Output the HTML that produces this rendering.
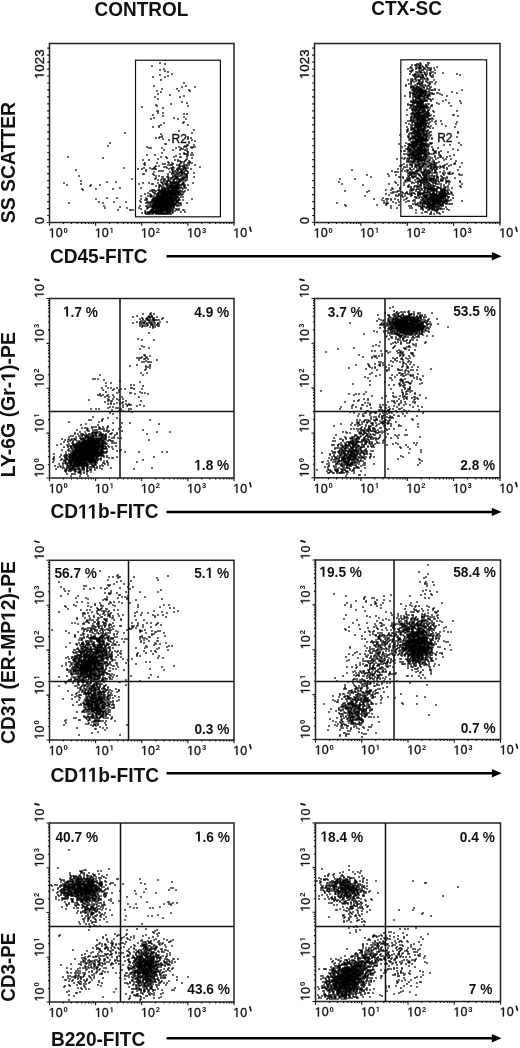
<!DOCTYPE html><html><head><meta charset="utf-8"><style>html,body{margin:0;padding:0;background:#fff;}svg{display:block;will-change:transform}</style></head><body><svg width="520" height="1048" viewBox="0 0 520 1048" font-family='"Liberation Sans", sans-serif' fill="#111">
<rect width="520" height="1048" fill="#fff"/>
<path d="M160 63h0m5 1h0m-13 2h0m12 3h0m-4 1h0m5 1h0m3 1h0m4 2h0m-12 1h0m8 1h0m-15 1h0m12 0h0m-4 3h0m23 3h0m-30 3h0m32 0h0m-4 1h0m13 0h0m-33 2h0m15 0h0m12 1h0m-32 1h0m22 0h0m11 0h0m-29 1h0m-3 2h0m12 1h0m14 1h0m-29 1h0m25 0h0m-22 2h0m24 3h0m5 1h0m-16 1h0m-15 1h0m1 1h0m31 0h0m-46 1h0m21 1h0m-6 3h0m1 0h0m0 2h0m5 0h0m21 1h0m3 0h0m-34 1h0m10 1h0m21 1h0m-30 1h0m20 0h0m-23 1h0m27 0h0m8 0h0m-2 3h0m-20 1h0m19 0h0m-22 2h0m27 0h0m-29 1h0m-6 1h0m6 0h0m35 3h0m-15 1h0m-54 2h0m67 0h0m-31 1h0m1 2h0m-2 1h0m2 0h0m26 0h0m-32 1h0m3 0h0m29 0h0m3 0h0m-28 1h0m25 0h0m-19 1h0m23 0h0m3 1h0m-6 1h0m-79 1h0m79 0h0m-24 1h0m1 0h0m21 1h0m1 0h0m6 0h0m-86 1h0m77 0h0m2 0h0m-40 1h0m32 0h0m5 0h0m2 0h0m5 0h0m2 0h0m2 0h0m-46 1h0m2 0h0m11 0h0m14 0h0m5 0h0m11 0h0m-11 1h0m2 0h0m4 0h0m-23 1h0m9 0h0m7 0h0m5 0h0m2 1h0m1 1h0m-26 1h0m22 0h0m4 0h0m4 0h0m-12 1h0m4 0h0m1 0h0m1 0h0m1 0h0m-40 1h0m8 0h0m33 0h0m3 0h0m2 0h0m-17 1h0m11 0h0m-119 1h0m93 0h0m5 0h0m8 0h0m6 0h0m1 0h0m6 0h0m-84 1h0m64 0h0m25 0h0m-34 1h0m29 0h0m-44 1h0m6 0h0m26 0h0m3 0h0m8 0h0m-8 1h0m2 0h0m5 0h0m4 0h0m-21 1h0m13 0h0m1 0h0m2 0h0m6 0h0m-45 1h0m12 0h0m12 0h0m3 0h0m9 0h0m7 0h0m1 0h0m1 0h0m2 0h0m-48 1h0m19 0h0m2 0h0m8 0h0m7 0h0m4 0h0m-39 1h0m23 0h0m2 0h0m1 0h0m1 0h0m5 0h0m2 0h0m5 0h0m2 0h0m1 0h0m2 0h0m6 0h0m-39 1h0m3 0h0m20 0h0m1 0h0m2 0h0m2 0h0m3 0h0m-32 1h0m9 0h0m2 0h0m7 0h0m7 0h0m3 0h0m2 0h0m15 0h0m-76 1h0m20 0h0m6 0h0m4 0h0m13 0h0m4 0h0m1 0h0m2 0h0m4 0h0m1 0h0m5 0h0m1 0h0m1 0h0m2 0h0m-50 1h0m4 0h0m10 0h0m1 0h0m2 0h0m1 0h0m13 0h0m3 0h0m5 0h0m2 0h0m1 0h0m1 0h0m2 0h0m1 0h0m2 0h0m5 0h0m-115 1h0m70 0h0m26 0h0m1 0h0m4 0h0m1 0h0m3 0h0m2 0h0m3 0h0m-40 1h0m13 0h0m2 0h0m2 0h0m10 0h0m2 0h0m3 0h0m3 0h0m1 0h0m3 0h0m2 0h0m-33 1h0m16 0h0m3 0h0m2 0h0m2 0h0m3 0h0m1 0h0m1 0h0m2 0h0m4 0h0m-16 1h0m1 0h0m4 0h0m2 0h0m2 0h0m1 0h0m1 0h0m1 0h0m4 0h0m6 0h0m-51 1h0m1 0h0m9 0h0m15 0h0m4 0h0m2 0h0m1 0h0m2 0h0m1 0h0m1 0h0m3 0h0m3 0h0m1 0h0m1 0h0m-33 1h0m22 0h0m5 0h0m2 0h0m2 0h0m1 0h0m1 0h0m-108 1h0m77 0h0m3 0h0m9 0h0m5 0h0m1 0h0m1 0h0m1 0h0m2 0h0m1 0h0m1 0h0m1 0h0m6 0h0m-25 1h0m1 0h0m4 0h0m1 0h0m5 0h0m3 0h0m1 0h0m6 0h0m1 0h0m1 0h0m1 0h0m1 0h0m7 0h0m-38 1h0m13 0h0m2 0h0m1 0h0m3 0h0m1 0h0m1 0h0m1 0h0m4 0h0m1 0h0m2 0h0m2 0h0m-55 1h0m23 0h0m7 0h0m2 0h0m1 0h0m3 0h0m3 0h0m3 0h0m1 0h0m1 0h0m1 0h0m1 0h0m2 0h0m1 0h0m1 0h0m1 0h0m1 0h0m-26 1h0m3 0h0m3 0h0m5 0h0m4 0h0m1 0h0m5 0h0m1 0h0m2 0h0m1 0h0m3 0h0m1 0h0m-106 1h0m83 0h0m2 0h0m1 0h0m1 0h0m1 0h0m1 0h0m4 0h0m3 0h0m2 0h0m1 0h0m1 0h0m4 0h0m-78 1h0m9 0h0m45 0h0m2 0h0m4 0h0m4 0h0m1 0h0m2 0h0m1 0h0m1 0h0m2 0h0m1 0h0m1 0h0m3 0h0m-119 1h0m79 0h0m6 0h0m9 0h0m4 0h0m3 0h0m2 0h0m3 0h0m1 0h0m1 0h0m1 0h0m1 0h0m1 0h0m1 0h0m1 0h0m1 0h0m5 0h0m1 0h0m9 0h0m-112 1h0m58 0h0m13 0h0m1 0h0m10 0h0m2 0h0m1 0h0m2 0h0m3 0h0m2 0h0m2 0h0m1 0h0m1 0h0m1 0h0m1 0h0m3 0h0m1 0h0m-116 1h0m24 0h0m9 0h0m59 0h0m1 0h0m3 0h0m3 0h0m1 0h0m1 0h0m2 0h0m1 0h0m1 0h0m1 0h0m2 0h0m2 0h0m1 0h0m2 0h0m1 0h0m1 0h0m2 0h0m1 0h0m3 0h0m-98 1h0m66 0h0m4 0h0m1 0h0m6 0h0m2 0h0m1 0h0m2 0h0m1 0h0m1 0h0m1 0h0m1 0h0m1 0h0m1 0h0m1 0h0m5 0h0m1 0h0m-26 1h0m3 0h0m2 0h0m3 0h0m2 0h0m1 0h0m1 0h0m1 0h0m1 0h0m2 0h0m1 0h0m1 0h0m1 0h0m1 0h0m2 0h0m3 0h0m-64 1h0m21 0h0m18 0h0m3 0h0m2 0h0m1 0h0m2 0h0m1 0h0m1 0h0m2 0h0m1 0h0m1 0h0m1 0h0m1 0h0m1 0h0m1 0h0m1 0h0m1 0h0m1 0h0m2 0h0m3 0h0m1 0h0m-104 1h0m14 0h0m17 0h0m49 0h0m1 0h0m2 0h0m1 0h0m2 0h0m1 0h0m2 0h0m2 0h0m1 0h0m2 0h0m1 0h0m1 0h0m5 0h0m-100 1h0m69 0h0m1 0h0m1 0h0m4 0h0m1 0h0m1 0h0m2 0h0m1 0h0m1 0h0m1 0h0m1 0h0m2 0h0m1 0h0m2 0h0m1 0h0m1 0h0m1 0h0m1 0h0m1 0h0m1 0h0m1 0h0m2 0h0m8 0h0m-38 1h0m2 0h0m3 0h0m1 0h0m3 0h0m1 0h0m1 0h0m1 0h0m1 0h0m1 0h0m1 0h0m1 0h0m1 0h0m1 0h0m1 0h0m1 0h0m1 0h0m1 0h0m1 0h0m1 0h0m1 0h0m1 0h0m1 0h0m1 0h0m2 0h0m2 0h0m3 0h0m-32 1h0m6 0h0m2 0h0m1 0h0m1 0h0m1 0h0m1 0h0m1 0h0m1 0h0m1 0h0m1 0h0m1 0h0m1 0h0m1 0h0m1 0h0m1 0h0m2 0h0m1 0h0m1 0h0m1 0h0m1 0h0m2 0h0m1 0h0m1 0h0m-36 1h0m6 0h0m1 0h0m3 0h0m1 0h0m1 0h0m1 0h0m1 0h0m1 0h0m1 0h0m1 0h0m1 0h0m1 0h0m1 0h0m1 0h0m1 0h0m1 0h0m1 0h0m1 0h0m1 0h0m1 0h0m1 0h0m1 0h0m1 0h0m1 0h0m1 0h0m-35 1h0m5 0h0m5 0h0m2 0h0m1 0h0m1 0h0m2 0h0m1 0h0m1 0h0m1 0h0m1 0h0m1 0h0m1 0h0m1 0h0m1 0h0m1 0h0m1 0h0m1 0h0m1 0h0m1 0h0m1 0h0m1 0h0m1 0h0m1 0h0m1 0h0m2 0h0m2 0h0m-32 1h0m6 0h0m1 0h0m1 0h0m2 0h0m1 0h0m1 0h0m1 0h0m1 0h0m1 0h0m1 0h0m1 0h0m2 0h0m1 0h0m1 0h0m1 0h0m1 0h0m1 0h0m1 0h0m1 0h0m1 0h0m1 0h0m1 0h0m2 0h0m-41 1h0m7 0h0m2 0h0m1 0h0m1 0h0m2 0h0m3 0h0m1 0h0m1 0h0m1 0h0m1 0h0m1 0h0m1 0h0m1 0h0m1 0h0m1 0h0m1 0h0m1 0h0m1 0h0m1 0h0m1 0h0m1 0h0m2 0h0m2 0h0m1 0h0m-26 1h0m5 0h0m1 0h0m2 0h0m1 0h0m1 0h0m1 0h0m1 0h0m1 0h0m1 0h0m1 0h0m1 0h0m1 0h0m1 0h0m1 0h0m1 0h0m1 0h0m1 0h0m2 0h0m1 0h0m1 0h0m1 0h0m3 0h0m2 0h0m-76 1h0m10 0h0m29 0h0m7 0h0m1 0h0m1 0h0m1 0h0m1 0h0m1 0h0m1 0h0m1 0h0m1 0h0m1 0h0m1 0h0m1 0h0m1 0h0m1 0h0m1 0h0m1 0h0m1 0h0m1 0h0m1 0h0m1 0h0m1 0h0m1 0h0m2 0h0m1 0h0m2 0h0m-83 1h0m45 0h0m6 0h0m6 0h0m1 0h0m1 0h0m2 0h0m1 0h0m1 0h0m1 0h0m1 0h0m1 0h0m1 0h0m1 0h0m1 0h0m1 0h0m1 0h0m1 0h0m1 0h0m1 0h0m1 0h0m1 0h0m2 0h0m1 0h0m1 0h0m3 0h0m13 0h0m-47 1h0m1 0h0m1 0h0m5 0h0m2 0h0m2 0h0m1 0h0m1 0h0m1 0h0m1 0h0m1 0h0m1 0h0m1 0h0m1 0h0m1 0h0m1 0h0m1 0h0m1 0h0m1 0h0m1 0h0m1 0h0m1 0h0m1 0h0m1 0h0m1 0h0m2 0h0m1 0h0m1 0h0m1 0h0m3 0h0m-43 1h0m12 0h0m1 0h0m1 0h0m1 0h0m1 0h0m1 0h0m1 0h0m1 0h0m1 0h0m1 0h0m1 0h0m1 0h0m1 0h0m1 0h0m1 0h0m1 0h0m1 0h0m1 0h0m1 0h0m1 0h0m1 0h0m1 0h0m1 0h0m2 0h0m1 0h0m1 0h0m-79 1h0m15 0h0m12 0h0m15 0h0m6 0h0m1 0h0m2 0h0m1 0h0m1 0h0m2 0h0m1 0h0m1 0h0m1 0h0m1 0h0m1 0h0m1 0h0m1 0h0m1 0h0m1 0h0m1 0h0m1 0h0m1 0h0m1 0h0m1 0h0m1 0h0m1 0h0m1 0h0m1 0h0m1 0h0m1 0h0m2 0h0m1 0h0m1 0h0m-109 1h0m34 0h0m43 0h0m2 0h0m2 0h0m2 0h0m2 0h0m1 0h0m1 0h0m2 0h0m1 0h0m1 0h0m1 0h0m1 0h0m1 0h0m1 0h0m1 0h0m1 0h0m1 0h0m1 0h0m1 0h0m1 0h0m1 0h0m1 0h0m1 0h0m1 0h0m2 0h0m2 0h0m1 0h0m2 0h0m6 0h0m-37 1h0m3 0h0m1 0h0m1 0h0m1 0h0m1 0h0m1 0h0m1 0h0m1 0h0m1 0h0m1 0h0m1 0h0m1 0h0m1 0h0m1 0h0m1 0h0m1 0h0m1 0h0m1 0h0m1 0h0m1 0h0m1 0h0m1 0h0m1 0h0m1 0h0m4 0h0m-32 1h0m2 0h0m1 0h0m2 0h0m1 0h0m1 0h0m1 0h0m1 0h0m1 0h0m1 0h0m1 0h0m1 0h0m1 0h0m1 0h0m1 0h0m1 0h0m1 0h0m1 0h0m1 0h0m1 0h0m1 0h0m1 0h0m1 0h0m1 0h0m1 0h0m1 0h0m1 0h0m2 0h0m3 0h0m-77 1h0m36 0h0m6 0h0m6 0h0m1 0h0m1 0h0m1 0h0m1 0h0m1 0h0m1 0h0m1 0h0m1 0h0m1 0h0m1 0h0m1 0h0m1 0h0m1 0h0m1 0h0m1 0h0m1 0h0m1 0h0m1 0h0m1 0h0m1 0h0m1 0h0m1 0h0m3 0h0m2 0h0m-59 1h0m27 0h0m1 0h0m1 0h0m1 0h0m1 0h0m1 0h0m1 0h0m1 0h0m1 0h0m1 0h0m1 0h0m1 0h0m1 0h0m1 0h0m1 0h0m1 0h0m1 0h0m1 0h0m1 0h0m1 0h0m1 0h0m1 0h0m1 0h0m1 0h0m1 0h0m1 0h0m1 0h0m1 0h0m-69 1h0m22 0h0m12 0h0m9 0h0m5 0h0m1 0h0m1 0h0m1 0h0m1 0h0m1 0h0m1 0h0m1 0h0m1 0h0m1 0h0m1 0h0m1 0h0m1 0h0m1 0h0m1 0h0m1 0h0m1 0h0m1 0h0m1 0h0m3 0h0m-33 1h0m6 0h0m5 0h0m1 0h0m1 0h0m2 0h0m1 0h0m1 0h0m1 0h0m1 0h0m1 0h0m1 0h0m1 0h0m1 0h0m1 0h0m1 0h0m1 0h0m1 0h0m1 0h0m1 0h0m2 0h0m1 0h0m3 0h0m1 0h0m2 0h0m-61 1h0m12 0h0m1 0h0m2 0h0m18 0h0m1 0h0m2 0h0m2 0h0m1 0h0m1 0h0m1 0h0m1 0h0m1 0h0m1 0h0m1 0h0m1 0h0m1 0h0m1 0h0m1 0h0m1 0h0m1 0h0m1 0h0m1 0h0m2 0h0m4 0h0m2 0h0m4 0h0m1 0h0m-39 1h0m5 0h0m2 0h0m1 0h0m1 0h0m1 0h0m1 0h0m1 0h0m1 0h0m2 0h0m1 0h0m1 0h0m1 0h0m1 0h0m1 0h0m2 0h0m1 0h0m1 0h0m1 0h0m1 0h0m2 0h0m2 0h0m-29 1h0m2 0h0m1 0h0m1 0h0m1 0h0m1 0h0m1 0h0m1 0h0m1 0h0m2 0h0m1 0h0m1 0h0m1 0h0m1 0h0m1 0h0m1 0h0m3 0h0m1 0h0m1 0h0m1 0h0m1 0h0m2 0h0m9 0h0m4 0h0m-43 1h0m3 0h0m3 0h0m2 0h0m2 0h0m1 0h0m1 0h0m1 0h0m1 0h0m1 0h0m1 0h0m1 0h0m2 0h0m1 0h0m1 0h0m1 0h0m2 0h0m1 0h0m2 0h0m1 0h0m3 0h0m-27 1h0m1 0h0m1 0h0m1 0h0m1 0h0m2 0h0m1 0h0m3 0h0m1 0h0m1 0h0m1 0h0m1 0h0m1 0h0m1 0h0m1 0h0m1 0h0m1 0h0m1 0h0m1 0h0m1 0h0m2 0h0m1 0h0" stroke="#000" stroke-width="1.6" stroke-linecap="square" fill="none"/>
<path d="M420 63h0m8 0h0m1 0h0m-12 1h0m1 0h0m3 0h0m-9 1h0m3 0h0m1 0h0m3 0h0m1 0h0m6 0h0m2 0h0m-12 1h0m1 0h0m3 0h0m2 0h0m4 0h0m-15 1h0m8 0h0m1 0h0m3 0h0m4 0h0m10 0h0m-27 1h0m2 0h0m4 0h0m1 0h0m2 0h0m1 0h0m1 0h0m3 0h0m1 0h0m3 0h0m1 0h0m2 0h0m3 0h0m-26 1h0m8 0h0m3 0h0m1 0h0m4 0h0m1 0h0m6 0h0m-19 1h0m1 0h0m9 0h0m1 0h0m4 0h0m2 0h0m1 0h0m5 0h0m-25 1h0m2 0h0m7 0h0m2 0h0m10 0h0m-20 1h0m5 0h0m1 0h0m3 0h0m1 0h0m3 0h0m3 0h0m6 0h0m-15 1h0m2 0h0m2 0h0m3 0h0m5 0h0m1 0h0m4 0h0m8 0h0m-33 1h0m5 0h0m1 0h0m9 0h0m2 0h0m3 0h0m27 0h0m-44 1h0m1 0h0m1 0h0m1 0h0m2 0h0m1 0h0m2 0h0m1 0h0m1 0h0m3 0h0m4 0h0m3 0h0m27 0h0m-46 1h0m4 0h0m1 0h0m4 0h0m3 0h0m5 0h0m-16 1h0m1 0h0m1 0h0m1 0h0m2 0h0m1 0h0m1 0h0m1 0h0m9 0h0m1 0h0m-17 1h0m5 0h0m2 0h0m1 0h0m3 0h0m-16 1h0m1 0h0m3 0h0m6 0h0m4 0h0m2 0h0m1 0h0m-20 1h0m5 0h0m3 0h0m2 0h0m1 0h0m1 0h0m3 0h0m5 0h0m6 0h0m-23 1h0m1 0h0m4 0h0m3 0h0m1 0h0m6 0h0m-15 1h0m3 0h0m5 0h0m3 0h0m1 0h0m4 0h0m3 0h0m2 0h0m4 0h0m-25 1h0m7 0h0m1 0h0m2 0h0m1 0h0m6 0h0m2 0h0m-21 1h0m2 0h0m6 0h0m1 0h0m2 0h0m1 0h0m1 0h0m8 0h0m5 0h0m-29 1h0m9 0h0m5 0h0m3 0h0m2 0h0m4 0h0m-23 1h0m5 0h0m2 0h0m4 0h0m4 0h0m1 0h0m4 0h0m2 0h0m1 0h0m-18 1h0m1 0h0m2 0h0m2 0h0m2 0h0m1 0h0m4 0h0m1 0h0m7 0h0m-20 1h0m2 0h0m1 0h0m2 0h0m1 0h0m1 0h0m2 0h0m1 0h0m3 0h0m3 0h0m3 0h0m-17 1h0m2 0h0m1 0h0m1 0h0m2 0h0m1 0h0m1 0h0m1 0h0m5 0h0m2 0h0m6 0h0m-23 1h0m2 0h0m1 0h0m1 0h0m2 0h0m1 0h0m1 0h0m1 0h0m1 0h0m1 0h0m2 0h0m6 0h0m1 0h0m1 0h0m2 0h0m4 0h0m23 0h0m-49 1h0m2 0h0m2 0h0m2 0h0m1 0h0m1 0h0m1 0h0m1 0h0m1 0h0m1 0h0m1 0h0m3 0h0m-19 1h0m4 0h0m1 0h0m1 0h0m2 0h0m2 0h0m1 0h0m1 0h0m1 0h0m1 0h0m1 0h0m1 0h0m1 0h0m2 0h0m23 0h0m-42 1h0m2 0h0m2 0h0m3 0h0m1 0h0m1 0h0m1 0h0m1 0h0m2 0h0m1 0h0m2 0h0m4 0h0m2 0h0m5 0h0m1 0h0m19 0h0m-47 1h0m3 0h0m1 0h0m1 0h0m1 0h0m1 0h0m3 0h0m1 0h0m1 0h0m1 0h0m1 0h0m1 0h0m1 0h0m2 0h0m2 0h0m2 0h0m1 0h0m1 0h0m6 0h0m-27 1h0m1 0h0m1 0h0m3 0h0m1 0h0m1 0h0m1 0h0m1 0h0m3 0h0m1 0h0m2 0h0m1 0h0m13 0h0m-37 1h0m5 0h0m5 0h0m1 0h0m1 0h0m1 0h0m1 0h0m1 0h0m1 0h0m2 0h0m1 0h0m1 0h0m2 0h0m1 0h0m2 0h0m17 0h0m-37 1h0m3 0h0m1 0h0m1 0h0m2 0h0m2 0h0m1 0h0m2 0h0m2 0h0m3 0h0m1 0h0m-12 1h0m1 0h0m1 0h0m1 0h0m1 0h0m4 0h0m1 0h0m1 0h0m2 0h0m-15 1h0m3 0h0m2 0h0m1 0h0m1 0h0m2 0h0m2 0h0m5 0h0m1 0h0m3 0h0m-20 1h0m2 0h0m1 0h0m4 0h0m1 0h0m1 0h0m2 0h0m1 0h0m1 0h0m1 0h0m4 0h0m15 0h0m-35 1h0m2 0h0m1 0h0m1 0h0m1 0h0m1 0h0m1 0h0m1 0h0m1 0h0m1 0h0m1 0h0m1 0h0m1 0h0m1 0h0m1 0h0m1 0h0m4 0h0m12 0h0m17 0h0m-49 1h0m1 0h0m1 0h0m2 0h0m1 0h0m1 0h0m1 0h0m2 0h0m1 0h0m1 0h0m1 0h0m-10 1h0m1 0h0m1 0h0m1 0h0m1 0h0m1 0h0m1 0h0m1 0h0m1 0h0m1 0h0m1 0h0m14 0h0m12 0h0m12 0h0m-53 1h0m5 0h0m1 0h0m3 0h0m1 0h0m1 0h0m1 0h0m1 0h0m1 0h0m1 0h0m3 0h0m2 0h0m1 0h0m10 0h0m-31 1h0m2 0h0m1 0h0m1 0h0m5 0h0m1 0h0m2 0h0m1 0h0m1 0h0m2 0h0m2 0h0m6 0h0m-21 1h0m2 0h0m1 0h0m2 0h0m2 0h0m1 0h0m1 0h0m1 0h0m1 0h0m1 0h0m1 0h0m1 0h0m2 0h0m4 0h0m1 0h0m19 0h0m-40 1h0m3 0h0m1 0h0m1 0h0m1 0h0m1 0h0m1 0h0m1 0h0m1 0h0m1 0h0m1 0h0m1 0h0m1 0h0m1 0h0m1 0h0m1 0h0m-18 1h0m3 0h0m3 0h0m1 0h0m2 0h0m1 0h0m1 0h0m1 0h0m1 0h0m2 0h0m1 0h0m1 0h0m1 0h0m2 0h0m-18 1h0m1 0h0m1 0h0m1 0h0m1 0h0m1 0h0m2 0h0m1 0h0m1 0h0m2 0h0m1 0h0m-17 1h0m5 0h0m2 0h0m1 0h0m2 0h0m1 0h0m2 0h0m1 0h0m2 0h0m1 0h0m1 0h0m3 0h0m1 0h0m-16 1h0m2 0h0m1 0h0m2 0h0m1 0h0m3 0h0m1 0h0m2 0h0m3 0h0m5 0h0m24 0h0m-44 1h0m3 0h0m2 0h0m1 0h0m1 0h0m2 0h0m1 0h0m1 0h0m2 0h0m1 0h0m1 0h0m6 0h0m-22 1h0m2 0h0m2 0h0m1 0h0m1 0h0m1 0h0m1 0h0m1 0h0m1 0h0m2 0h0m2 0h0m2 0h0m1 0h0m-18 1h0m1 0h0m1 0h0m1 0h0m1 0h0m1 0h0m1 0h0m1 0h0m1 0h0m1 0h0m4 0h0m1 0h0m1 0h0m1 0h0m1 0h0m1 0h0m-22 1h0m7 0h0m1 0h0m1 0h0m2 0h0m1 0h0m1 0h0m1 0h0m1 0h0m1 0h0m1 0h0m1 0h0m2 0h0m1 0h0m1 0h0m2 0h0m22 0h0m1 0h0m-42 1h0m2 0h0m1 0h0m1 0h0m1 0h0m1 0h0m1 0h0m1 0h0m1 0h0m1 0h0m2 0h0m2 0h0m2 0h0m1 0h0m1 0h0m4 0h0m24 0h0m-47 1h0m1 0h0m2 0h0m1 0h0m2 0h0m1 0h0m1 0h0m2 0h0m1 0h0m1 0h0m1 0h0m1 0h0m2 0h0m1 0h0m-17 1h0m3 0h0m1 0h0m1 0h0m1 0h0m1 0h0m1 0h0m1 0h0m1 0h0m1 0h0m1 0h0m1 0h0m1 0h0m1 0h0m2 0h0m4 0h0m-21 1h0m2 0h0m4 0h0m1 0h0m1 0h0m1 0h0m2 0h0m1 0h0m1 0h0m1 0h0m4 0h0m1 0h0m1 0h0m2 0h0m-22 1h0m2 0h0m2 0h0m1 0h0m1 0h0m1 0h0m1 0h0m1 0h0m1 0h0m1 0h0m1 0h0m1 0h0m2 0h0m2 0h0m1 0h0m-21 1h0m2 0h0m1 0h0m1 0h0m2 0h0m4 0h0m2 0h0m1 0h0m1 0h0m1 0h0m1 0h0m1 0h0m1 0h0m1 0h0m5 0h0m4 0h0m5 0h0m-28 1h0m1 0h0m2 0h0m1 0h0m1 0h0m2 0h0m1 0h0m1 0h0m1 0h0m1 0h0m1 0h0m5 0h0m5 0h0m22 0h0m-51 1h0m6 0h0m3 0h0m1 0h0m1 0h0m1 0h0m1 0h0m1 0h0m1 0h0m1 0h0m1 0h0m1 0h0m2 0h0m1 0h0m1 0h0m-19 1h0m6 0h0m2 0h0m1 0h0m1 0h0m1 0h0m1 0h0m2 0h0m1 0h0m1 0h0m1 0h0m3 0h0m7 0h0m6 0h0m14 0h0m-45 1h0m1 0h0m1 0h0m2 0h0m1 0h0m1 0h0m1 0h0m1 0h0m1 0h0m1 0h0m1 0h0m1 0h0m1 0h0m2 0h0m-11 1h0m1 0h0m2 0h0m1 0h0m2 0h0m1 0h0m1 0h0m2 0h0m2 0h0m1 0h0m3 0h0m15 0h0m-39 1h0m4 0h0m1 0h0m3 0h0m2 0h0m1 0h0m1 0h0m1 0h0m1 0h0m3 0h0m1 0h0m3 0h0m1 0h0m26 0h0m-43 1h0m2 0h0m1 0h0m1 0h0m1 0h0m1 0h0m1 0h0m2 0h0m1 0h0m2 0h0m1 0h0m1 0h0m4 0h0m3 0h0m-25 1h0m3 0h0m1 0h0m1 0h0m1 0h0m4 0h0m1 0h0m1 0h0m2 0h0m1 0h0m1 0h0m-17 1h0m4 0h0m1 0h0m2 0h0m1 0h0m2 0h0m1 0h0m1 0h0m1 0h0m1 0h0m1 0h0m1 0h0m1 0h0m1 0h0m3 0h0m-20 1h0m6 0h0m1 0h0m1 0h0m1 0h0m1 0h0m1 0h0m2 0h0m2 0h0m1 0h0m2 0h0m1 0h0m1 0h0m-21 1h0m6 0h0m1 0h0m1 0h0m1 0h0m1 0h0m2 0h0m1 0h0m2 0h0m2 0h0m2 0h0m4 0h0m1 0h0m27 0h0m-48 1h0m2 0h0m2 0h0m1 0h0m1 0h0m1 0h0m1 0h0m1 0h0m1 0h0m2 0h0m1 0h0m1 0h0m3 0h0m2 0h0m29 0h0m-49 1h0m2 0h0m2 0h0m2 0h0m2 0h0m1 0h0m1 0h0m1 0h0m1 0h0m3 0h0m1 0h0m1 0h0m1 0h0m2 0h0m-29 1h0m15 0h0m1 0h0m1 0h0m1 0h0m1 0h0m1 0h0m1 0h0m1 0h0m1 0h0m1 0h0m1 0h0m2 0h0m4 0h0m-23 1h0m1 0h0m3 0h0m1 0h0m2 0h0m1 0h0m1 0h0m1 0h0m1 0h0m1 0h0m1 0h0m3 0h0m2 0h0m2 0h0m2 0h0m-22 1h0m5 0h0m1 0h0m1 0h0m1 0h0m1 0h0m1 0h0m1 0h0m1 0h0m1 0h0m1 0h0m1 0h0m1 0h0m2 0h0m1 0h0m30 0h0m-48 1h0m1 0h0m1 0h0m1 0h0m2 0h0m1 0h0m3 0h0m1 0h0m1 0h0m1 0h0m1 0h0m1 0h0m1 0h0m2 0h0m3 0h0m3 0h0m-21 1h0m2 0h0m2 0h0m1 0h0m1 0h0m1 0h0m1 0h0m2 0h0m1 0h0m1 0h0m2 0h0m1 0h0m1 0h0m5 0h0m-23 1h0m1 0h0m6 0h0m1 0h0m1 0h0m1 0h0m1 0h0m1 0h0m1 0h0m1 0h0m1 0h0m1 0h0m1 0h0m1 0h0m1 0h0m-15 1h0m2 0h0m1 0h0m1 0h0m1 0h0m2 0h0m1 0h0m1 0h0m1 0h0m1 0h0m1 0h0m1 0h0m1 0h0m-16 1h0m1 0h0m1 0h0m1 0h0m1 0h0m1 0h0m1 0h0m1 0h0m1 0h0m1 0h0m1 0h0m1 0h0m-16 1h0m6 0h0m1 0h0m1 0h0m1 0h0m1 0h0m1 0h0m1 0h0m2 0h0m1 0h0m1 0h0m1 0h0m1 0h0m2 0h0m4 0h0m1 0h0m1 0h0m27 0h0m-60 1h0m9 0h0m1 0h0m1 0h0m2 0h0m1 0h0m1 0h0m1 0h0m1 0h0m1 0h0m1 0h0m2 0h0m1 0h0m1 0h0m1 0h0m1 0h0m1 0h0m1 0h0m2 0h0m3 0h0m-22 1h0m1 0h0m1 0h0m2 0h0m1 0h0m1 0h0m1 0h0m1 0h0m1 0h0m1 0h0m1 0h0m1 0h0m1 0h0m1 0h0m1 0h0m1 0h0m2 0h0m2 0h0m15 0h0m6 0h0m11 0h0m-56 1h0m4 0h0m1 0h0m1 0h0m1 0h0m1 0h0m1 0h0m1 0h0m1 0h0m4 0h0m1 0h0m1 0h0m1 0h0m2 0h0m1 0h0m1 0h0m2 0h0m-27 1h0m6 0h0m4 0h0m1 0h0m1 0h0m1 0h0m1 0h0m1 0h0m1 0h0m1 0h0m1 0h0m1 0h0m1 0h0m1 0h0m1 0h0m3 0h0m1 0h0m4 0h0m-24 1h0m1 0h0m2 0h0m1 0h0m1 0h0m1 0h0m4 0h0m1 0h0m1 0h0m1 0h0m1 0h0m3 0h0m13 0h0m-32 1h0m1 0h0m2 0h0m1 0h0m4 0h0m1 0h0m1 0h0m1 0h0m1 0h0m1 0h0m1 0h0m1 0h0m2 0h0m1 0h0m1 0h0m1 0h0m2 0h0m5 0h0m20 0h0m-45 1h0m2 0h0m1 0h0m1 0h0m2 0h0m1 0h0m1 0h0m1 0h0m1 0h0m1 0h0m1 0h0m1 0h0m1 0h0m1 0h0m1 0h0m1 0h0m2 0h0m1 0h0m5 0h0m25 0h0m-57 1h0m3 0h0m1 0h0m4 0h0m1 0h0m2 0h0m2 0h0m2 0h0m1 0h0m1 0h0m2 0h0m1 0h0m1 0h0m2 0h0m1 0h0m1 0h0m8 0h0m2 0h0m5 0h0m-33 1h0m2 0h0m2 0h0m1 0h0m1 0h0m1 0h0m1 0h0m1 0h0m1 0h0m1 0h0m1 0h0m1 0h0m1 0h0m1 0h0m1 0h0m1 0h0m2 0h0m1 0h0m7 0h0m4 0h0m9 0h0m-38 1h0m2 0h0m1 0h0m1 0h0m2 0h0m2 0h0m1 0h0m1 0h0m1 0h0m1 0h0m1 0h0m1 0h0m1 0h0m1 0h0m3 0h0m5 0h0m2 0h0m3 0h0m-35 1h0m2 0h0m2 0h0m2 0h0m1 0h0m1 0h0m1 0h0m1 0h0m2 0h0m1 0h0m1 0h0m1 0h0m1 0h0m1 0h0m1 0h0m1 0h0m1 0h0m1 0h0m1 0h0m2 0h0m2 0h0m2 0h0m2 0h0m-26 1h0m1 0h0m1 0h0m1 0h0m2 0h0m1 0h0m1 0h0m1 0h0m1 0h0m1 0h0m1 0h0m1 0h0m1 0h0m4 0h0m1 0h0m1 0h0m1 0h0m11 0h0m1 0h0m14 0h0m-45 1h0m3 0h0m1 0h0m1 0h0m1 0h0m2 0h0m1 0h0m1 0h0m2 0h0m3 0h0m1 0h0m1 0h0m9 0h0m6 0h0m9 0h0m-40 1h0m2 0h0m2 0h0m1 0h0m1 0h0m2 0h0m1 0h0m1 0h0m1 0h0m1 0h0m1 0h0m1 0h0m1 0h0m1 0h0m1 0h0m1 0h0m2 0h0m5 0h0m5 0h0m1 0h0m6 0h0m-45 1h0m3 0h0m3 0h0m2 0h0m1 0h0m1 0h0m1 0h0m2 0h0m2 0h0m1 0h0m1 0h0m1 0h0m1 0h0m2 0h0m3 0h0m6 0h0m6 0h0m5 0h0m-46 1h0m7 0h0m3 0h0m2 0h0m3 0h0m2 0h0m1 0h0m1 0h0m1 0h0m1 0h0m1 0h0m1 0h0m1 0h0m2 0h0m1 0h0m1 0h0m1 0h0m2 0h0m2 0h0m6 0h0m10 0h0m5 0h0m-42 1h0m5 0h0m1 0h0m2 0h0m1 0h0m1 0h0m1 0h0m1 0h0m1 0h0m1 0h0m1 0h0m1 0h0m5 0h0m3 0h0m11 0h0m-37 1h0m1 0h0m3 0h0m2 0h0m1 0h0m1 0h0m3 0h0m1 0h0m2 0h0m1 0h0m1 0h0m2 0h0m2 0h0m1 0h0m1 0h0m5 0h0m22 0h0m-49 1h0m2 0h0m1 0h0m1 0h0m1 0h0m1 0h0m1 0h0m1 0h0m2 0h0m1 0h0m1 0h0m1 0h0m5 0h0m2 0h0m1 0h0m1 0h0m3 0h0m2 0h0m5 0h0m-26 1h0m5 0h0m4 0h0m1 0h0m1 0h0m6 0h0m4 0h0m1 0h0m1 0h0m1 0h0m18 0h0m7 0h0m-58 1h0m6 0h0m2 0h0m3 0h0m1 0h0m3 0h0m1 0h0m1 0h0m2 0h0m2 0h0m1 0h0m2 0h0m3 0h0m1 0h0m2 0h0m13 0h0m7 0h0m1 0h0m-53 1h0m5 0h0m3 0h0m1 0h0m1 0h0m4 0h0m1 0h0m1 0h0m1 0h0m4 0h0m1 0h0m2 0h0m4 0h0m1 0h0m2 0h0m1 0h0m1 0h0m1 0h0m9 0h0m6 0h0m-51 1h0m1 0h0m11 0h0m3 0h0m2 0h0m1 0h0m1 0h0m2 0h0m1 0h0m1 0h0m5 0h0m1 0h0m2 0h0m4 0h0m5 0h0m3 0h0m1 0h0m5 0h0m-45 1h0m1 0h0m2 0h0m5 0h0m3 0h0m1 0h0m4 0h0m1 0h0m2 0h0m2 0h0m2 0h0m2 0h0m2 0h0m1 0h0m1 0h0m1 0h0m1 0h0m1 0h0m1 0h0m1 0h0m3 0h0m2 0h0m17 0h0m-50 1h0m7 0h0m2 0h0m1 0h0m1 0h0m10 0h0m3 0h0m2 0h0m4 0h0m4 0h0m3 0h0m-49 1h0m5 0h0m7 0h0m4 0h0m5 0h0m2 0h0m3 0h0m2 0h0m4 0h0m2 0h0m1 0h0m1 0h0m3 0h0m10 0h0m-95 1h0m55 0h0m1 0h0m3 0h0m1 0h0m5 0h0m1 0h0m2 0h0m1 0h0m4 0h0m3 0h0m4 0h0m3 0h0m1 0h0m22 0h0m-66 1h0m10 0h0m3 0h0m3 0h0m8 0h0m1 0h0m1 0h0m1 0h0m5 0h0m1 0h0m1 0h0m1 0h0m2 0h0m1 0h0m2 0h0m3 0h0m9 0h0m-49 1h0m1 0h0m2 0h0m9 0h0m3 0h0m2 0h0m1 0h0m2 0h0m2 0h0m4 0h0m1 0h0m2 0h0m1 0h0m2 0h0m2 0h0m1 0h0m5 0h0m1 0h0m4 0h0m10 0h0m-41 1h0m1 0h0m1 0h0m1 0h0m1 0h0m1 0h0m1 0h0m2 0h0m5 0h0m1 0h0m1 0h0m3 0h0m1 0h0m2 0h0m2 0h0m2 0h0m2 0h0m1 0h0m6 0h0m2 0h0m3 0h0m1 0h0m4 0h0m-65 1h0m20 0h0m2 0h0m1 0h0m1 0h0m1 0h0m1 0h0m1 0h0m1 0h0m2 0h0m1 0h0m4 0h0m2 0h0m1 0h0m1 0h0m1 0h0m1 0h0m14 0h0m6 0h0m1 0h0m2 0h0m7 0h0m-92 1h0m29 0h0m14 0h0m1 0h0m8 0h0m1 0h0m3 0h0m1 0h0m2 0h0m6 0h0m5 0h0m7 0h0m16 0h0m2 0h0m-73 1h0m19 0h0m1 0h0m3 0h0m2 0h0m1 0h0m1 0h0m4 0h0m4 0h0m1 0h0m2 0h0m1 0h0m1 0h0m1 0h0m2 0h0m2 0h0m1 0h0m2 0h0m4 0h0m-70 1h0m28 0h0m1 0h0m3 0h0m6 0h0m3 0h0m1 0h0m1 0h0m1 0h0m6 0h0m3 0h0m1 0h0m1 0h0m8 0h0m3 0h0m1 0h0m4 0h0m5 0h0m-44 1h0m4 0h0m3 0h0m3 0h0m4 0h0m1 0h0m4 0h0m2 0h0m1 0h0m1 0h0m1 0h0m1 0h0m1 0h0m1 0h0m1 0h0m1 0h0m2 0h0m3 0h0m1 0h0m5 0h0m2 0h0m2 0h0m8 0h0m-115 1h0m15 0h0m53 0h0m1 0h0m1 0h0m7 0h0m2 0h0m3 0h0m1 0h0m1 0h0m2 0h0m1 0h0m3 0h0m2 0h0m1 0h0m1 0h0m2 0h0m5 0h0m2 0h0m-37 1h0m1 0h0m2 0h0m6 0h0m5 0h0m1 0h0m2 0h0m1 0h0m1 0h0m1 0h0m1 0h0m1 0h0m1 0h0m1 0h0m1 0h0m1 0h0m1 0h0m1 0h0m2 0h0m2 0h0m3 0h0m2 0h0m3 0h0m-41 1h0m3 0h0m2 0h0m8 0h0m1 0h0m1 0h0m1 0h0m1 0h0m1 0h0m2 0h0m2 0h0m3 0h0m1 0h0m3 0h0m1 0h0m1 0h0m2 0h0m3 0h0m1 0h0m5 0h0m1 0h0m1 0h0m11 0h0m-121 1h0m56 0h0m11 0h0m6 0h0m4 0h0m2 0h0m2 0h0m1 0h0m3 0h0m2 0h0m2 0h0m4 0h0m1 0h0m3 0h0m3 0h0m7 0h0m2 0h0m2 0h0m10 0h0m-64 1h0m8 0h0m8 0h0m2 0h0m4 0h0m3 0h0m1 0h0m1 0h0m2 0h0m1 0h0m1 0h0m1 0h0m1 0h0m4 0h0m1 0h0m1 0h0m1 0h0m10 0h0m-104 1h0m47 0h0m29 0h0m3 0h0m3 0h0m5 0h0m1 0h0m6 0h0m1 0h0m2 0h0m2 0h0m8 0h0m13 0h0m-99 1h0m35 0h0m6 0h0m5 0h0m11 0h0m1 0h0m3 0h0m1 0h0m1 0h0m1 0h0m1 0h0m3 0h0m2 0h0m11 0h0m-36 1h0m7 0h0m1 0h0m1 0h0m1 0h0m2 0h0m1 0h0m7 0h0m1 0h0m1 0h0m1 0h0m2 0h0m1 0h0m1 0h0m6 0h0m7 0h0m12 0h0m-52 1h0m1 0h0m2 0h0m3 0h0m3 0h0m1 0h0m1 0h0m5 0h0m1 0h0m1 0h0m2 0h0m3 0h0m2 0h0m4 0h0m1 0h0m6 0h0m2 0h0m15 0h0m-69 1h0m8 0h0m11 0h0m10 0h0m3 0h0m1 0h0m1 0h0m1 0h0m2 0h0m1 0h0m1 0h0m1 0h0m2 0h0m4 0h0m1 0h0m1 0h0m1 0h0m4 0h0m3 0h0m4 0h0m-59 1h0m7 0h0m12 0h0m2 0h0m3 0h0m1 0h0m1 0h0m3 0h0m3 0h0m3 0h0m1 0h0m1 0h0m1 0h0m1 0h0m1 0h0m1 0h0m1 0h0m1 0h0m1 0h0m4 0h0m2 0h0m1 0h0m1 0h0m-59 1h0m5 0h0m19 0h0m1 0h0m2 0h0m3 0h0m4 0h0m2 0h0m3 0h0m2 0h0m1 0h0m2 0h0m2 0h0m1 0h0m1 0h0m1 0h0m1 0h0m5 0h0m1 0h0m1 0h0m1 0h0m1 0h0m2 0h0m2 0h0m-104 1h0m24 0h0m29 0h0m1 0h0m13 0h0m4 0h0m4 0h0m4 0h0m4 0h0m3 0h0m2 0h0m1 0h0m2 0h0m1 0h0m4 0h0m2 0h0m2 0h0m2 0h0m-80 1h0m26 0h0m2 0h0m2 0h0m5 0h0m5 0h0m3 0h0m8 0h0m1 0h0m5 0h0m1 0h0m2 0h0m2 0h0m1 0h0m3 0h0m1 0h0m3 0h0m2 0h0m1 0h0m1 0h0m1 0h0m1 0h0m1 0h0m1 0h0m3 0h0m3 0h0m-60 1h0m2 0h0m10 0h0m3 0h0m1 0h0m5 0h0m1 0h0m1 0h0m4 0h0m2 0h0m1 0h0m2 0h0m1 0h0m2 0h0m1 0h0m1 0h0m2 0h0m3 0h0m1 0h0m3 0h0m3 0h0m2 0h0m1 0h0m1 0h0m2 0h0m2 0h0m4 0h0m-66 1h0m13 0h0m6 0h0m3 0h0m1 0h0m1 0h0m1 0h0m4 0h0m3 0h0m1 0h0m1 0h0m1 0h0m1 0h0m2 0h0m6 0h0m1 0h0m1 0h0m1 0h0m1 0h0m1 0h0m1 0h0m3 0h0m1 0h0m1 0h0m1 0h0m1 0h0m1 0h0m1 0h0m2 0h0m1 0h0m1 0h0m2 0h0m-62 1h0m7 0h0m3 0h0m3 0h0m9 0h0m1 0h0m6 0h0m1 0h0m1 0h0m3 0h0m2 0h0m1 0h0m1 0h0m1 0h0m1 0h0m1 0h0m1 0h0m1 0h0m1 0h0m1 0h0m1 0h0m1 0h0m1 0h0m1 0h0m1 0h0m1 0h0m1 0h0m1 0h0m1 0h0m1 0h0m1 0h0m1 0h0m7 0h0m-88 1h0m31 0h0m2 0h0m4 0h0m3 0h0m6 0h0m7 0h0m6 0h0m1 0h0m1 0h0m1 0h0m4 0h0m1 0h0m1 0h0m1 0h0m1 0h0m1 0h0m1 0h0m1 0h0m2 0h0m1 0h0m1 0h0m1 0h0m1 0h0m1 0h0m1 0h0m1 0h0m-44 1h0m12 0h0m1 0h0m4 0h0m2 0h0m2 0h0m1 0h0m1 0h0m1 0h0m2 0h0m1 0h0m1 0h0m1 0h0m1 0h0m1 0h0m1 0h0m2 0h0m1 0h0m1 0h0m1 0h0m1 0h0m1 0h0m1 0h0m1 0h0m1 0h0m3 0h0m1 0h0m-66 1h0m24 0h0m9 0h0m1 0h0m2 0h0m3 0h0m2 0h0m2 0h0m1 0h0m2 0h0m1 0h0m1 0h0m1 0h0m1 0h0m1 0h0m1 0h0m1 0h0m1 0h0m1 0h0m1 0h0m1 0h0m1 0h0m1 0h0m1 0h0m1 0h0m1 0h0m3 0h0m5 0h0m-79 1h0m12 0h0m1 0h0m1 0h0m3 0h0m4 0h0m11 0h0m17 0h0m1 0h0m2 0h0m2 0h0m1 0h0m1 0h0m2 0h0m1 0h0m1 0h0m1 0h0m1 0h0m1 0h0m1 0h0m1 0h0m1 0h0m1 0h0m1 0h0m1 0h0m3 0h0m-64 1h0m9 0h0m7 0h0m6 0h0m10 0h0m1 0h0m6 0h0m1 0h0m2 0h0m2 0h0m1 0h0m1 0h0m1 0h0m1 0h0m1 0h0m1 0h0m1 0h0m1 0h0m1 0h0m1 0h0m1 0h0m1 0h0m1 0h0m2 0h0m3 0h0m1 0h0m2 0h0m1 0h0m3 0h0m-67 1h0m3 0h0m21 0h0m1 0h0m4 0h0m10 0h0m2 0h0m3 0h0m2 0h0m1 0h0m1 0h0m1 0h0m1 0h0m1 0h0m1 0h0m1 0h0m1 0h0m1 0h0m1 0h0m1 0h0m1 0h0m1 0h0m2 0h0m1 0h0m1 0h0m2 0h0m13 0h0m-69 1h0m6 0h0m7 0h0m9 0h0m5 0h0m1 0h0m3 0h0m1 0h0m1 0h0m1 0h0m1 0h0m1 0h0m2 0h0m1 0h0m1 0h0m1 0h0m2 0h0m1 0h0m1 0h0m1 0h0m1 0h0m1 0h0m1 0h0m1 0h0m1 0h0m1 0h0m2 0h0m-110 1h0m47 0h0m2 0h0m2 0h0m8 0h0m22 0h0m3 0h0m1 0h0m1 0h0m2 0h0m1 0h0m2 0h0m1 0h0m1 0h0m3 0h0m1 0h0m1 0h0m1 0h0m1 0h0m1 0h0m1 0h0m1 0h0m3 0h0m1 0h0m1 0h0m2 0h0m-60 1h0m26 0h0m2 0h0m2 0h0m3 0h0m3 0h0m1 0h0m1 0h0m1 0h0m1 0h0m1 0h0m1 0h0m1 0h0m1 0h0m1 0h0m1 0h0m1 0h0m1 0h0m1 0h0m1 0h0m2 0h0m2 0h0m1 0h0m1 0h0m3 0h0m1 0h0m2 0h0m1 0h0m2 0h0m-107 1h0m32 0h0m9 0h0m13 0h0m17 0h0m2 0h0m4 0h0m5 0h0m1 0h0m1 0h0m1 0h0m1 0h0m1 0h0m1 0h0m1 0h0m1 0h0m3 0h0m2 0h0m1 0h0m1 0h0m1 0h0m-97 1h0m45 0h0m18 0h0m2 0h0m8 0h0m1 0h0m3 0h0m1 0h0m4 0h0m1 0h0m2 0h0m1 0h0m1 0h0m1 0h0m1 0h0m2 0h0m1 0h0m2 0h0m1 0h0m2 0h0m-22 1h0m1 0h0m1 0h0m2 0h0m2 0h0m1 0h0m1 0h0m1 0h0m2 0h0m1 0h0m2 0h0m1 0h0m1 0h0m2 0h0m7 0h0m-55 1h0m6 0h0m13 0h0m2 0h0m10 0h0m4 0h0m1 0h0m2 0h0m1 0h0m1 0h0m2 0h0m1 0h0m3 0h0m2 0h0m2 0h0m-20 1h0m2 0h0m6 0h0m1 0h0m2 0h0m1 0h0m2 0h0m2 0h0m1 0h0m2 0h0m1 0h0m1 0h0m2 0h0m3 0h0m-31 1h0m7 0h0m5 0h0m1 0h0m3 0h0m1 0h0m1 0h0m2 0h0m2 0h0m11 0h0m-14 1h0m2 0h0m-12 1h0m1 0h0m1 0h0m4 0h0m6 0h0m6 0h0m-27 1h0m6 0h0m9 0h0m6 0h0m2 0h0m-9 1h0m1 0h0m3 0h0m6 0h0" stroke="#000" stroke-width="1.6" stroke-linecap="square" fill="none"/>
<path d="M151 313h0m-8 1h0m7 0h0m4 0h0m-3 1h0m-14 1h0m12 0h0m3 0h0m-19 1h0m15 0h0m1 0h0m1 0h0m1 0h0m1 0h0m5 0h0m-15 1h0m5 0h0m3 0h0m3 0h0m1 0h0m9 0h0m-23 1h0m3 0h0m3 0h0m2 0h0m5 0h0m1 0h0m8 0h0m-19 1h0m4 0h0m1 0h0m1 0h0m1 0h0m2 0h0m1 0h0m1 0h0m1 0h0m1 0h0m1 0h0m2 0h0m-18 1h0m4 0h0m4 0h0m5 0h0m-17 1h0m3 0h0m3 0h0m2 0h0m5 0h0m2 0h0m2 0h0m6 0h0m7 0h0m-34 1h0m7 0h0m2 0h0m2 0h0m3 0h0m2 0h0m2 0h0m4 0h0m3 0h0m-18 1h0m4 0h0m2 0h0m1 0h0m4 0h0m1 0h0m1 0h0m5 0h0m1 0h0m-17 1h0m6 0h0m3 0h0m1 0h0m3 0h0m2 0h0m-17 1h0m3 0h0m2 0h0m2 0h0m6 0h0m5 0h0m1 0h0m-17 1h0m8 0h0m3 0h0m2 0h0m-2 1h0m-4 5h0m-11 6h0m4 1h0m12 0h0m-12 6h0m2 1h0m5 1h0m-9 1h0m4 6h0m1 0h0m0 1h0m5 0h0m-8 1h0m5 0h0m-10 1h0m2 0h0m1 0h0m1 0h0m5 0h0m-2 1h0m1 0h0m3 0h0m-9 1h0m18 0h0m-11 1h0m-4 1h0m2 0h0m4 0h0m1 0h0m2 0h0m-14 3h0m13 0h0m-20 1h0m16 0h0m4 0h0m-4 1h0m2 0h0m2 1h0m-4 1h0m-1 1h0m-4 3h0m6 0h0m-47 2h0m43 0h0m-50 4h0m2 0h0m3 0h0m6 1h0m16 1h0m20 1h0m-34 1h0m5 0h0m20 2h0m3 0h0m-28 1h0m37 0h0m-41 2h0m6 0h0m3 0h0m6 0h0m14 0h0m1 0h0m-18 1h0m7 0h0m4 0h0m9 0h0m8 0h0m-39 1h0m10 0h0m6 0h0m-13 2h0m13 0h0m21 0h0m-23 1h0m13 0h0m1 0h0m11 0h0m3 0h0m-45 1h0m35 0h0m13 0h0m-50 1h0m2 0h0m3 0h0m5 0h0m5 0h0m-12 1h0m6 0h0m-2 1h0m4 0h0m5 0h0m8 0h0m17 0h0m-31 2h0m5 0h0m4 0h0m6 0h0m-34 1h0m20 0h0m10 0h0m-11 1h0m3 0h0m1 0h0m14 0h0m15 0h0m-36 1h0m18 0h0m-12 1h0m6 0h0m3 0h0m2 0h0m-14 1h0m3 0h0m3 0h0m6 0h0m6 0h0m3 0h0m-6 1h0m5 0h0m2 0h0m1 0h0m9 0h0m-13 1h0m10 0h0m7 0h0m-34 1h0m3 0h0m10 0h0m-15 1h0m8 0h0m2 0h0m-27 1h0m5 0h0m3 0h0m21 0h0m1 0h0m8 0h0m2 0h0m-19 1h0m7 1h0m2 0h0m2 0h0m6 0h0m3 1h0m-22 1h0m3 1h0m-20 3h0m15 1h0m9 0h0m-14 1h0m-14 1h0m2 0h0m11 0h0m48 0h0m-48 1h0m-33 1h0m30 0h0m14 1h0m9 0h0m8 0h0m-44 1h0m73 0h0m-78 1h0m17 0h0m10 1h0m-16 1h0m2 0h0m2 0h0m3 0h0m4 0h0m5 0h0m13 0h0m-39 1h0m3 0h0m2 0h0m5 0h0m8 0h0m7 0h0m-19 1h0m11 0h0m2 0h0m2 0h0m1 0h0m15 0h0m-42 1h0m10 0h0m6 0h0m2 0h0m1 0h0m1 0h0m10 0h0m6 0h0m30 0h0m-55 1h0m1 0h0m15 0h0m2 0h0m3 0h0m13 0h0m-42 1h0m5 0h0m8 0h0m1 0h0m2 0h0m1 0h0m1 0h0m2 0h0m8 0h0m49 0h0m13 0h0m-95 1h0m17 0h0m1 0h0m2 0h0m1 0h0m1 0h0m4 0h0m11 0h0m5 0h0m-42 1h0m3 0h0m3 0h0m1 0h0m1 0h0m3 0h0m3 0h0m1 0h0m2 0h0m1 0h0m2 0h0m1 0h0m3 0h0m1 0h0m1 0h0m2 0h0m3 0h0m4 0h0m1 0h0m6 0h0m30 0h0m-64 1h0m1 0h0m3 0h0m2 0h0m3 0h0m1 0h0m3 0h0m4 0h0m1 0h0m1 0h0m1 0h0m2 0h0m1 0h0m9 0h0m-44 1h0m2 0h0m6 0h0m2 0h0m1 0h0m3 0h0m1 0h0m1 0h0m1 0h0m3 0h0m2 0h0m1 0h0m1 0h0m1 0h0m1 0h0m2 0h0m2 0h0m2 0h0m2 0h0m1 0h0m-37 1h0m7 0h0m10 0h0m2 0h0m1 0h0m1 0h0m2 0h0m1 0h0m9 0h0m1 0h0m2 0h0m1 0h0m3 0h0m5 0h0m-34 1h0m1 0h0m2 0h0m1 0h0m1 0h0m2 0h0m1 0h0m1 0h0m1 0h0m1 0h0m2 0h0m1 0h0m2 0h0m1 0h0m2 0h0m1 0h0m1 0h0m1 0h0m1 0h0m2 0h0m1 0h0m6 0h0m2 0h0m4 0h0m3 0h0m-59 1h0m7 0h0m3 0h0m2 0h0m1 0h0m1 0h0m5 0h0m1 0h0m1 0h0m1 0h0m1 0h0m3 0h0m1 0h0m1 0h0m1 0h0m1 0h0m1 0h0m1 0h0m1 0h0m2 0h0m1 0h0m1 0h0m1 0h0m1 0h0m3 0h0m1 0h0m-40 1h0m3 0h0m3 0h0m4 0h0m6 0h0m2 0h0m1 0h0m1 0h0m2 0h0m1 0h0m1 0h0m2 0h0m1 0h0m1 0h0m1 0h0m2 0h0m1 0h0m1 0h0m2 0h0m1 0h0m1 0h0m1 0h0m3 0h0m3 0h0m1 0h0m39 0h0m-79 1h0m3 0h0m4 0h0m2 0h0m4 0h0m1 0h0m1 0h0m1 0h0m1 0h0m1 0h0m1 0h0m1 0h0m1 0h0m1 0h0m1 0h0m1 0h0m1 0h0m1 0h0m1 0h0m1 0h0m1 0h0m1 0h0m2 0h0m1 0h0m1 0h0m4 0h0m3 0h0m1 0h0m1 0h0m-49 1h0m4 0h0m5 0h0m6 0h0m1 0h0m2 0h0m1 0h0m1 0h0m1 0h0m1 0h0m2 0h0m1 0h0m1 0h0m1 0h0m1 0h0m1 0h0m1 0h0m1 0h0m1 0h0m1 0h0m1 0h0m1 0h0m1 0h0m2 0h0m1 0h0m2 0h0m-33 1h0m5 0h0m1 0h0m2 0h0m1 0h0m1 0h0m1 0h0m1 0h0m1 0h0m1 0h0m1 0h0m1 0h0m1 0h0m1 0h0m1 0h0m1 0h0m1 0h0m1 0h0m1 0h0m1 0h0m1 0h0m1 0h0m1 0h0m1 0h0m2 0h0m1 0h0m1 0h0m2 0h0m6 0h0m2 0h0m2 0h0m-55 1h0m8 0h0m4 0h0m1 0h0m2 0h0m2 0h0m1 0h0m1 0h0m1 0h0m1 0h0m1 0h0m1 0h0m1 0h0m1 0h0m1 0h0m1 0h0m1 0h0m1 0h0m1 0h0m1 0h0m1 0h0m1 0h0m1 0h0m1 0h0m1 0h0m1 0h0m2 0h0m1 0h0m1 0h0m2 0h0m1 0h0m1 0h0m1 0h0m-50 1h0m10 0h0m6 0h0m1 0h0m1 0h0m1 0h0m1 0h0m2 0h0m1 0h0m1 0h0m1 0h0m1 0h0m1 0h0m1 0h0m1 0h0m1 0h0m1 0h0m1 0h0m1 0h0m1 0h0m1 0h0m1 0h0m1 0h0m1 0h0m1 0h0m2 0h0m1 0h0m1 0h0m2 0h0m1 0h0m-35 1h0m2 0h0m1 0h0m1 0h0m2 0h0m1 0h0m2 0h0m1 0h0m1 0h0m1 0h0m1 0h0m1 0h0m1 0h0m1 0h0m1 0h0m1 0h0m1 0h0m1 0h0m1 0h0m1 0h0m1 0h0m1 0h0m1 0h0m1 0h0m1 0h0m1 0h0m1 0h0m1 0h0m1 0h0m2 0h0m1 0h0m1 0h0m1 0h0m1 0h0m3 0h0m8 0h0m-52 1h0m4 0h0m3 0h0m3 0h0m2 0h0m1 0h0m1 0h0m1 0h0m1 0h0m1 0h0m1 0h0m1 0h0m1 0h0m1 0h0m1 0h0m1 0h0m1 0h0m1 0h0m1 0h0m1 0h0m1 0h0m1 0h0m1 0h0m1 0h0m1 0h0m1 0h0m1 0h0m1 0h0m1 0h0m1 0h0m1 0h0m1 0h0m3 0h0m3 0h0m3 0h0m-41 1h0m1 0h0m2 0h0m1 0h0m1 0h0m1 0h0m2 0h0m1 0h0m1 0h0m1 0h0m1 0h0m1 0h0m1 0h0m1 0h0m1 0h0m1 0h0m1 0h0m1 0h0m1 0h0m1 0h0m1 0h0m1 0h0m1 0h0m1 0h0m1 0h0m1 0h0m1 0h0m2 0h0m1 0h0m1 0h0m1 0h0m2 0h0m-37 1h0m3 0h0m3 0h0m1 0h0m1 0h0m1 0h0m1 0h0m1 0h0m1 0h0m1 0h0m1 0h0m1 0h0m1 0h0m1 0h0m1 0h0m1 0h0m1 0h0m1 0h0m1 0h0m1 0h0m1 0h0m1 0h0m1 0h0m1 0h0m1 0h0m1 0h0m1 0h0m2 0h0m1 0h0m1 0h0m1 0h0m1 0h0m2 0h0m6 0h0m-51 1h0m6 0h0m5 0h0m2 0h0m1 0h0m1 0h0m1 0h0m1 0h0m1 0h0m1 0h0m1 0h0m1 0h0m1 0h0m1 0h0m1 0h0m1 0h0m1 0h0m1 0h0m1 0h0m1 0h0m1 0h0m1 0h0m1 0h0m1 0h0m1 0h0m1 0h0m1 0h0m1 0h0m1 0h0m2 0h0m19 0h0m-52 1h0m2 0h0m2 0h0m1 0h0m1 0h0m1 0h0m1 0h0m1 0h0m1 0h0m1 0h0m1 0h0m1 0h0m1 0h0m1 0h0m1 0h0m1 0h0m1 0h0m1 0h0m1 0h0m1 0h0m1 0h0m1 0h0m1 0h0m2 0h0m1 0h0m1 0h0m1 0h0m3 0h0m1 0h0m1 0h0m4 0h0m10 0h0m3 0h0m-54 1h0m7 0h0m1 0h0m1 0h0m1 0h0m1 0h0m1 0h0m1 0h0m1 0h0m1 0h0m1 0h0m1 0h0m1 0h0m1 0h0m1 0h0m1 0h0m1 0h0m1 0h0m1 0h0m1 0h0m1 0h0m1 0h0m1 0h0m1 0h0m1 0h0m1 0h0m1 0h0m1 0h0m1 0h0m1 0h0m1 0h0m1 0h0m1 0h0m1 0h0m2 0h0m18 0h0m14 0h0m23 0h0m5 0h0m-96 1h0m1 0h0m1 0h0m1 0h0m1 0h0m1 0h0m1 0h0m1 0h0m1 0h0m1 0h0m1 0h0m1 0h0m1 0h0m1 0h0m1 0h0m1 0h0m1 0h0m1 0h0m1 0h0m1 0h0m1 0h0m1 0h0m1 0h0m1 0h0m1 0h0m1 0h0m1 0h0m1 0h0m1 0h0m1 0h0m1 0h0m1 0h0m1 0h0m1 0h0m2 0h0m-52 1h0m12 0h0m3 0h0m2 0h0m2 0h0m1 0h0m1 0h0m1 0h0m2 0h0m1 0h0m1 0h0m1 0h0m1 0h0m1 0h0m1 0h0m1 0h0m1 0h0m1 0h0m1 0h0m1 0h0m1 0h0m1 0h0m1 0h0m1 0h0m1 0h0m1 0h0m1 0h0m1 0h0m2 0h0m1 0h0m2 0h0m-41 1h0m4 0h0m1 0h0m1 0h0m3 0h0m2 0h0m1 0h0m1 0h0m1 0h0m1 0h0m1 0h0m2 0h0m1 0h0m1 0h0m1 0h0m1 0h0m1 0h0m1 0h0m1 0h0m1 0h0m1 0h0m1 0h0m1 0h0m1 0h0m1 0h0m1 0h0m1 0h0m1 0h0m1 0h0m1 0h0m1 0h0m1 0h0m1 0h0m1 0h0m2 0h0m-39 1h0m3 0h0m2 0h0m1 0h0m1 0h0m1 0h0m1 0h0m1 0h0m1 0h0m1 0h0m1 0h0m1 0h0m1 0h0m1 0h0m1 0h0m1 0h0m1 0h0m1 0h0m1 0h0m1 0h0m1 0h0m1 0h0m1 0h0m1 0h0m1 0h0m1 0h0m1 0h0m1 0h0m1 0h0m1 0h0m2 0h0m1 0h0m2 0h0m1 0h0m1 0h0m1 0h0m3 0h0m-53 1h0m6 0h0m5 0h0m1 0h0m3 0h0m1 0h0m2 0h0m1 0h0m1 0h0m1 0h0m1 0h0m1 0h0m1 0h0m1 0h0m1 0h0m1 0h0m1 0h0m1 0h0m1 0h0m1 0h0m1 0h0m1 0h0m1 0h0m1 0h0m1 0h0m1 0h0m1 0h0m1 0h0m1 0h0m2 0h0m1 0h0m1 0h0m6 0h0m3 0h0m10 0h0m37 0h0m-100 1h0m11 0h0m2 0h0m2 0h0m1 0h0m1 0h0m1 0h0m1 0h0m1 0h0m1 0h0m1 0h0m1 0h0m1 0h0m1 0h0m1 0h0m1 0h0m1 0h0m1 0h0m1 0h0m1 0h0m1 0h0m1 0h0m1 0h0m1 0h0m1 0h0m1 0h0m1 0h0m1 0h0m1 0h0m2 0h0m1 0h0m4 0h0m8 0h0m3 0h0m1 0h0m-60 1h0m9 0h0m4 0h0m1 0h0m3 0h0m2 0h0m1 0h0m1 0h0m1 0h0m1 0h0m1 0h0m1 0h0m1 0h0m1 0h0m1 0h0m1 0h0m1 0h0m1 0h0m1 0h0m1 0h0m1 0h0m1 0h0m1 0h0m1 0h0m1 0h0m1 0h0m1 0h0m1 0h0m1 0h0m2 0h0m1 0h0m2 0h0m1 0h0m-47 1h0m7 0h0m3 0h0m2 0h0m2 0h0m1 0h0m2 0h0m1 0h0m1 0h0m1 0h0m1 0h0m1 0h0m1 0h0m1 0h0m1 0h0m1 0h0m1 0h0m1 0h0m1 0h0m1 0h0m1 0h0m1 0h0m1 0h0m1 0h0m1 0h0m1 0h0m1 0h0m1 0h0m1 0h0m1 0h0m1 0h0m2 0h0m1 0h0m3 0h0m42 0h0m-79 1h0m1 0h0m4 0h0m1 0h0m1 0h0m1 0h0m1 0h0m2 0h0m1 0h0m1 0h0m1 0h0m1 0h0m1 0h0m1 0h0m1 0h0m1 0h0m1 0h0m1 0h0m1 0h0m2 0h0m1 0h0m1 0h0m1 0h0m1 0h0m1 0h0m1 0h0m1 0h0m1 0h0m1 0h0m7 0h0m3 0h0m-54 1h0m13 0h0m3 0h0m1 0h0m1 0h0m1 0h0m2 0h0m1 0h0m1 0h0m1 0h0m1 0h0m1 0h0m1 0h0m1 0h0m1 0h0m2 0h0m2 0h0m2 0h0m1 0h0m1 0h0m1 0h0m1 0h0m1 0h0m2 0h0m1 0h0m11 0h0m30 0h0m-74 1h0m2 0h0m1 0h0m2 0h0m1 0h0m1 0h0m1 0h0m1 0h0m1 0h0m1 0h0m1 0h0m2 0h0m1 0h0m1 0h0m1 0h0m1 0h0m1 0h0m1 0h0m1 0h0m1 0h0m1 0h0m1 0h0m3 0h0m2 0h0m2 0h0m1 0h0m1 0h0m1 0h0m6 0h0m1 0h0m4 0h0m-49 1h0m4 0h0m3 0h0m1 0h0m3 0h0m1 0h0m3 0h0m1 0h0m1 0h0m1 0h0m1 0h0m1 0h0m1 0h0m1 0h0m1 0h0m1 0h0m1 0h0m1 0h0m1 0h0m2 0h0m2 0h0m2 0h0m3 0h0m10 0h0m-37 1h0m2 0h0m1 0h0m1 0h0m1 0h0m1 0h0m2 0h0m1 0h0m1 0h0m1 0h0m1 0h0m1 0h0m1 0h0m1 0h0m1 0h0m1 0h0m1 0h0m1 0h0m1 0h0m4 0h0m2 0h0m1 0h0m1 0h0m6 0h0m6 0h0m-53 1h0m5 0h0m3 0h0m4 0h0m1 0h0m2 0h0m1 0h0m1 0h0m1 0h0m1 0h0m1 0h0m1 0h0m1 0h0m1 0h0m1 0h0m1 0h0m1 0h0m1 0h0m1 0h0m1 0h0m1 0h0m1 0h0m1 0h0m1 0h0m5 0h0m1 0h0m6 0h0m3 0h0m-45 1h0m3 0h0m7 0h0m2 0h0m3 0h0m1 0h0m2 0h0m1 0h0m1 0h0m4 0h0m1 0h0m1 0h0m3 0h0m3 0h0m1 0h0m1 0h0m1 0h0m1 0h0m3 0h0m-34 1h0m1 0h0m3 0h0m1 0h0m1 0h0m2 0h0m1 0h0m1 0h0m1 0h0m5 0h0m3 0h0m1 0h0m1 0h0m3 0h0m1 0h0m7 0h0m2 0h0m3 0h0m11 0h0m41 0h0m-96 1h0m10 0h0m4 0h0m1 0h0m1 0h0m2 0h0m1 0h0m1 0h0m1 0h0m1 0h0m2 0h0m3 0h0m1 0h0m3 0h0m3 0h0m1 0h0m11 0h0m32 0h0m-69 1h0m2 0h0m2 0h0m2 0h0m2 0h0m1 0h0m1 0h0m4 0h0m1 0h0m2 0h0m2 0h0m3 0h0m3 0h0m1 0h0m4 0h0m-30 1h0m1 0h0m3 0h0m1 0h0m1 0h0m4 0h0m1 0h0m4 0h0m7 0h0m1 0h0m-22 1h0m9 0h0m3 0h0m1 0h0m1 0h0m1 0h0m3 0h0m3 0h0m4 0h0m-12 1h0m1 0h0m4 0h0m-17 1h0m5 0h0m1 0h0m2 0h0m6 0h0m6 0h0m-16 2h0m9 0h0m8 0h0" stroke="#000" stroke-width="1.6" stroke-linecap="square" fill="none"/>
<path d="M393 307h0m-3 1h0m4 3h0m15 0h0m-12 1h0m4 0h0m2 0h0m2 0h0m3 0h0m6 0h0m-29 1h0m11 0h0m3 0h0m10 0h0m9 0h0m2 0h0m12 0h0m-38 1h0m3 0h0m1 0h0m5 0h0m6 0h0m2 0h0m1 0h0m2 0h0m4 0h0m-40 1h0m10 0h0m1 0h0m4 0h0m2 0h0m3 0h0m4 0h0m1 0h0m6 0h0m1 0h0m1 0h0m3 0h0m6 0h0m2 0h0m3 0h0m-36 1h0m6 0h0m1 0h0m2 0h0m1 0h0m1 0h0m1 0h0m3 0h0m2 0h0m1 0h0m1 0h0m1 0h0m8 0h0m3 0h0m2 0h0m-32 1h0m4 0h0m2 0h0m2 0h0m2 0h0m1 0h0m2 0h0m2 0h0m1 0h0m1 0h0m1 0h0m1 0h0m1 0h0m1 0h0m1 0h0m1 0h0m1 0h0m2 0h0m2 0h0m2 0h0m1 0h0m3 0h0m2 0h0m-37 1h0m2 0h0m2 0h0m3 0h0m1 0h0m4 0h0m1 0h0m1 0h0m1 0h0m1 0h0m1 0h0m1 0h0m1 0h0m1 0h0m1 0h0m1 0h0m1 0h0m1 0h0m1 0h0m1 0h0m2 0h0m2 0h0m1 0h0m1 0h0m3 0h0m-45 1h0m9 0h0m5 0h0m1 0h0m1 0h0m1 0h0m2 0h0m1 0h0m2 0h0m1 0h0m2 0h0m1 0h0m1 0h0m1 0h0m1 0h0m1 0h0m1 0h0m1 0h0m1 0h0m1 0h0m1 0h0m1 0h0m2 0h0m1 0h0m3 0h0m8 0h0m8 0h0m-56 1h0m3 0h0m5 0h0m2 0h0m1 0h0m1 0h0m2 0h0m1 0h0m1 0h0m1 0h0m1 0h0m1 0h0m1 0h0m1 0h0m1 0h0m1 0h0m1 0h0m1 0h0m1 0h0m1 0h0m1 0h0m1 0h0m1 0h0m1 0h0m1 0h0m2 0h0m1 0h0m1 0h0m1 0h0m1 0h0m2 0h0m2 0h0m2 0h0m3 0h0m-51 1h0m6 0h0m5 0h0m1 0h0m4 0h0m2 0h0m1 0h0m1 0h0m1 0h0m1 0h0m1 0h0m1 0h0m1 0h0m1 0h0m1 0h0m1 0h0m1 0h0m1 0h0m1 0h0m2 0h0m1 0h0m1 0h0m1 0h0m1 0h0m1 0h0m1 0h0m1 0h0m1 0h0m1 0h0m1 0h0m5 0h0m2 0h0m1 0h0m-39 1h0m1 0h0m1 0h0m1 0h0m1 0h0m1 0h0m1 0h0m1 0h0m1 0h0m1 0h0m1 0h0m1 0h0m1 0h0m1 0h0m1 0h0m1 0h0m1 0h0m1 0h0m1 0h0m1 0h0m2 0h0m1 0h0m2 0h0m1 0h0m1 0h0m1 0h0m1 0h0m2 0h0m2 0h0m1 0h0m1 0h0m1 0h0m1 0h0m2 0h0m3 0h0m-80 1h0m32 0h0m2 0h0m3 0h0m2 0h0m1 0h0m2 0h0m1 0h0m1 0h0m1 0h0m1 0h0m1 0h0m1 0h0m1 0h0m1 0h0m1 0h0m1 0h0m1 0h0m1 0h0m1 0h0m1 0h0m1 0h0m1 0h0m1 0h0m1 0h0m1 0h0m1 0h0m1 0h0m2 0h0m1 0h0m1 0h0m1 0h0m1 0h0m2 0h0m1 0h0m1 0h0m3 0h0m-45 1h0m3 0h0m3 0h0m3 0h0m1 0h0m2 0h0m1 0h0m1 0h0m1 0h0m1 0h0m1 0h0m1 0h0m1 0h0m1 0h0m1 0h0m1 0h0m1 0h0m1 0h0m1 0h0m1 0h0m1 0h0m1 0h0m1 0h0m1 0h0m1 0h0m1 0h0m1 0h0m2 0h0m2 0h0m1 0h0m1 0h0m1 0h0m2 0h0m4 0h0m1 0h0m1 0h0m2 0h0m7 0h0m-58 1h0m2 0h0m1 0h0m1 0h0m3 0h0m1 0h0m1 0h0m2 0h0m2 0h0m1 0h0m1 0h0m1 0h0m1 0h0m1 0h0m1 0h0m1 0h0m1 0h0m1 0h0m1 0h0m1 0h0m1 0h0m1 0h0m1 0h0m1 0h0m1 0h0m1 0h0m1 0h0m1 0h0m1 0h0m1 0h0m1 0h0m2 0h0m1 0h0m1 0h0m1 0h0m1 0h0m1 0h0m1 0h0m4 0h0m4 0h0m-44 1h0m4 0h0m1 0h0m1 0h0m2 0h0m1 0h0m1 0h0m1 0h0m1 0h0m1 0h0m1 0h0m1 0h0m1 0h0m1 0h0m1 0h0m1 0h0m1 0h0m1 0h0m1 0h0m1 0h0m2 0h0m1 0h0m1 0h0m1 0h0m1 0h0m1 0h0m1 0h0m1 0h0m1 0h0m2 0h0m1 0h0m1 0h0m1 0h0m-41 1h0m1 0h0m4 0h0m2 0h0m1 0h0m1 0h0m2 0h0m1 0h0m1 0h0m1 0h0m1 0h0m1 0h0m1 0h0m1 0h0m1 0h0m1 0h0m1 0h0m1 0h0m1 0h0m1 0h0m1 0h0m1 0h0m1 0h0m1 0h0m1 0h0m1 0h0m2 0h0m1 0h0m1 0h0m1 0h0m1 0h0m1 0h0m2 0h0m1 0h0m1 0h0m2 0h0m3 0h0m18 0h0m-68 1h0m5 0h0m4 0h0m1 0h0m1 0h0m2 0h0m1 0h0m1 0h0m1 0h0m1 0h0m1 0h0m1 0h0m1 0h0m1 0h0m1 0h0m1 0h0m1 0h0m1 0h0m1 0h0m1 0h0m1 0h0m1 0h0m1 0h0m1 0h0m1 0h0m1 0h0m1 0h0m1 0h0m1 0h0m1 0h0m1 0h0m2 0h0m1 0h0m1 0h0m1 0h0m1 0h0m3 0h0m1 0h0m-40 1h0m1 0h0m2 0h0m1 0h0m1 0h0m1 0h0m1 0h0m1 0h0m1 0h0m1 0h0m1 0h0m1 0h0m1 0h0m2 0h0m1 0h0m1 0h0m1 0h0m1 0h0m1 0h0m1 0h0m1 0h0m1 0h0m1 0h0m1 0h0m1 0h0m1 0h0m1 0h0m1 0h0m1 0h0m1 0h0m1 0h0m1 0h0m1 0h0m1 0h0m3 0h0m3 0h0m-39 1h0m1 0h0m1 0h0m5 0h0m1 0h0m1 0h0m1 0h0m1 0h0m1 0h0m1 0h0m1 0h0m1 0h0m1 0h0m1 0h0m1 0h0m1 0h0m1 0h0m1 0h0m1 0h0m1 0h0m1 0h0m1 0h0m1 0h0m1 0h0m1 0h0m1 0h0m1 0h0m1 0h0m1 0h0m1 0h0m2 0h0m-51 1h0m10 0h0m2 0h0m2 0h0m3 0h0m2 0h0m1 0h0m1 0h0m1 0h0m1 0h0m1 0h0m1 0h0m1 0h0m1 0h0m1 0h0m1 0h0m1 0h0m1 0h0m2 0h0m1 0h0m1 0h0m1 0h0m1 0h0m1 0h0m1 0h0m1 0h0m1 0h0m1 0h0m2 0h0m1 0h0m3 0h0m4 0h0m2 0h0m-51 1h0m7 0h0m7 0h0m2 0h0m1 0h0m4 0h0m2 0h0m1 0h0m1 0h0m1 0h0m1 0h0m1 0h0m1 0h0m1 0h0m1 0h0m2 0h0m2 0h0m1 0h0m1 0h0m1 0h0m2 0h0m3 0h0m2 0h0m1 0h0m1 0h0m5 0h0m-41 1h0m1 0h0m1 0h0m2 0h0m3 0h0m1 0h0m1 0h0m3 0h0m1 0h0m1 0h0m1 0h0m1 0h0m2 0h0m2 0h0m1 0h0m1 0h0m1 0h0m1 0h0m1 0h0m3 0h0m1 0h0m2 0h0m3 0h0m-58 1h0m21 0h0m7 0h0m2 0h0m1 0h0m1 0h0m1 0h0m1 0h0m1 0h0m5 0h0m1 0h0m1 0h0m1 0h0m1 0h0m1 0h0m2 0h0m1 0h0m1 0h0m2 0h0m1 0h0m1 0h0m3 0h0m1 0h0m1 0h0m-32 1h0m7 0h0m1 0h0m1 0h0m2 0h0m2 0h0m3 0h0m2 0h0m2 0h0m1 0h0m4 0h0m4 0h0m4 0h0m-36 1h0m12 0h0m1 0h0m1 0h0m1 0h0m3 0h0m8 0h0m5 0h0m9 0h0m6 0h0m-47 1h0m5 0h0m1 0h0m4 0h0m4 0h0m1 0h0m3 0h0m2 0h0m2 0h0m5 0h0m3 0h0m1 0h0m2 0h0m-27 1h0m8 0h0m3 0h0m1 0h0m8 0h0m2 0h0m-25 1h0m7 0h0m2 0h0m5 0h0m-5 1h0m2 0h0m3 0h0m4 0h0m4 0h0m2 0h0m4 0h0m-13 1h0m2 0h0m4 0h0m-30 1h0m15 0h0m3 0h0m3 0h0m9 0h0m16 0h0m-33 1h0m3 0h0m5 0h0m6 0h0m2 0h0m16 0h0m-34 1h0m10 0h0m12 0h0m3 0h0m-40 1h0m38 0h0m-41 1h0m6 0h0m16 0h0m14 0h0m7 0h0m-22 1h0m13 0h0m2 0h0m1 0h0m-56 1h0m39 0h0m11 0h0m1 0h0m-67 1h0m67 0h0m1 0h0m-7 1h0m10 0h0m6 0h0m-43 1h0m3 0h0m6 0h0m5 0h0m1 0h0m10 0h0m4 0h0m-75 1h0m64 0h0m10 0h0m3 0h0m-15 1h0m10 0h0m2 0h0m1 0h0m1 0h0m9 0h0m1 0h0m1 0h0m-31 1h0m21 0h0m9 0h0m-53 1h0m41 0h0m1 0h0m3 0h0m9 0h0m-39 1h0m2 0h0m3 0h0m3 0h0m18 0h0m3 0h0m6 0h0m5 0h0m-51 1h0m9 0h0m3 0h0m-3 1h0m5 0h0m16 0h0m4 0h0m5 0h0m4 0h0m4 0h0m-15 1h0m6 0h0m1 0h0m6 0h0m-13 1h0m8 0h0m-12 1h0m6 0h0m12 0h0m-30 1h0m2 0h0m12 0h0m7 0h0m3 0h0m5 0h0m3 0h0m-28 1h0m21 0h0m-36 1h0m7 0h0m5 0h0m23 0h0m3 0h0m4 0h0m-54 1h0m13 0h0m10 0h0m1 0h0m3 0h0m6 0h0m25 0h0m-45 1h0m11 0h0m12 0h0m11 0h0m4 0h0m-37 1h0m5 0h0m11 0h0m16 0h0m6 0h0m4 0h0m6 0h0m-69 1h0m23 0h0m3 0h0m14 0h0m18 0h0m1 0h0m-42 1h0m32 0h0m33 0h0m-54 1h0m10 0h0m2 0h0m9 0h0m1 0h0m1 0h0m2 0h0m4 0h0m5 0h0m2 0h0m4 0h0m-30 1h0m18 0h0m3 0h0m1 1h0m-37 1h0m27 0h0m1 0h0m5 0h0m-35 1h0m32 0h0m1 0h0m5 0h0m10 0h0m-38 1h0m12 0h0m5 0h0m4 0h0m5 0h0m4 0h0m1 0h0m2 0h0m-37 1h0m27 0h0m1 0h0m7 0h0m2 0h0m10 0h0m-58 1h0m30 0h0m22 0h0m-49 1h0m22 0h0m1 0h0m23 0h0m-13 1h0m4 0h0m12 0h0m3 0h0m-28 1h0m8 0h0m2 0h0m1 0h0m18 0h0m-51 1h0m31 0h0m1 0h0m10 0h0m-27 1h0m18 0h0m3 0h0m1 0h0m1 0h0m-8 1h0m3 0h0m1 0h0m5 0h0m1 0h0m1 0h0m11 0h0m-69 1h0m46 0h0m11 0h0m10 0h0m-50 1h0m19 0h0m5 0h0m6 0h0m1 0h0m3 0h0m1 0h0m-5 1h0m3 0h0m1 1h0m6 0h0m-5 1h0m5 0h0m-19 1h0m14 0h0m3 0h0m1 0h0m-7 1h0m8 0h0m-89 1h0m86 0h0m1 0h0m4 0h0m-46 1h0m36 0h0m4 0h0m4 0h0m-17 1h0m10 0h0m12 0h0m-66 1h0m7 0h0m3 0h0m5 0h0m39 0h0m3 0h0m1 0h0m8 0h0m-61 1h0m49 0h0m17 0h0m-48 1h0m14 0h0m7 0h0m7 0h0m5 0h0m-11 1h0m2 0h0m7 0h0m1 0h0m3 0h0m7 0h0m1 0h0m-33 1h0m24 0h0m6 0h0m5 0h0m9 0h0m-62 1h0m4 0h0m31 0h0m5 0h0m3 0h0m8 0h0m3 0h0m-59 1h0m9 0h0m46 0h0m-60 1h0m4 0h0m34 0h0m2 0h0m3 0h0m4 0h0m-56 1h0m43 0h0m6 0h0m11 0h0m8 0h0m2 0h0m-50 1h0m3 0h0m27 0h0m6 0h0m14 0h0m-45 1h0m29 0h0m7 0h0m-53 1h0m9 0h0m1 0h0m7 0h0m10 0h0m3 0h0m3 0h0m13 0h0m5 0h0m6 0h0m-58 1h0m15 0h0m27 0h0m24 0h0m-77 1h0m15 0h0m24 0h0m1 0h0m8 0h0m8 0h0m16 0h0m9 0h0m-70 1h0m9 0h0m10 0h0m10 0h0m5 0h0m16 0h0m-62 1h0m21 0h0m29 0h0m3 0h0m6 0h0m1 0h0m-21 1h0m1 0h0m2 0h0m6 0h0m1 0h0m15 0h0m15 0h0m-52 1h0m1 0h0m15 0h0m1 0h0m2 0h0m2 0h0m1 0h0m7 0h0m10 0h0m3 0h0m-59 1h0m23 0h0m3 0h0m9 0h0m1 0h0m3 0h0m1 0h0m1 0h0m6 0h0m5 0h0m-48 1h0m11 0h0m1 0h0m4 0h0m1 0h0m4 0h0m1 0h0m7 0h0m6 0h0m3 0h0m15 0h0m16 0h0m-64 1h0m4 0h0m17 0h0m7 0h0m16 0h0m-33 1h0m14 0h0m10 0h0m-36 1h0m5 0h0m1 0h0m15 0h0m3 0h0m1 0h0m7 0h0m8 0h0m1 0h0m6 0h0m12 0h0m-46 1h0m3 0h0m2 0h0m3 0h0m3 0h0m5 0h0m3 0h0m2 0h0m-10 1h0m2 0h0m5 0h0m2 0h0m2 0h0m-22 1h0m5 0h0m1 0h0m5 0h0m30 0h0m-55 1h0m3 0h0m5 0h0m1 0h0m2 0h0m6 0h0m2 0h0m1 0h0m8 0h0m1 0h0m4 0h0m23 0h0m-49 1h0m5 0h0m1 0h0m5 0h0m5 0h0m3 0h0m2 0h0m3 0h0m1 0h0m-32 1h0m2 0h0m3 0h0m2 0h0m3 0h0m1 0h0m14 0h0m1 0h0m2 0h0m11 0h0m-44 1h0m6 0h0m9 0h0m4 0h0m1 0h0m1 0h0m3 0h0m5 0h0m1 0h0m2 0h0m3 0h0m1 0h0m1 0h0m-48 1h0m16 0h0m2 0h0m3 0h0m10 0h0m7 0h0m4 0h0m5 0h0m3 0h0m27 0h0m-67 1h0m4 0h0m5 0h0m6 0h0m7 0h0m4 0h0m8 0h0m14 0h0m-65 1h0m24 0h0m8 0h0m3 0h0m2 0h0m5 0h0m8 0h0m7 0h0m8 0h0m2 0h0m-39 1h0m7 0h0m1 0h0m48 0h0m-57 1h0m4 0h0m4 0h0m4 0h0m1 0h0m6 0h0m1 0h0m4 0h0m-34 1h0m3 0h0m3 0h0m2 0h0m2 0h0m4 0h0m3 0h0m2 0h0m3 0h0m1 0h0m1 0h0m11 0h0m3 0h0m5 0h0m-33 1h0m1 0h0m1 0h0m1 0h0m3 0h0m2 0h0m1 0h0m8 0h0m9 0h0m19 0h0m-48 1h0m5 0h0m2 0h0m2 0h0m1 0h0m3 0h0m1 0h0m1 0h0m1 0h0m1 0h0m1 0h0m6 0h0m3 0h0m-42 1h0m3 0h0m14 0h0m1 0h0m3 0h0m5 0h0m6 0h0m4 0h0m1 0h0m4 0h0m-37 1h0m3 0h0m9 0h0m2 0h0m3 0h0m1 0h0m1 0h0m10 0h0m1 0h0m1 0h0m4 0h0m-22 1h0m2 0h0m2 0h0m3 0h0m1 0h0m2 0h0m3 0h0m15 0h0m-52 1h0m19 0h0m1 0h0m7 0h0m4 0h0m4 0h0m3 0h0m1 0h0m5 0h0m15 0h0m4 0h0m6 0h0m2 0h0m-52 1h0m2 0h0m4 0h0m5 0h0m1 0h0m2 0h0m28 0h0m-52 1h0m7 0h0m1 0h0m1 0h0m4 0h0m2 0h0m5 0h0m3 0h0m1 0h0m1 0h0m1 0h0m1 0h0m8 0h0m6 0h0m34 0h0m-86 1h0m12 0h0m4 0h0m2 0h0m5 0h0m1 0h0m1 0h0m5 0h0m7 0h0m3 0h0m2 0h0m3 0h0m12 0h0m7 0h0m-58 1h0m1 0h0m5 0h0m5 0h0m2 0h0m2 0h0m1 0h0m1 0h0m1 0h0m1 0h0m5 0h0m1 0h0m2 0h0m1 0h0m3 0h0m2 0h0m3 0h0m2 0h0m-35 1h0m10 0h0m3 0h0m6 0h0m1 0h0m2 0h0m4 0h0m7 0h0m8 0h0m-51 1h0m2 0h0m8 0h0m8 0h0m1 0h0m2 0h0m2 0h0m1 0h0m1 0h0m4 0h0m2 0h0m2 0h0m1 0h0m2 0h0m14 0h0m-36 1h0m1 0h0m1 0h0m1 0h0m1 0h0m2 0h0m1 0h0m2 0h0m2 0h0m1 0h0m1 0h0m1 0h0m1 0h0m3 0h0m2 0h0m3 0h0m2 0h0m5 0h0m-36 1h0m4 0h0m4 0h0m1 0h0m1 0h0m1 0h0m1 0h0m1 0h0m2 0h0m1 0h0m9 0h0m3 0h0m3 0h0m5 0h0m2 0h0m4 0h0m13 0h0m18 0h0m3 0h0m-78 1h0m7 0h0m3 0h0m1 0h0m2 0h0m1 0h0m2 0h0m1 0h0m6 0h0m3 0h0m1 0h0m4 0h0m1 0h0m4 0h0m18 0h0m5 0h0m-66 1h0m1 0h0m1 0h0m4 0h0m3 0h0m1 0h0m3 0h0m1 0h0m1 0h0m2 0h0m4 0h0m1 0h0m1 0h0m1 0h0m1 0h0m1 0h0m4 0h0m2 0h0m9 0h0m14 0h0m19 0h0m10 0h0m-78 1h0m4 0h0m1 0h0m2 0h0m1 0h0m1 0h0m1 0h0m2 0h0m3 0h0m1 0h0m1 0h0m3 0h0m1 0h0m5 0h0m4 0h0m3 0h0m2 0h0m-30 1h0m3 0h0m5 0h0m1 0h0m2 0h0m2 0h0m2 0h0m2 0h0m1 0h0m1 0h0m1 0h0m1 0h0m4 0h0m4 0h0m2 0h0m26 0h0m8 0h0m-73 1h0m2 0h0m2 0h0m2 0h0m1 0h0m2 0h0m1 0h0m1 0h0m1 0h0m1 0h0m3 0h0m1 0h0m1 0h0m3 0h0m1 0h0m4 0h0m40 0h0m-66 1h0m6 0h0m4 0h0m5 0h0m2 0h0m1 0h0m3 0h0m3 0h0m1 0h0m6 0h0m44 0h0m-70 1h0m2 0h0m1 0h0m2 0h0m1 0h0m3 0h0m1 0h0m2 0h0m2 0h0m1 0h0m1 0h0m2 0h0m3 0h0m4 0h0m56 0h0m-89 1h0m7 0h0m3 0h0m1 0h0m1 0h0m1 0h0m1 0h0m1 0h0m1 0h0m1 0h0m2 0h0m1 0h0m1 0h0m1 0h0m1 0h0m1 0h0m1 0h0m1 0h0m2 0h0m2 0h0m2 0h0m2 0h0m1 0h0m4 0h0m2 0h0m-39 1h0m1 0h0m3 0h0m2 0h0m1 0h0m3 0h0m4 0h0m1 0h0m1 0h0m1 0h0m1 0h0m1 0h0m1 0h0m2 0h0m2 0h0m4 0h0m1 0h0m3 0h0m55 0h0m-99 1h0m11 0h0m2 0h0m4 0h0m3 0h0m1 0h0m1 0h0m1 0h0m3 0h0m3 0h0m1 0h0m1 0h0m1 0h0m3 0h0m1 0h0m2 0h0m1 0h0m2 0h0m1 0h0m3 0h0m42 0h0m-79 1h0m10 0h0m1 0h0m3 0h0m1 0h0m2 0h0m2 0h0m2 0h0m1 0h0m1 0h0m1 0h0m1 0h0m1 0h0m2 0h0m2 0h0m4 0h0m1 0h0m2 0h0m3 0h0m1 0h0m-41 1h0m4 0h0m6 0h0m1 0h0m1 0h0m3 0h0m1 0h0m1 0h0m2 0h0m1 0h0m1 0h0m2 0h0m2 0h0m1 0h0m1 0h0m3 0h0m4 0h0m-30 1h0m4 0h0m2 0h0m4 0h0m1 0h0m1 0h0m1 0h0m2 0h0m1 0h0m1 0h0m1 0h0m1 0h0m1 0h0m1 0h0m1 0h0m5 0h0m10 0h0m30 0h0m-69 1h0m3 0h0m1 0h0m4 0h0m2 0h0m1 0h0m1 0h0m4 0h0m2 0h0m1 0h0m1 0h0m1 0h0m2 0h0m1 0h0m2 0h0m1 0h0m3 0h0m1 0h0m1 0h0m2 0h0m4 0h0m4 0h0m29 0h0m-74 1h0m7 0h0m1 0h0m2 0h0m3 0h0m1 0h0m1 0h0m1 0h0m1 0h0m1 0h0m1 0h0m1 0h0m1 0h0m4 0h0m1 0h0m1 0h0m4 0h0m1 0h0m2 0h0m1 0h0m6 0h0m-38 1h0m3 0h0m1 0h0m1 0h0m2 0h0m3 0h0m1 0h0m1 0h0m1 0h0m1 0h0m2 0h0m1 0h0m1 0h0m1 0h0m1 0h0m1 0h0m1 0h0m1 0h0m1 0h0m2 0h0m7 0h0m33 0h0m21 0h0m-88 1h0m3 0h0m5 0h0m3 0h0m1 0h0m2 0h0m3 0h0m1 0h0m1 0h0m2 0h0m1 0h0m1 0h0m3 0h0m1 0h0m3 0h0m59 0h0m-92 1h0m8 0h0m2 0h0m1 0h0m1 0h0m1 0h0m1 0h0m2 0h0m2 0h0m2 0h0m1 0h0m3 0h0m3 0h0m3 0h0m2 0h0m1 0h0m2 0h0m59 0h0m-100 1h0m1 0h0m10 0h0m2 0h0m3 0h0m1 0h0m5 0h0m1 0h0m1 0h0m1 0h0m1 0h0m1 0h0m3 0h0m2 0h0m2 0h0m3 0h0m-30 1h0m8 0h0m5 0h0m2 0h0m1 0h0m2 0h0m1 0h0m3 0h0m1 0h0m1 0h0m1 0h0m1 0h0m2 0h0m7 0h0m1 0h0m55 0h0m-93 1h0m9 0h0m2 0h0m2 0h0m1 0h0m5 0h0m1 0h0m2 0h0m1 0h0m1 0h0m1 0h0m7 0h0m15 0h0m-45 1h0m7 0h0m5 0h0m1 0h0m1 0h0m1 0h0m1 0h0m2 0h0m1 0h0m1 0h0m2 0h0m2 0h0m1 0h0m2 0h0m7 0h0m2 0h0m53 0h0m-89 1h0m5 0h0m7 0h0m1 0h0m5 0h0m2 0h0m1 0h0m1 0h0m5 0h0m5 0h0m-36 1h0m3 0h0m6 0h0m2 0h0m7 0h0m1 0h0m3 0h0m10 0h0m1 0h0m-19 1h0m7 0h0m1 0h0m1 0h0m1 0h0m5 0h0m1 0h0m2 0h0m2 0h0m6 0h0m-37 1h0m7 0h0m2 0h0m4 0h0m2 0h0m1 0h0m6 0h0m4 0h0m34 0h0m-71 1h0m12 0h0m1 0h0m5 0h0m1 0h0m2 0h0m4 0h0m2 0h0m1 0h0m5 0h0m3 0h0m-26 1h0m4 0h0m5 0h0m1 0h0m1 0h0m4 0h0m4 0h0m1 0h0m5 0h0m2 0h0m7 0h0m-31 1h0m2 0h0m5 0h0m4 0h0m2 0h0m3 0h0m1 0h0m1 0h0m-20 1h0m1 0h0m4 0h0m1 0h0m3 0h0m2 0h0m1 0h0m1 0h0m1 0h0m2 0h0m10 0h0m-7 1h0m12 1h0m1 0h0m5 0h0m-19 1h0" stroke="#000" stroke-width="1.6" stroke-linecap="square" fill="none"/>
<path d="M100 571h0m18 4h0m-1 1h0m51 0h0m-59 1h0m4 0h0m6 0h0m1 0h0m14 0h0m-16 1h0m39 0h0m-49 2h0m50 0h0m-37 1h0m10 0h0m-72 1h0m58 0h0m-3 2h0m10 0h0m5 0h0m-21 1h0m2 0h0m-26 1h0m2 0h0m23 0h0m-48 1h0m67 0h0m5 0h0m-39 1h0m7 0h0m6 0h0m13 0h0m-56 1h0m20 0h0m6 0h0m15 0h0m25 0h0m31 1h0m-96 1h0m4 0h0m42 0h0m15 1h0m14 0h0m18 0h0m-53 1h0m4 0h0m2 0h0m6 0h0m-49 1h0m41 0h0m1 0h0m9 1h0m1 0h0m-59 1h0m17 0h0m50 0h0m-21 1h0m15 0h0m3 0h0m20 0h0m-69 1h0m10 0h0m32 0h0m9 0h0m-39 1h0m17 0h0m2 0h0m20 0h0m35 0h0m-59 1h0m3 0h0m1 0h0m29 0h0m-59 2h0m5 0h0m28 0h0m4 0h0m5 0h0m-31 1h0m12 0h0m11 0h0m11 0h0m8 0h0m-35 1h0m14 0h0m-35 1h0m21 0h0m6 0h0m12 0h0m25 0h0m26 0h0m5 0h0m-104 1h0m11 0h0m12 0h0m13 0h0m2 0h0m12 0h0m-49 1h0m25 0h0m47 0h0m22 0h0m-63 1h0m5 0h0m68 0h0m4 0h0m-106 1h0m30 0h0m3 0h0m5 0h0m1 0h0m-26 1h0m6 0h0m3 0h0m8 0h0m1 0h0m1 0h0m14 0h0m4 0h0m-21 1h0m5 0h0m2 0h0m2 0h0m3 0h0m45 0h0m24 0h0m-119 1h0m33 0h0m12 0h0m4 0h0m29 0h0m25 0h0m12 0h0m-91 1h0m1 0h0m4 0h0m9 0h0m7 0h0m7 0h0m24 0h0m7 0h0m6 0h0m19 0h0m-84 1h0m2 0h0m13 0h0m5 0h0m5 0h0m2 0h0m8 0h0m-18 1h0m5 0h0m4 0h0m14 0h0m18 0h0m12 0h0m5 0h0m5 0h0m-80 1h0m6 0h0m5 0h0m14 0h0m2 0h0m3 0h0m6 0h0m16 0h0m20 0h0m-61 1h0m7 0h0m1 0h0m8 0h0m45 0h0m11 0h0m-89 1h0m8 0h0m5 0h0m8 0h0m1 0h0m13 0h0m1 0h0m-36 1h0m27 0h0m1 0h0m2 0h0m14 0h0m-34 1h0m2 0h0m2 0h0m2 0h0m4 0h0m1 0h0m7 0h0m1 0h0m8 0h0m7 0h0m15 0h0m8 0h0m-57 1h0m19 0h0m1 0h0m-21 1h0m2 0h0m6 0h0m1 0h0m3 0h0m1 0h0m4 0h0m-31 1h0m3 0h0m9 0h0m5 0h0m9 0h0m1 0h0m5 0h0m1 0h0m1 0h0m7 0h0m19 0h0m6 0h0m9 0h0m4 0h0m7 0h0m-80 1h0m5 0h0m1 0h0m9 0h0m4 0h0m2 0h0m5 0h0m6 0h0m47 0h0m-59 1h0m6 0h0m2 0h0m3 0h0m2 0h0m27 0h0m5 0h0m13 0h0m5 0h0m-69 1h0m1 0h0m1 0h0m4 0h0m2 0h0m2 0h0m3 0h0m4 0h0m5 0h0m6 0h0m1 0h0m11 0h0m2 0h0m3 0h0m-42 1h0m1 0h0m3 0h0m6 0h0m7 0h0m21 0h0m10 0h0m8 0h0m-68 1h0m5 0h0m2 0h0m2 0h0m1 0h0m6 0h0m3 0h0m7 0h0m1 0h0m19 0h0m3 0h0m4 0h0m-54 1h0m3 0h0m1 0h0m5 0h0m3 0h0m1 0h0m6 0h0m2 0h0m4 0h0m6 0h0m17 0h0m1 0h0m-79 1h0m32 0h0m4 0h0m3 0h0m1 0h0m3 0h0m2 0h0m5 0h0m3 0h0m3 0h0m1 0h0m2 0h0m16 0h0m13 0h0m5 0h0m-79 1h0m18 0h0m3 0h0m3 0h0m5 0h0m2 0h0m3 0h0m3 0h0m7 0h0m6 0h0m24 0h0m1 0h0m1 0h0m10 0h0m6 0h0m2 0h0m-82 1h0m12 0h0m2 0h0m11 0h0m15 0h0m22 0h0m15 0h0m1 0h0m-87 1h0m14 0h0m10 0h0m4 0h0m1 0h0m3 0h0m2 0h0m3 0h0m2 0h0m2 0h0m14 0h0m22 0h0m18 0h0m-80 1h0m11 0h0m4 0h0m4 0h0m2 0h0m9 0h0m3 0h0m35 0h0m2 0h0m-79 1h0m6 0h0m2 0h0m5 0h0m3 0h0m11 0h0m3 0h0m1 0h0m1 0h0m7 0h0m38 0h0m-77 1h0m13 0h0m6 0h0m1 0h0m6 0h0m1 0h0m1 0h0m1 0h0m5 0h0m33 0h0m23 0h0m-90 1h0m9 0h0m3 0h0m4 0h0m1 0h0m1 0h0m1 0h0m1 0h0m5 0h0m1 0h0m2 0h0m4 0h0m1 0h0m1 0h0m6 0h0m2 0h0m23 0h0m1 0h0m8 0h0m1 0h0m-70 1h0m2 0h0m2 0h0m5 0h0m1 0h0m1 0h0m1 0h0m1 0h0m1 0h0m2 0h0m1 0h0m2 0h0m1 0h0m1 0h0m1 0h0m1 0h0m2 0h0m2 0h0m1 0h0m3 0h0m1 0h0m1 0h0m30 0h0m2 0h0m13 0h0m-76 1h0m9 0h0m1 0h0m2 0h0m1 0h0m1 0h0m1 0h0m1 0h0m1 0h0m1 0h0m2 0h0m3 0h0m3 0h0m1 0h0m2 0h0m2 0h0m9 0h0m3 0h0m2 0h0m13 0h0m7 0h0m-68 1h0m2 0h0m1 0h0m8 0h0m7 0h0m1 0h0m2 0h0m3 0h0m5 0h0m36 0h0m-58 1h0m1 0h0m1 0h0m3 0h0m1 0h0m5 0h0m1 0h0m1 0h0m1 0h0m1 0h0m1 0h0m2 0h0m5 0h0m1 0h0m4 0h0m27 0h0m8 0h0m8 0h0m1 0h0m-75 1h0m3 0h0m3 0h0m2 0h0m3 0h0m4 0h0m2 0h0m2 0h0m1 0h0m1 0h0m7 0h0m6 0h0m7 0h0m17 0h0m-71 1h0m9 0h0m3 0h0m1 0h0m4 0h0m1 0h0m1 0h0m4 0h0m1 0h0m5 0h0m1 0h0m3 0h0m1 0h0m3 0h0m6 0h0m31 0h0m11 0h0m11 0h0m-90 1h0m1 0h0m5 0h0m1 0h0m1 0h0m3 0h0m1 0h0m1 0h0m3 0h0m1 0h0m1 0h0m5 0h0m1 0h0m1 0h0m2 0h0m1 0h0m3 0h0m1 0h0m1 0h0m6 0h0m41 0h0m4 0h0m-83 1h0m3 0h0m1 0h0m2 0h0m3 0h0m1 0h0m1 0h0m1 0h0m1 0h0m3 0h0m1 0h0m1 0h0m2 0h0m1 0h0m1 0h0m1 0h0m1 0h0m1 0h0m2 0h0m2 0h0m1 0h0m1 0h0m4 0h0m2 0h0m2 0h0m3 0h0m35 0h0m-71 1h0m2 0h0m8 0h0m1 0h0m1 0h0m3 0h0m1 0h0m2 0h0m1 0h0m3 0h0m1 0h0m40 0h0m23 0h0m3 0h0m-106 1h0m15 0h0m1 0h0m2 0h0m1 0h0m1 0h0m2 0h0m2 0h0m1 0h0m3 0h0m1 0h0m1 0h0m1 0h0m1 0h0m1 0h0m1 0h0m1 0h0m1 0h0m3 0h0m4 0h0m1 0h0m37 0h0m20 0h0m-89 1h0m4 0h0m2 0h0m2 0h0m1 0h0m4 0h0m5 0h0m1 0h0m1 0h0m1 0h0m1 0h0m1 0h0m2 0h0m1 0h0m2 0h0m2 0h0m1 0h0m4 0h0m23 0h0m9 0h0m14 0h0m-82 1h0m1 0h0m3 0h0m1 0h0m1 0h0m3 0h0m1 0h0m1 0h0m1 0h0m1 0h0m1 0h0m2 0h0m1 0h0m1 0h0m1 0h0m1 0h0m1 0h0m1 0h0m3 0h0m1 0h0m1 0h0m2 0h0m4 0h0m47 0h0m-83 1h0m1 0h0m4 0h0m4 0h0m2 0h0m1 0h0m2 0h0m2 0h0m2 0h0m3 0h0m1 0h0m1 0h0m1 0h0m2 0h0m1 0h0m3 0h0m1 0h0m1 0h0m4 0h0m58 0h0m-89 1h0m1 0h0m1 0h0m1 0h0m2 0h0m1 0h0m1 0h0m2 0h0m2 0h0m1 0h0m1 0h0m4 0h0m1 0h0m1 0h0m1 0h0m1 0h0m1 0h0m1 0h0m1 0h0m1 0h0m2 0h0m1 0h0m3 0h0m5 0h0m3 0h0m3 0h0m23 0h0m7 0h0m4 0h0m-82 1h0m3 0h0m1 0h0m2 0h0m1 0h0m1 0h0m2 0h0m1 0h0m3 0h0m1 0h0m1 0h0m2 0h0m2 0h0m1 0h0m1 0h0m1 0h0m1 0h0m1 0h0m1 0h0m2 0h0m1 0h0m1 0h0m2 0h0m1 0h0m3 0h0m3 0h0m5 0h0m39 0h0m-82 1h0m1 0h0m6 0h0m1 0h0m2 0h0m2 0h0m1 0h0m3 0h0m1 0h0m2 0h0m1 0h0m1 0h0m2 0h0m1 0h0m1 0h0m1 0h0m1 0h0m1 0h0m3 0h0m1 0h0m1 0h0m2 0h0m3 0h0m8 0h0m18 0h0m8 0h0m-69 1h0m4 0h0m1 0h0m2 0h0m1 0h0m1 0h0m1 0h0m1 0h0m2 0h0m1 0h0m2 0h0m1 0h0m1 0h0m1 0h0m1 0h0m1 0h0m5 0h0m1 0h0m2 0h0m1 0h0m4 0h0m10 0h0m16 0h0m16 0h0m-75 1h0m1 0h0m1 0h0m1 0h0m3 0h0m1 0h0m1 0h0m1 0h0m1 0h0m1 0h0m1 0h0m2 0h0m1 0h0m3 0h0m3 0h0m1 0h0m1 0h0m1 0h0m1 0h0m1 0h0m2 0h0m1 0h0m2 0h0m1 0h0m2 0h0m6 0h0m19 0h0m-62 1h0m1 0h0m1 0h0m2 0h0m1 0h0m1 0h0m2 0h0m1 0h0m1 0h0m1 0h0m1 0h0m1 0h0m1 0h0m1 0h0m1 0h0m1 0h0m1 0h0m1 0h0m1 0h0m1 0h0m2 0h0m1 0h0m1 0h0m1 0h0m1 0h0m2 0h0m1 0h0m2 0h0m3 0h0m2 0h0m25 0h0m3 0h0m19 0h0m-91 1h0m4 0h0m1 0h0m2 0h0m2 0h0m3 0h0m2 0h0m2 0h0m1 0h0m1 0h0m1 0h0m1 0h0m2 0h0m1 0h0m1 0h0m2 0h0m1 0h0m1 0h0m1 0h0m1 0h0m2 0h0m1 0h0m2 0h0m4 0h0m2 0h0m1 0h0m1 0h0m1 0h0m4 0h0m5 0h0m-55 1h0m6 0h0m3 0h0m2 0h0m1 0h0m1 0h0m2 0h0m3 0h0m1 0h0m1 0h0m2 0h0m1 0h0m1 0h0m1 0h0m1 0h0m1 0h0m1 0h0m1 0h0m1 0h0m1 0h0m1 0h0m2 0h0m1 0h0m1 0h0m1 0h0m2 0h0m1 0h0m1 0h0m1 0h0m3 0h0m47 0h0m5 0h0m-94 1h0m5 0h0m1 0h0m1 0h0m2 0h0m1 0h0m1 0h0m4 0h0m1 0h0m1 0h0m2 0h0m1 0h0m1 0h0m2 0h0m1 0h0m1 0h0m2 0h0m1 0h0m5 0h0m1 0h0m1 0h0m3 0h0m4 0h0m1 0h0m11 0h0m9 0h0m-59 1h0m2 0h0m4 0h0m1 0h0m1 0h0m1 0h0m1 0h0m1 0h0m2 0h0m2 0h0m1 0h0m1 0h0m1 0h0m1 0h0m1 0h0m1 0h0m1 0h0m1 0h0m1 0h0m1 0h0m2 0h0m1 0h0m2 0h0m5 0h0m5 0h0m2 0h0m13 0h0m-54 1h0m1 0h0m1 0h0m2 0h0m1 0h0m2 0h0m1 0h0m1 0h0m1 0h0m1 0h0m1 0h0m1 0h0m1 0h0m1 0h0m1 0h0m1 0h0m1 0h0m1 0h0m1 0h0m1 0h0m1 0h0m1 0h0m1 0h0m1 0h0m1 0h0m1 0h0m1 0h0m1 0h0m9 0h0m-43 1h0m1 0h0m4 0h0m2 0h0m2 0h0m2 0h0m1 0h0m1 0h0m1 0h0m1 0h0m1 0h0m1 0h0m1 0h0m1 0h0m1 0h0m1 0h0m1 0h0m1 0h0m2 0h0m1 0h0m1 0h0m1 0h0m1 0h0m1 0h0m5 0h0m1 0h0m1 0h0m1 0h0m3 0h0m36 0h0m4 0h0m-84 1h0m6 0h0m4 0h0m1 0h0m1 0h0m1 0h0m3 0h0m1 0h0m1 0h0m1 0h0m1 0h0m1 0h0m1 0h0m2 0h0m1 0h0m1 0h0m1 0h0m1 0h0m1 0h0m1 0h0m1 0h0m1 0h0m1 0h0m1 0h0m1 0h0m1 0h0m3 0h0m1 0h0m1 0h0m3 0h0m6 0h0m1 0h0m9 0h0m-55 1h0m3 0h0m2 0h0m1 0h0m1 0h0m1 0h0m2 0h0m1 0h0m1 0h0m1 0h0m1 0h0m1 0h0m1 0h0m1 0h0m1 0h0m1 0h0m1 0h0m1 0h0m1 0h0m1 0h0m1 0h0m1 0h0m1 0h0m2 0h0m1 0h0m2 0h0m1 0h0m1 0h0m4 0h0m1 0h0m27 0h0m-70 1h0m6 0h0m3 0h0m1 0h0m1 0h0m2 0h0m1 0h0m1 0h0m1 0h0m1 0h0m1 0h0m1 0h0m1 0h0m1 0h0m1 0h0m1 0h0m1 0h0m1 0h0m1 0h0m1 0h0m1 0h0m1 0h0m1 0h0m2 0h0m1 0h0m1 0h0m2 0h0m4 0h0m2 0h0m3 0h0m6 0h0m-55 1h0m8 0h0m5 0h0m1 0h0m1 0h0m1 0h0m3 0h0m1 0h0m1 0h0m1 0h0m1 0h0m1 0h0m1 0h0m1 0h0m1 0h0m1 0h0m1 0h0m3 0h0m1 0h0m1 0h0m2 0h0m1 0h0m1 0h0m1 0h0m2 0h0m3 0h0m1 0h0m6 0h0m1 0h0m60 0h0m-101 1h0m1 0h0m2 0h0m1 0h0m1 0h0m1 0h0m1 0h0m1 0h0m1 0h0m1 0h0m1 0h0m1 0h0m1 0h0m1 0h0m1 0h0m1 0h0m1 0h0m1 0h0m1 0h0m1 0h0m1 0h0m1 0h0m1 0h0m1 0h0m5 0h0m1 0h0m15 0h0m44 0h0m-90 1h0m2 0h0m2 0h0m1 0h0m1 0h0m2 0h0m1 0h0m1 0h0m1 0h0m1 0h0m1 0h0m1 0h0m1 0h0m1 0h0m1 0h0m1 0h0m1 0h0m1 0h0m2 0h0m1 0h0m1 0h0m1 0h0m2 0h0m1 0h0m1 0h0m1 0h0m1 0h0m3 0h0m4 0h0m-43 1h0m5 0h0m2 0h0m2 0h0m3 0h0m1 0h0m1 0h0m1 0h0m1 0h0m1 0h0m1 0h0m1 0h0m1 0h0m1 0h0m1 0h0m1 0h0m1 0h0m1 0h0m1 0h0m1 0h0m1 0h0m1 0h0m1 0h0m1 0h0m1 0h0m1 0h0m1 0h0m1 0h0m1 0h0m3 0h0m7 0h0m3 0h0m34 0h0m-83 1h0m1 0h0m2 0h0m3 0h0m1 0h0m1 0h0m1 0h0m2 0h0m1 0h0m1 0h0m1 0h0m1 0h0m1 0h0m1 0h0m1 0h0m1 0h0m1 0h0m1 0h0m1 0h0m1 0h0m1 0h0m1 0h0m1 0h0m1 0h0m1 0h0m2 0h0m1 0h0m1 0h0m3 0h0m2 0h0m1 0h0m19 0h0m40 0h0m-93 1h0m3 0h0m1 0h0m2 0h0m1 0h0m2 0h0m1 0h0m1 0h0m1 0h0m1 0h0m1 0h0m1 0h0m1 0h0m1 0h0m1 0h0m1 0h0m1 0h0m1 0h0m1 0h0m1 0h0m1 0h0m2 0h0m1 0h0m1 0h0m1 0h0m2 0h0m2 0h0m5 0h0m1 0h0m-41 1h0m2 0h0m2 0h0m1 0h0m2 0h0m2 0h0m2 0h0m2 0h0m2 0h0m1 0h0m1 0h0m1 0h0m1 0h0m1 0h0m1 0h0m1 0h0m1 0h0m3 0h0m4 0h0m1 0h0m1 0h0m1 0h0m1 0h0m2 0h0m-34 1h0m5 0h0m2 0h0m3 0h0m1 0h0m1 0h0m1 0h0m2 0h0m1 0h0m3 0h0m1 0h0m2 0h0m1 0h0m2 0h0m1 0h0m2 0h0m4 0h0m1 0h0m2 0h0m1 0h0m-36 1h0m1 0h0m1 0h0m1 0h0m2 0h0m1 0h0m1 0h0m1 0h0m1 0h0m1 0h0m1 0h0m2 0h0m1 0h0m1 0h0m1 0h0m1 0h0m1 0h0m1 0h0m1 0h0m1 0h0m1 0h0m1 0h0m1 0h0m1 0h0m3 0h0m1 0h0m1 0h0m1 0h0m1 0h0m4 0h0m1 0h0m1 0h0m3 0h0m-40 1h0m9 0h0m1 0h0m1 0h0m2 0h0m2 0h0m1 0h0m2 0h0m1 0h0m1 0h0m1 0h0m1 0h0m1 0h0m1 0h0m2 0h0m1 0h0m2 0h0m1 0h0m1 0h0m1 0h0m6 0h0m4 0h0m37 0h0m-84 1h0m11 0h0m1 0h0m1 0h0m1 0h0m2 0h0m2 0h0m2 0h0m1 0h0m1 0h0m1 0h0m1 0h0m3 0h0m1 0h0m1 0h0m1 0h0m1 0h0m1 0h0m1 0h0m11 0h0m6 0h0m14 0h0m-72 1h0m13 0h0m2 0h0m2 0h0m2 0h0m2 0h0m1 0h0m2 0h0m1 0h0m1 0h0m1 0h0m1 0h0m1 0h0m1 0h0m1 0h0m1 0h0m1 0h0m1 0h0m2 0h0m2 0h0m2 0h0m1 0h0m3 0h0m6 0h0m4 0h0m45 0h0m-84 1h0m5 0h0m5 0h0m1 0h0m1 0h0m3 0h0m1 0h0m2 0h0m1 0h0m2 0h0m3 0h0m2 0h0m3 0h0m2 0h0m5 0h0m39 0h0m-78 1h0m4 0h0m1 0h0m2 0h0m2 0h0m2 0h0m1 0h0m6 0h0m2 0h0m3 0h0m1 0h0m1 0h0m1 0h0m1 0h0m1 0h0m3 0h0m2 0h0m2 0h0m1 0h0m3 0h0m2 0h0m-43 1h0m1 0h0m1 0h0m4 0h0m2 0h0m1 0h0m2 0h0m2 0h0m1 0h0m1 0h0m1 0h0m2 0h0m1 0h0m3 0h0m1 0h0m1 0h0m1 0h0m1 0h0m2 0h0m5 0h0m1 0h0m23 0h0m-58 1h0m6 0h0m1 0h0m4 0h0m2 0h0m2 0h0m2 0h0m6 0h0m8 0h0m2 0h0m1 0h0m2 0h0m2 0h0m34 0h0m-75 1h0m13 0h0m1 0h0m3 0h0m2 0h0m2 0h0m2 0h0m2 0h0m1 0h0m4 0h0m1 0h0m4 0h0m4 0h0m15 0h0m1 0h0m-54 1h0m7 0h0m5 0h0m5 0h0m4 0h0m4 0h0m6 0h0m1 0h0m-20 1h0m9 0h0m1 0h0m1 0h0m1 0h0m4 0h0m1 0h0m1 0h0m1 0h0m2 0h0m2 0h0m1 0h0m-23 1h0m4 0h0m2 0h0m1 0h0m7 0h0m1 0h0m2 0h0m1 0h0m3 0h0m6 0h0m20 0h0m-67 1h0m16 0h0m2 0h0m5 0h0m2 0h0m1 0h0m3 0h0m1 0h0m2 0h0m1 0h0m1 0h0m1 0h0m3 0h0m3 0h0m4 0h0m1 0h0m-24 1h0m6 0h0m5 0h0m1 0h0m1 0h0m1 0h0m2 0h0m1 0h0m2 0h0m4 0h0m4 0h0m-30 1h0m2 0h0m4 0h0m5 0h0m1 0h0m1 0h0m2 0h0m2 0h0m3 0h0m1 0h0m4 0h0m1 0h0m4 0h0m-27 1h0m4 0h0m2 0h0m3 0h0m1 0h0m1 0h0m2 0h0m1 0h0m1 0h0m2 0h0m1 0h0m3 0h0m2 0h0m1 0h0m11 0h0m-36 1h0m3 0h0m3 0h0m3 0h0m2 0h0m1 0h0m2 0h0m2 0h0m1 0h0m2 0h0m7 0h0m1 0h0m1 0h0m2 0h0m9 0h0m-51 1h0m14 0h0m1 0h0m2 0h0m3 0h0m1 0h0m2 0h0m1 0h0m1 0h0m2 0h0m5 0h0m3 0h0m1 0h0m2 0h0m6 0h0m7 0h0m-40 1h0m3 0h0m3 0h0m3 0h0m3 0h0m3 0h0m2 0h0m2 0h0m1 0h0m1 0h0m1 0h0m1 0h0m1 0h0m1 0h0m1 0h0m4 0h0m8 0h0m-40 1h0m7 0h0m1 0h0m1 0h0m1 0h0m1 0h0m1 0h0m1 0h0m1 0h0m3 0h0m1 0h0m3 0h0m1 0h0m1 0h0m1 0h0m3 0h0m4 0h0m3 0h0m-35 1h0m8 0h0m2 0h0m1 0h0m1 0h0m1 0h0m2 0h0m2 0h0m1 0h0m1 0h0m1 0h0m2 0h0m1 0h0m1 0h0m2 0h0m2 0h0m-32 1h0m7 0h0m1 0h0m1 0h0m5 0h0m3 0h0m3 0h0m1 0h0m2 0h0m1 0h0m1 0h0m1 0h0m1 0h0m2 0h0m2 0h0m2 0h0m3 0h0m1 0h0m1 0h0m2 0h0m-35 1h0m11 0h0m3 0h0m1 0h0m1 0h0m1 0h0m1 0h0m4 0h0m2 0h0m3 0h0m4 0h0m2 0h0m5 0h0m-40 1h0m4 0h0m7 0h0m1 0h0m2 0h0m1 0h0m2 0h0m2 0h0m2 0h0m1 0h0m1 0h0m1 0h0m1 0h0m2 0h0m1 0h0m2 0h0m2 0h0m1 0h0m11 0h0m-39 1h0m7 0h0m3 0h0m1 0h0m1 0h0m1 0h0m1 0h0m1 0h0m1 0h0m3 0h0m1 0h0m1 0h0m2 0h0m2 0h0m3 0h0m2 0h0m3 0h0m-50 1h0m9 0h0m13 0h0m2 0h0m1 0h0m3 0h0m1 0h0m1 0h0m1 0h0m1 0h0m1 0h0m1 0h0m1 0h0m1 0h0m1 0h0m1 0h0m1 0h0m1 0h0m1 0h0m3 0h0m1 0h0m-29 1h0m7 0h0m1 0h0m2 0h0m1 0h0m1 0h0m2 0h0m3 0h0m1 0h0m1 0h0m1 0h0m1 0h0m1 0h0m1 0h0m3 0h0m3 0h0m1 0h0m10 0h0m-35 1h0m2 0h0m1 0h0m1 0h0m1 0h0m1 0h0m1 0h0m1 0h0m1 0h0m1 0h0m1 0h0m1 0h0m1 0h0m1 0h0m2 0h0m1 0h0m1 0h0m1 0h0m3 0h0m7 0h0m4 0h0m-40 1h0m9 0h0m2 0h0m1 0h0m2 0h0m1 0h0m1 0h0m1 0h0m1 0h0m2 0h0m1 0h0m2 0h0m2 0h0m1 0h0m1 0h0m4 0h0m2 0h0m1 0h0m2 0h0m-30 1h0m1 0h0m3 0h0m1 0h0m1 0h0m2 0h0m1 0h0m1 0h0m1 0h0m1 0h0m1 0h0m1 0h0m1 0h0m2 0h0m1 0h0m1 0h0m2 0h0m1 0h0m2 0h0m1 0h0m-27 1h0m3 0h0m1 0h0m1 0h0m2 0h0m1 0h0m1 0h0m1 0h0m1 0h0m3 0h0m2 0h0m1 0h0m1 0h0m1 0h0m2 0h0m2 0h0m1 0h0m4 0h0m1 0h0m3 0h0m-40 1h0m6 0h0m2 0h0m3 0h0m1 0h0m1 0h0m1 0h0m1 0h0m1 0h0m1 0h0m1 0h0m1 0h0m1 0h0m1 0h0m1 0h0m1 0h0m1 0h0m1 0h0m1 0h0m4 0h0m1 0h0m1 0h0m1 0h0m2 0h0m1 0h0m3 0h0m2 0h0m-26 1h0m1 0h0m1 0h0m1 0h0m1 0h0m3 0h0m1 0h0m1 0h0m1 0h0m1 0h0m2 0h0m1 0h0m2 0h0m3 0h0m2 0h0m-25 1h0m2 0h0m2 0h0m1 0h0m2 0h0m1 0h0m1 0h0m2 0h0m1 0h0m1 0h0m1 0h0m1 0h0m3 0h0m1 0h0m1 0h0m1 0h0m5 0h0m4 0h0m-29 1h0m4 0h0m2 0h0m1 0h0m1 0h0m1 0h0m1 0h0m1 0h0m1 0h0m1 0h0m1 0h0m1 0h0m2 0h0m1 0h0m1 0h0m4 0h0m4 0h0m1 0h0m1 0h0m-28 1h0m2 0h0m2 0h0m1 0h0m1 0h0m1 0h0m2 0h0m1 0h0m1 0h0m1 0h0m1 0h0m1 0h0m1 0h0m1 0h0m2 0h0m2 0h0m-22 1h0m1 0h0m2 0h0m2 0h0m2 0h0m1 0h0m1 0h0m1 0h0m1 0h0m1 0h0m1 0h0m1 0h0m2 0h0m1 0h0m7 0h0m1 0h0m1 0h0m-27 1h0m4 0h0m2 0h0m3 0h0m1 0h0m1 0h0m2 0h0m1 0h0m2 0h0m1 0h0m1 0h0m1 0h0m1 0h0m2 0h0m1 0h0m-29 1h0m5 0h0m1 0h0m1 0h0m1 0h0m2 0h0m2 0h0m2 0h0m2 0h0m1 0h0m3 0h0m1 0h0m1 0h0m1 0h0m1 0h0m1 0h0m1 0h0m1 0h0m1 0h0m3 0h0m1 0h0m1 0h0m-15 1h0m1 0h0m1 0h0m1 0h0m2 0h0m3 0h0m3 0h0m-18 1h0m1 0h0m1 0h0m2 0h0m1 0h0m3 0h0m1 0h0m1 0h0m1 0h0m1 0h0m2 0h0m2 0h0m2 0h0m1 0h0m1 0h0m-16 1h0m1 0h0m3 0h0m3 0h0m2 0h0m1 0h0m1 0h0m3 0h0m4 0h0m-26 1h0m4 0h0m4 0h0m2 0h0m2 0h0m1 0h0m4 0h0m1 0h0m2 0h0m2 0h0m-22 1h0m1 0h0m2 0h0m2 0h0m1 0h0m1 0h0m1 0h0m1 0h0m4 0h0m3 0h0m1 0h0m1 0h0m1 0h0m9 0h0m-38 1h0m2 0h0m10 0h0m3 0h0m3 0h0m1 0h0m1 0h0m1 0h0m1 0h0m1 0h0m1 0h0m1 0h0m1 0h0m4 0h0m2 0h0m2 0h0m4 0h0m-25 1h0m3 0h0m21 0h0m-45 1h0m13 0h0m1 0h0m9 0h0m1 0h0m5 0h0m1 0h0m1 0h0m1 0h0m1 0h0m-34 1h0m23 0h0m6 0h0m1 0h0m1 0h0m2 0h0m1 0h0m1 0h0m1 0h0m2 0h0m3 0h0m9 0h0m-23 1h0m2 0h0m2 0h0m2 0h0m-32 1h0m23 0h0m16 0h0m-19 1h0m2 0h0m6 0h0m2 0h0m2 0h0m-34 1h0m27 0h0m3 0h0m1 0h0m3 0h0m8 0h0m21 0h0m-34 1h0m3 0h0m4 1h0m-23 1h0m26 0h0m4 0h0m-12 1h0m1 0h0m9 1h0m-7 2h0m-6 1h0m-13 2h0m41 0h0" stroke="#000" stroke-width="1.6" stroke-linecap="square" fill="none"/>
<path d="M428 565h0m-9 7h0m9 2h0m-2 3h0m-2 1h0m-4 4h0m6 0h0m7 0h0m-8 1h0m0 1h0m2 0h0m7 1h0m-7 1h0m-1 4h0m-3 1h0m7 0h0m7 1h0m-103 2h0m91 0h0m6 0h0m-40 1h0m30 0h0m11 0h0m-86 1h0m38 0h0m26 0h0m-45 1h0m-1 1h0m8 0h0m2 0h0m51 0h0m4 0h0m-65 1h0m13 1h0m7 0h0m-28 1h0m10 0h0m24 0h0m-24 1h0m9 0h0m42 0h0m-70 1h0m29 0h0m7 0h0m28 0h0m31 0h0m-67 1h0m1 0h0m25 0h0m-56 1h0m6 0h0m20 0h0m10 0h0m29 0h0m-33 1h0m29 0h0m6 0h0m4 0h0m3 0h0m8 0h0m-76 1h0m12 0h0m52 0h0m14 0h0m-48 1h0m53 0h0m-29 1h0m9 0h0m8 0h0m11 0h0m-77 1h0m59 0h0m1 0h0m12 0h0m5 0h0m-68 1h0m52 0h0m2 0h0m4 0h0m15 0h0m-52 1h0m20 0h0m5 0h0m2 0h0m1 0h0m4 0h0m17 0h0m2 0h0m-46 1h0m37 0h0m8 0h0m-38 1h0m8 0h0m16 0h0m3 0h0m-79 1h0m46 0h0m15 0h0m2 0h0m3 0h0m1 0h0m11 0h0m8 0h0m6 0h0m-71 1h0m9 0h0m22 0h0m3 0h0m3 0h0m9 0h0m9 0h0m3 0h0m2 0h0m1 0h0m9 0h0m-67 1h0m24 0h0m11 0h0m2 0h0m9 0h0m6 0h0m1 0h0m1 0h0m6 0h0m2 0h0m2 0h0m-55 1h0m18 0h0m4 0h0m3 0h0m2 0h0m2 0h0m4 0h0m1 0h0m2 0h0m7 0h0m2 0h0m4 0h0m10 0h0m-94 1h0m42 0h0m13 0h0m3 0h0m2 0h0m7 0h0m3 0h0m1 0h0m2 0h0m1 0h0m10 0h0m1 0h0m1 0h0m4 0h0m1 0h0m-78 1h0m26 0h0m6 0h0m18 0h0m4 0h0m1 0h0m3 0h0m2 0h0m5 0h0m1 0h0m1 0h0m1 0h0m1 0h0m4 0h0m-53 1h0m22 0h0m2 0h0m4 0h0m1 0h0m8 0h0m4 0h0m2 0h0m1 0h0m1 0h0m1 0h0m1 0h0m1 0h0m2 0h0m5 0h0m5 0h0m3 0h0m13 0h0m-54 1h0m8 0h0m3 0h0m2 0h0m1 0h0m1 0h0m5 0h0m3 0h0m6 0h0m4 0h0m10 0h0m-89 1h0m14 0h0m13 0h0m1 0h0m11 0h0m2 0h0m6 0h0m2 0h0m3 0h0m2 0h0m2 0h0m1 0h0m2 0h0m2 0h0m3 0h0m1 0h0m3 0h0m1 0h0m2 0h0m2 0h0m4 0h0m4 0h0m-59 1h0m7 0h0m14 0h0m2 0h0m3 0h0m2 0h0m1 0h0m3 0h0m1 0h0m1 0h0m3 0h0m1 0h0m1 0h0m2 0h0m1 0h0m1 0h0m2 0h0m1 0h0m3 0h0m3 0h0m2 0h0m3 0h0m2 0h0m-75 1h0m25 0h0m8 0h0m1 0h0m1 0h0m1 0h0m5 0h0m2 0h0m2 0h0m1 0h0m5 0h0m1 0h0m4 0h0m2 0h0m1 0h0m1 0h0m1 0h0m2 0h0m2 0h0m4 0h0m5 0h0m6 0h0m-63 1h0m5 0h0m1 0h0m9 0h0m11 0h0m1 0h0m2 0h0m1 0h0m1 0h0m4 0h0m1 0h0m1 0h0m1 0h0m1 0h0m2 0h0m1 0h0m1 0h0m1 0h0m1 0h0m1 0h0m1 0h0m1 0h0m2 0h0m2 0h0m3 0h0m3 0h0m2 0h0m-87 1h0m25 0h0m19 0h0m1 0h0m8 0h0m1 0h0m1 0h0m1 0h0m2 0h0m2 0h0m1 0h0m2 0h0m2 0h0m4 0h0m5 0h0m1 0h0m1 0h0m1 0h0m3 0h0m1 0h0m5 0h0m11 0h0m-78 1h0m9 0h0m9 0h0m7 0h0m7 0h0m1 0h0m4 0h0m2 0h0m1 0h0m1 0h0m3 0h0m1 0h0m1 0h0m1 0h0m4 0h0m1 0h0m1 0h0m4 0h0m1 0h0m4 0h0m1 0h0m4 0h0m9 0h0m-99 1h0m15 0h0m18 0h0m16 0h0m1 0h0m3 0h0m1 0h0m4 0h0m2 0h0m1 0h0m1 0h0m1 0h0m1 0h0m1 0h0m1 0h0m1 0h0m1 0h0m3 0h0m1 0h0m1 0h0m1 0h0m1 0h0m2 0h0m1 0h0m5 0h0m1 0h0m2 0h0m1 0h0m1 0h0m-87 1h0m36 0h0m5 0h0m4 0h0m8 0h0m5 0h0m1 0h0m1 0h0m1 0h0m2 0h0m3 0h0m1 0h0m5 0h0m1 0h0m1 0h0m2 0h0m1 0h0m1 0h0m3 0h0m2 0h0m1 0h0m4 0h0m-85 1h0m20 0h0m5 0h0m26 0h0m2 0h0m1 0h0m1 0h0m3 0h0m1 0h0m1 0h0m3 0h0m1 0h0m4 0h0m2 0h0m1 0h0m2 0h0m1 0h0m1 0h0m1 0h0m4 0h0m3 0h0m12 0h0m-79 1h0m5 0h0m3 0h0m23 0h0m2 0h0m1 0h0m1 0h0m2 0h0m2 0h0m2 0h0m1 0h0m1 0h0m1 0h0m2 0h0m2 0h0m1 0h0m1 0h0m2 0h0m1 0h0m1 0h0m1 0h0m1 0h0m1 0h0m1 0h0m1 0h0m1 0h0m1 0h0m1 0h0m13 0h0m8 0h0m3 0h0m-73 1h0m2 0h0m2 0h0m7 0h0m3 0h0m1 0h0m8 0h0m4 0h0m6 0h0m1 0h0m1 0h0m1 0h0m1 0h0m1 0h0m1 0h0m1 0h0m2 0h0m1 0h0m1 0h0m1 0h0m3 0h0m3 0h0m4 0h0m3 0h0m-63 1h0m16 0h0m5 0h0m1 0h0m1 0h0m4 0h0m1 0h0m6 0h0m2 0h0m1 0h0m2 0h0m1 0h0m1 0h0m1 0h0m1 0h0m1 0h0m1 0h0m1 0h0m2 0h0m1 0h0m1 0h0m1 0h0m3 0h0m4 0h0m1 0h0m6 0h0m1 0h0m-84 1h0m15 0h0m5 0h0m1 0h0m4 0h0m2 0h0m1 0h0m1 0h0m4 0h0m1 0h0m2 0h0m5 0h0m5 0h0m2 0h0m4 0h0m1 0h0m1 0h0m1 0h0m1 0h0m1 0h0m1 0h0m1 0h0m2 0h0m1 0h0m1 0h0m2 0h0m1 0h0m1 0h0m2 0h0m1 0h0m1 0h0m1 0h0m1 0h0m1 0h0m1 0h0m1 0h0m3 0h0m3 0h0m-75 1h0m14 0h0m3 0h0m1 0h0m2 0h0m3 0h0m2 0h0m3 0h0m2 0h0m3 0h0m3 0h0m6 0h0m4 0h0m2 0h0m2 0h0m1 0h0m1 0h0m1 0h0m1 0h0m1 0h0m1 0h0m1 0h0m4 0h0m2 0h0m4 0h0m1 0h0m2 0h0m1 0h0m3 0h0m2 0h0m2 0h0m-62 1h0m1 0h0m1 0h0m4 0h0m10 0h0m3 0h0m8 0h0m2 0h0m1 0h0m1 0h0m1 0h0m1 0h0m1 0h0m1 0h0m1 0h0m1 0h0m1 0h0m1 0h0m2 0h0m1 0h0m1 0h0m1 0h0m1 0h0m1 0h0m1 0h0m1 0h0m1 0h0m6 0h0m-54 1h0m7 0h0m2 0h0m1 0h0m9 0h0m1 0h0m1 0h0m5 0h0m2 0h0m2 0h0m1 0h0m3 0h0m1 0h0m4 0h0m1 0h0m1 0h0m1 0h0m1 0h0m1 0h0m1 0h0m1 0h0m1 0h0m1 0h0m1 0h0m5 0h0m3 0h0m1 0h0m2 0h0m-77 1h0m3 0h0m13 0h0m1 0h0m1 0h0m5 0h0m3 0h0m5 0h0m1 0h0m5 0h0m1 0h0m4 0h0m5 0h0m1 0h0m1 0h0m1 0h0m1 0h0m1 0h0m1 0h0m1 0h0m1 0h0m1 0h0m1 0h0m1 0h0m1 0h0m1 0h0m1 0h0m1 0h0m1 0h0m2 0h0m3 0h0m2 0h0m4 0h0m3 0h0m-63 1h0m5 0h0m6 0h0m3 0h0m2 0h0m6 0h0m1 0h0m2 0h0m3 0h0m2 0h0m2 0h0m2 0h0m1 0h0m1 0h0m1 0h0m1 0h0m1 0h0m1 0h0m1 0h0m1 0h0m1 0h0m1 0h0m1 0h0m1 0h0m1 0h0m1 0h0m1 0h0m1 0h0m1 0h0m3 0h0m2 0h0m1 0h0m-61 1h0m9 0h0m2 0h0m3 0h0m3 0h0m4 0h0m3 0h0m2 0h0m5 0h0m1 0h0m2 0h0m1 0h0m1 0h0m1 0h0m1 0h0m1 0h0m1 0h0m1 0h0m1 0h0m1 0h0m1 0h0m1 0h0m1 0h0m1 0h0m2 0h0m1 0h0m1 0h0m1 0h0m1 0h0m1 0h0m1 0h0m4 0h0m7 0h0m6 0h0m-77 1h0m4 0h0m2 0h0m1 0h0m2 0h0m1 0h0m1 0h0m6 0h0m1 0h0m3 0h0m4 0h0m8 0h0m1 0h0m5 0h0m2 0h0m1 0h0m1 0h0m1 0h0m1 0h0m1 0h0m1 0h0m1 0h0m1 0h0m1 0h0m1 0h0m1 0h0m1 0h0m1 0h0m1 0h0m1 0h0m1 0h0m1 0h0m1 0h0m1 0h0m1 0h0m1 0h0m2 0h0m4 0h0m11 0h0m2 0h0m-75 1h0m4 0h0m5 0h0m1 0h0m2 0h0m2 0h0m8 0h0m3 0h0m5 0h0m2 0h0m1 0h0m1 0h0m1 0h0m1 0h0m2 0h0m1 0h0m1 0h0m2 0h0m1 0h0m1 0h0m1 0h0m1 0h0m1 0h0m1 0h0m1 0h0m1 0h0m2 0h0m1 0h0m2 0h0m1 0h0m1 0h0m1 0h0m1 0h0m-55 1h0m1 0h0m7 0h0m1 0h0m1 0h0m3 0h0m4 0h0m9 0h0m1 0h0m1 0h0m2 0h0m2 0h0m1 0h0m1 0h0m2 0h0m1 0h0m1 0h0m1 0h0m1 0h0m1 0h0m1 0h0m1 0h0m1 0h0m1 0h0m1 0h0m1 0h0m1 0h0m2 0h0m2 0h0m1 0h0m1 0h0m1 0h0m2 0h0m2 0h0m-62 1h0m2 0h0m2 0h0m2 0h0m2 0h0m1 0h0m2 0h0m10 0h0m3 0h0m2 0h0m1 0h0m1 0h0m1 0h0m1 0h0m1 0h0m1 0h0m1 0h0m1 0h0m1 0h0m2 0h0m1 0h0m1 0h0m1 0h0m1 0h0m1 0h0m2 0h0m1 0h0m1 0h0m1 0h0m3 0h0m1 0h0m1 0h0m2 0h0m1 0h0m2 0h0m1 0h0m1 0h0m1 0h0m16 0h0m-85 1h0m10 0h0m4 0h0m1 0h0m5 0h0m4 0h0m1 0h0m3 0h0m1 0h0m3 0h0m3 0h0m5 0h0m1 0h0m1 0h0m2 0h0m1 0h0m1 0h0m1 0h0m1 0h0m1 0h0m1 0h0m1 0h0m1 0h0m1 0h0m1 0h0m1 0h0m1 0h0m1 0h0m1 0h0m1 0h0m1 0h0m2 0h0m1 0h0m-78 1h0m20 0h0m6 0h0m2 0h0m3 0h0m8 0h0m1 0h0m4 0h0m1 0h0m5 0h0m2 0h0m1 0h0m3 0h0m1 0h0m1 0h0m1 0h0m1 0h0m1 0h0m1 0h0m1 0h0m1 0h0m1 0h0m1 0h0m2 0h0m1 0h0m1 0h0m1 0h0m1 0h0m1 0h0m1 0h0m1 0h0m2 0h0m1 0h0m1 0h0m1 0h0m1 0h0m2 0h0m5 0h0m2 0h0m-90 1h0m17 0h0m13 0h0m2 0h0m4 0h0m7 0h0m5 0h0m1 0h0m3 0h0m1 0h0m1 0h0m1 0h0m1 0h0m1 0h0m2 0h0m2 0h0m1 0h0m1 0h0m2 0h0m1 0h0m1 0h0m1 0h0m1 0h0m1 0h0m1 0h0m1 0h0m1 0h0m1 0h0m1 0h0m1 0h0m1 0h0m1 0h0m1 0h0m1 0h0m2 0h0m-62 1h0m2 0h0m2 0h0m4 0h0m4 0h0m2 0h0m2 0h0m1 0h0m2 0h0m7 0h0m1 0h0m6 0h0m1 0h0m1 0h0m1 0h0m1 0h0m1 0h0m1 0h0m1 0h0m1 0h0m1 0h0m1 0h0m1 0h0m1 0h0m1 0h0m1 0h0m1 0h0m1 0h0m1 0h0m1 0h0m1 0h0m1 0h0m1 0h0m1 0h0m1 0h0m1 0h0m1 0h0m1 0h0m2 0h0m1 0h0m13 0h0m-68 1h0m2 0h0m2 0h0m11 0h0m4 0h0m4 0h0m2 0h0m1 0h0m1 0h0m1 0h0m1 0h0m3 0h0m1 0h0m1 0h0m1 0h0m1 0h0m1 0h0m1 0h0m1 0h0m2 0h0m1 0h0m1 0h0m1 0h0m1 0h0m1 0h0m1 0h0m1 0h0m1 0h0m2 0h0m1 0h0m3 0h0m19 0h0m-85 1h0m3 0h0m1 0h0m3 0h0m1 0h0m1 0h0m1 0h0m1 0h0m9 0h0m3 0h0m3 0h0m3 0h0m4 0h0m1 0h0m4 0h0m1 0h0m2 0h0m1 0h0m1 0h0m1 0h0m1 0h0m1 0h0m1 0h0m1 0h0m1 0h0m1 0h0m1 0h0m1 0h0m1 0h0m1 0h0m1 0h0m1 0h0m1 0h0m1 0h0m1 0h0m1 0h0m1 0h0m1 0h0m3 0h0m-74 1h0m22 0h0m1 0h0m3 0h0m13 0h0m6 0h0m1 0h0m5 0h0m1 0h0m2 0h0m1 0h0m1 0h0m1 0h0m1 0h0m1 0h0m1 0h0m1 0h0m1 0h0m1 0h0m1 0h0m1 0h0m1 0h0m1 0h0m1 0h0m1 0h0m2 0h0m2 0h0m1 0h0m1 0h0m5 0h0m-82 1h0m15 0h0m1 0h0m1 0h0m4 0h0m1 0h0m1 0h0m1 0h0m1 0h0m3 0h0m9 0h0m4 0h0m4 0h0m2 0h0m4 0h0m1 0h0m4 0h0m1 0h0m1 0h0m1 0h0m1 0h0m2 0h0m1 0h0m1 0h0m1 0h0m1 0h0m2 0h0m1 0h0m2 0h0m1 0h0m2 0h0m1 0h0m2 0h0m1 0h0m7 0h0m2 0h0m-93 1h0m11 0h0m5 0h0m13 0h0m1 0h0m4 0h0m1 0h0m2 0h0m4 0h0m2 0h0m7 0h0m3 0h0m3 0h0m1 0h0m2 0h0m1 0h0m1 0h0m1 0h0m1 0h0m1 0h0m1 0h0m1 0h0m1 0h0m1 0h0m1 0h0m1 0h0m1 0h0m1 0h0m1 0h0m1 0h0m2 0h0m1 0h0m1 0h0m1 0h0m2 0h0m5 0h0m1 0h0m6 0h0m-89 1h0m15 0h0m7 0h0m1 0h0m2 0h0m4 0h0m6 0h0m1 0h0m4 0h0m2 0h0m3 0h0m3 0h0m3 0h0m1 0h0m3 0h0m1 0h0m1 0h0m1 0h0m1 0h0m1 0h0m1 0h0m2 0h0m1 0h0m1 0h0m1 0h0m1 0h0m1 0h0m1 0h0m1 0h0m2 0h0m2 0h0m3 0h0m1 0h0m1 0h0m4 0h0m-70 1h0m5 0h0m3 0h0m5 0h0m5 0h0m1 0h0m2 0h0m7 0h0m8 0h0m3 0h0m3 0h0m1 0h0m3 0h0m1 0h0m1 0h0m1 0h0m2 0h0m1 0h0m1 0h0m2 0h0m1 0h0m1 0h0m3 0h0m2 0h0m-82 1h0m21 0h0m4 0h0m3 0h0m2 0h0m1 0h0m3 0h0m2 0h0m5 0h0m21 0h0m3 0h0m1 0h0m1 0h0m1 0h0m1 0h0m1 0h0m1 0h0m1 0h0m1 0h0m1 0h0m1 0h0m1 0h0m1 0h0m3 0h0m2 0h0m2 0h0m13 0h0m-85 1h0m12 0h0m7 0h0m4 0h0m4 0h0m4 0h0m19 0h0m3 0h0m1 0h0m1 0h0m1 0h0m1 0h0m1 0h0m1 0h0m1 0h0m1 0h0m3 0h0m1 0h0m2 0h0m1 0h0m4 0h0m2 0h0m-69 1h0m9 0h0m1 0h0m2 0h0m2 0h0m1 0h0m1 0h0m3 0h0m2 0h0m7 0h0m9 0h0m1 0h0m5 0h0m2 0h0m2 0h0m3 0h0m1 0h0m1 0h0m3 0h0m1 0h0m1 0h0m1 0h0m1 0h0m1 0h0m3 0h0m1 0h0m4 0h0m5 0h0m-87 1h0m23 0h0m1 0h0m7 0h0m5 0h0m3 0h0m3 0h0m3 0h0m1 0h0m12 0h0m2 0h0m1 0h0m2 0h0m1 0h0m1 0h0m1 0h0m1 0h0m1 0h0m1 0h0m3 0h0m1 0h0m2 0h0m1 0h0m1 0h0m2 0h0m4 0h0m-85 1h0m16 0h0m2 0h0m2 0h0m2 0h0m2 0h0m3 0h0m1 0h0m4 0h0m1 0h0m1 0h0m1 0h0m1 0h0m1 0h0m4 0h0m5 0h0m15 0h0m1 0h0m1 0h0m2 0h0m2 0h0m1 0h0m2 0h0m1 0h0m1 0h0m1 0h0m8 0h0m3 0h0m1 0h0m1 0h0m-65 1h0m5 0h0m8 0h0m1 0h0m5 0h0m1 0h0m3 0h0m9 0h0m1 0h0m2 0h0m5 0h0m2 0h0m3 0h0m3 0h0m1 0h0m2 0h0m1 0h0m2 0h0m2 0h0m1 0h0m4 0h0m-69 1h0m9 0h0m2 0h0m1 0h0m4 0h0m8 0h0m1 0h0m2 0h0m3 0h0m5 0h0m14 0h0m4 0h0m2 0h0m1 0h0m3 0h0m1 0h0m3 0h0m1 0h0m1 0h0m-62 1h0m7 0h0m4 0h0m4 0h0m2 0h0m1 0h0m2 0h0m3 0h0m1 0h0m15 0h0m1 0h0m1 0h0m1 0h0m3 0h0m2 0h0m1 0h0m3 0h0m6 0h0m2 0h0m4 0h0m3 0h0m6 0h0m-79 1h0m4 0h0m6 0h0m1 0h0m3 0h0m4 0h0m4 0h0m1 0h0m35 0h0m2 0h0m4 0h0m4 0h0m1 0h0m2 0h0m12 0h0m-74 1h0m2 0h0m6 0h0m4 0h0m2 0h0m7 0h0m2 0h0m2 0h0m18 0h0m3 0h0m4 0h0m1 0h0m4 0h0m9 0h0m5 0h0m-87 1h0m5 0h0m5 0h0m13 0h0m3 0h0m9 0h0m5 0h0m1 0h0m5 0h0m19 0h0m1 0h0m8 0h0m9 0h0m-74 1h0m14 0h0m2 0h0m1 0h0m1 0h0m1 0h0m5 0h0m1 0h0m2 0h0m25 0h0m10 0h0m-48 1h0m2 0h0m3 0h0m4 0h0m2 0h0m4 0h0m30 0h0m2 0h0m13 0h0m-62 1h0m1 0h0m4 0h0m5 0h0m5 0h0m29 0h0m11 0h0m7 0h0m1 0h0m-76 1h0m5 0h0m3 0h0m1 0h0m5 0h0m7 0h0m1 0h0m6 0h0m3 0h0m32 0h0m-65 1h0m8 0h0m3 0h0m5 0h0m3 0h0m3 0h0m3 0h0m1 0h0m3 0h0m2 0h0m2 0h0m4 0h0m26 0h0m5 0h0m10 0h0m-84 1h0m9 0h0m3 0h0m3 0h0m2 0h0m2 0h0m1 0h0m1 0h0m2 0h0m5 0h0m5 0h0m10 0h0m6 0h0m24 0h0m-55 1h0m6 0h0m1 0h0m1 0h0m1 0h0m15 0h0m2 0h0m2 0h0m2 0h0m36 0h0m-77 1h0m3 0h0m1 0h0m1 0h0m9 0h0m2 0h0m2 0h0m2 0h0m3 0h0m2 0h0m1 0h0m1 0h0m1 0h0m7 0h0m34 0h0m-80 1h0m13 0h0m3 0h0m4 0h0m1 0h0m3 0h0m3 0h0m3 0h0m5 0h0m1 0h0m28 0h0m1 0h0m4 0h0m7 0h0m-50 1h0m6 0h0m3 0h0m8 0h0m-51 1h0m32 0h0m3 0h0m1 0h0m1 0h0m5 0h0m1 0h0m2 0h0m3 0h0m38 0h0m4 0h0m-71 1h0m1 0h0m2 0h0m5 0h0m8 0h0m3 0h0m1 0h0m3 0h0m3 0h0m5 0h0m5 0h0m-37 1h0m7 0h0m2 0h0m2 0h0m-27 1h0m20 0h0m7 0h0m1 0h0m3 0h0m6 0h0m3 0h0m7 0h0m13 0h0m-49 1h0m10 0h0m1 0h0m2 0h0m7 0h0m2 0h0m8 0h0m6 0h0m-31 1h0m8 0h0m4 0h0m2 0h0m4 0h0m3 0h0m8 0h0m5 0h0m3 0h0m20 0h0m-47 1h0m2 0h0m2 0h0m2 0h0m1 0h0m7 0h0m5 0h0m-37 1h0m9 0h0m8 0h0m5 0h0m10 0h0m2 0h0m48 0h0m-72 1h0m4 0h0m5 0h0m2 0h0m1 0h0m7 0h0m1 0h0m-30 1h0m11 0h0m6 0h0m5 0h0m20 0h0m-42 1h0m11 0h0m1 0h0m1 0h0m2 0h0m2 0h0m6 0h0m15 0h0m-39 1h0m2 0h0m9 0h0m1 0h0m5 0h0m6 0h0m11 0h0m2 0h0m-28 1h0m6 0h0m3 0h0m9 0h0m1 0h0m5 0h0m-27 1h0m1 0h0m1 0h0m4 0h0m3 0h0m2 0h0m6 0h0m1 0h0m2 0h0m1 0h0m1 0h0m4 0h0m-23 1h0m1 0h0m2 0h0m1 0h0m6 0h0m1 0h0m4 0h0m1 0h0m2 0h0m3 0h0m11 0h0m-36 1h0m1 0h0m2 0h0m2 0h0m5 0h0m5 0h0m1 0h0m1 0h0m1 0h0m2 0h0m1 0h0m7 0h0m1 0h0m1 0h0m-38 1h0m3 0h0m1 0h0m14 0h0m1 0h0m1 0h0m8 0h0m2 0h0m3 0h0m2 0h0m26 0h0m-61 1h0m10 0h0m6 0h0m1 0h0m4 0h0m2 0h0m2 0h0m2 0h0m5 0h0m-39 1h0m12 0h0m2 0h0m1 0h0m10 0h0m1 0h0m1 0h0m3 0h0m1 0h0m1 0h0m6 0h0m2 0h0m8 0h0m36 0h0m-78 1h0m5 0h0m1 0h0m3 0h0m1 0h0m5 0h0m2 0h0m1 0h0m7 0h0m2 0h0m7 0h0m2 0h0m13 0h0m37 0h0m-77 1h0m2 0h0m1 0h0m4 0h0m1 0h0m1 0h0m2 0h0m2 0h0m1 0h0m3 0h0m1 0h0m1 0h0m1 0h0m4 0h0m1 0h0m9 0h0m13 0h0m-53 1h0m4 0h0m1 0h0m2 0h0m1 0h0m3 0h0m2 0h0m3 0h0m3 0h0m3 0h0m1 0h0m1 0h0m2 0h0m-35 1h0m5 0h0m14 0h0m2 0h0m1 0h0m1 0h0m2 0h0m1 0h0m1 0h0m1 0h0m2 0h0m2 0h0m2 0h0m1 0h0m2 0h0m11 0h0m-46 1h0m12 0h0m4 0h0m1 0h0m4 0h0m1 0h0m4 0h0m3 0h0m2 0h0m1 0h0m2 0h0m-32 1h0m1 0h0m13 0h0m1 0h0m1 0h0m3 0h0m1 0h0m5 0h0m1 0h0m1 0h0m1 0h0m2 0h0m1 0h0m3 0h0m-27 1h0m1 0h0m3 0h0m1 0h0m1 0h0m1 0h0m2 0h0m3 0h0m4 0h0m3 0h0m9 0h0m9 0h0m21 0h0m-78 1h0m19 0h0m5 0h0m1 0h0m1 0h0m1 0h0m1 0h0m1 0h0m1 0h0m1 0h0m5 0h0m3 0h0m1 0h0m3 0h0m1 0h0m3 0h0m1 0h0m1 0h0m3 0h0m27 0h0m14 0h0m-75 1h0m3 0h0m1 0h0m2 0h0m1 0h0m2 0h0m1 0h0m1 0h0m1 0h0m2 0h0m1 0h0m2 0h0m1 0h0m1 0h0m1 0h0m2 0h0m5 0h0m67 0h0m-93 1h0m1 0h0m1 0h0m7 0h0m2 0h0m1 0h0m1 0h0m1 0h0m2 0h0m1 0h0m4 0h0m1 0h0m2 0h0m2 0h0m-28 1h0m1 0h0m1 0h0m3 0h0m1 0h0m1 0h0m2 0h0m3 0h0m1 0h0m1 0h0m1 0h0m2 0h0m1 0h0m4 0h0m6 0h0m1 0h0m-31 1h0m6 0h0m1 0h0m1 0h0m2 0h0m1 0h0m1 0h0m1 0h0m4 0h0m2 0h0m1 0h0m1 0h0m3 0h0m4 0h0m1 0h0m2 0h0m-39 1h0m8 0h0m4 0h0m3 0h0m1 0h0m1 0h0m3 0h0m3 0h0m1 0h0m2 0h0m1 0h0m1 0h0m1 0h0m2 0h0m2 0h0m2 0h0m6 0h0m-33 1h0m2 0h0m2 0h0m6 0h0m2 0h0m1 0h0m2 0h0m1 0h0m5 0h0m1 0h0m2 0h0m1 0h0m1 0h0m1 0h0m4 0h0m1 0h0m1 0h0m-36 1h0m5 0h0m7 0h0m2 0h0m4 0h0m3 0h0m1 0h0m1 0h0m3 0h0m1 0h0m1 0h0m2 0h0m4 0h0m-41 1h0m15 0h0m5 0h0m1 0h0m1 0h0m1 0h0m2 0h0m1 0h0m1 0h0m1 0h0m1 0h0m1 0h0m3 0h0m2 0h0m2 0h0m-27 1h0m6 0h0m1 0h0m2 0h0m1 0h0m1 0h0m1 0h0m1 0h0m3 0h0m1 0h0m2 0h0m1 0h0m3 0h0m2 0h0m3 0h0m2 0h0m-29 1h0m1 0h0m1 0h0m1 0h0m7 0h0m2 0h0m1 0h0m1 0h0m2 0h0m2 0h0m1 0h0m2 0h0m3 0h0m1 0h0m1 0h0m1 0h0m5 0h0m-24 1h0m1 0h0m1 0h0m2 0h0m4 0h0m1 0h0m1 0h0m4 0h0m4 0h0m1 0h0m62 0h0m-88 1h0m2 0h0m3 0h0m4 0h0m2 0h0m2 0h0m3 0h0m1 0h0m1 0h0m3 0h0m2 0h0m1 0h0m1 0h0m-25 1h0m5 0h0m3 0h0m2 0h0m1 0h0m1 0h0m1 0h0m1 0h0m4 0h0m6 0h0m4 0h0m2 0h0m3 0h0m4 0h0m-41 1h0m7 0h0m4 0h0m2 0h0m1 0h0m2 0h0m4 0h0m1 0h0m1 0h0m1 0h0m1 0h0m-31 1h0m12 0h0m5 0h0m1 0h0m2 0h0m3 0h0m2 0h0m2 0h0m2 0h0m1 0h0m2 0h0m-21 1h0m9 0h0m1 0h0m1 0h0m1 0h0m2 0h0m1 0h0m1 0h0m1 0h0m2 0h0m1 0h0m1 0h0m1 0h0m-30 1h0m9 0h0m6 0h0m1 0h0m2 0h0m1 0h0m1 0h0m9 0h0m1 0h0m-27 1h0m4 0h0m3 0h0m8 0h0m1 0h0m7 0h0m4 0h0m16 0h0m-38 1h0m8 0h0m3 0h0m1 0h0m1 0h0m1 0h0m5 0h0m1 0h0m1 0h0m-24 1h0m4 0h0m2 0h0m7 0h0m2 0h0m3 0h0m1 0h0m1 0h0m1 0h0m-24 1h0m7 0h0m3 0h0m1 0h0m8 0h0m6 0h0m1 0h0m11 0h0m-43 1h0m8 0h0m4 0h0m1 0h0m5 0h0m1 0h0m8 0h0m-2 1h0m9 0h0m6 0h0m2 0h0m-30 1h0m2 0h0m4 0h0m4 0h0m6 0h0m7 0h0m-13 1h0m8 0h0m-31 1h0m12 0h0m28 0h0m-20 1h0m2 0h0m9 1h0m-15 1h0m1 0h0m17 0h0m14 0h0m-29 1h0m2 0h0m15 0h0m2 0h0m-26 1h0m6 0h0m-6 1h0m6 0h0m16 1h0" stroke="#000" stroke-width="1.6" stroke-linecap="square" fill="none"/>
<path d="M69 850h0m-11 18h0m51 1h0m-25 1h0m2 0h0m-6 1h0m2 0h0m16 0h0m3 0h0m-20 1h0m1 0h0m-12 1h0m11 0h0m1 0h0m2 0h0m5 0h0m-5 1h0m9 0h0m6 0h0m-29 1h0m10 0h0m4 0h0m3 0h0m7 0h0m1 0h0m12 0h0m-36 1h0m2 0h0m1 0h0m2 0h0m3 0h0m1 0h0m7 0h0m1 0h0m1 0h0m2 0h0m3 0h0m8 0h0m-31 1h0m3 0h0m1 0h0m1 0h0m2 0h0m3 0h0m3 0h0m7 0h0m1 0h0m4 0h0m8 0h0m-34 1h0m4 0h0m3 0h0m1 0h0m1 0h0m2 0h0m3 0h0m3 0h0m1 0h0m2 0h0m3 0h0m6 0h0m1 0h0m1 0h0m5 0h0m-46 1h0m11 0h0m2 0h0m2 0h0m2 0h0m1 0h0m1 0h0m1 0h0m2 0h0m1 0h0m2 0h0m1 0h0m1 0h0m1 0h0m1 0h0m2 0h0m2 0h0m1 0h0m2 0h0m21 0h0m1 0h0m22 0h0m-79 1h0m1 0h0m2 0h0m6 0h0m2 0h0m4 0h0m2 0h0m1 0h0m2 0h0m1 0h0m3 0h0m2 0h0m2 0h0m1 0h0m2 0h0m1 0h0m7 0h0m58 0h0m-94 1h0m4 0h0m2 0h0m2 0h0m1 0h0m1 0h0m2 0h0m1 0h0m1 0h0m1 0h0m2 0h0m2 0h0m2 0h0m2 0h0m1 0h0m1 0h0m2 0h0m1 0h0m1 0h0m1 0h0m2 0h0m1 0h0m8 0h0m-44 1h0m5 0h0m1 0h0m1 0h0m1 0h0m2 0h0m1 0h0m1 0h0m3 0h0m2 0h0m1 0h0m1 0h0m1 0h0m2 0h0m1 0h0m2 0h0m1 0h0m1 0h0m1 0h0m1 0h0m1 0h0m1 0h0m2 0h0m1 0h0m2 0h0m3 0h0m1 0h0m1 0h0m4 0h0m66 0h0m-107 1h0m2 0h0m1 0h0m5 0h0m1 0h0m2 0h0m1 0h0m1 0h0m1 0h0m2 0h0m2 0h0m1 0h0m4 0h0m1 0h0m2 0h0m1 0h0m1 0h0m1 0h0m3 0h0m1 0h0m1 0h0m1 0h0m2 0h0m9 0h0m2 0h0m28 0h0m-78 1h0m2 0h0m2 0h0m1 0h0m2 0h0m1 0h0m1 0h0m1 0h0m2 0h0m2 0h0m1 0h0m1 0h0m1 0h0m1 0h0m1 0h0m1 0h0m1 0h0m1 0h0m1 0h0m1 0h0m1 0h0m1 0h0m1 0h0m1 0h0m1 0h0m1 0h0m6 0h0m1 0h0m1 0h0m1 0h0m8 0h0m13 0h0m22 0h0m-94 1h0m4 0h0m2 0h0m4 0h0m3 0h0m1 0h0m1 0h0m3 0h0m1 0h0m2 0h0m2 0h0m1 0h0m1 0h0m1 0h0m1 0h0m1 0h0m1 0h0m2 0h0m1 0h0m1 0h0m1 0h0m1 0h0m1 0h0m2 0h0m1 0h0m1 0h0m1 0h0m1 0h0m1 0h0m1 0h0m1 0h0m3 0h0m1 0h0m1 0h0m1 0h0m4 0h0m9 0h0m-63 1h0m8 0h0m2 0h0m2 0h0m1 0h0m1 0h0m1 0h0m1 0h0m1 0h0m1 0h0m2 0h0m1 0h0m1 0h0m1 0h0m2 0h0m1 0h0m1 0h0m1 0h0m1 0h0m3 0h0m1 0h0m1 0h0m1 0h0m1 0h0m1 0h0m1 0h0m1 0h0m1 0h0m1 0h0m1 0h0m1 0h0m1 0h0m1 0h0m4 0h0m-41 1h0m4 0h0m2 0h0m1 0h0m1 0h0m1 0h0m2 0h0m1 0h0m1 0h0m1 0h0m1 0h0m3 0h0m1 0h0m1 0h0m1 0h0m1 0h0m2 0h0m1 0h0m1 0h0m1 0h0m1 0h0m1 0h0m1 0h0m1 0h0m1 0h0m1 0h0m1 0h0m1 0h0m1 0h0m1 0h0m2 0h0m3 0h0m2 0h0m-46 1h0m6 0h0m1 0h0m2 0h0m1 0h0m1 0h0m1 0h0m1 0h0m1 0h0m1 0h0m2 0h0m1 0h0m1 0h0m1 0h0m1 0h0m1 0h0m1 0h0m1 0h0m1 0h0m1 0h0m1 0h0m1 0h0m1 0h0m1 0h0m2 0h0m1 0h0m1 0h0m3 0h0m1 0h0m2 0h0m1 0h0m9 0h0m63 0h0m2 0h0m-115 1h0m4 0h0m1 0h0m2 0h0m2 0h0m1 0h0m1 0h0m1 0h0m2 0h0m1 0h0m1 0h0m1 0h0m2 0h0m1 0h0m1 0h0m1 0h0m1 0h0m1 0h0m1 0h0m1 0h0m1 0h0m1 0h0m1 0h0m1 0h0m1 0h0m1 0h0m1 0h0m1 0h0m1 0h0m1 0h0m1 0h0m1 0h0m1 0h0m1 0h0m1 0h0m1 0h0m1 0h0m5 0h0m2 0h0m38 0h0m-93 1h0m8 0h0m2 0h0m1 0h0m1 0h0m1 0h0m2 0h0m1 0h0m1 0h0m2 0h0m1 0h0m1 0h0m1 0h0m1 0h0m2 0h0m1 0h0m1 0h0m1 0h0m1 0h0m1 0h0m1 0h0m1 0h0m1 0h0m1 0h0m1 0h0m1 0h0m2 0h0m1 0h0m1 0h0m2 0h0m1 0h0m1 0h0m1 0h0m2 0h0m1 0h0m4 0h0m64 0h0m7 0h0m-116 1h0m2 0h0m2 0h0m4 0h0m1 0h0m1 0h0m1 0h0m4 0h0m1 0h0m1 0h0m1 0h0m1 0h0m1 0h0m1 0h0m1 0h0m1 0h0m1 0h0m1 0h0m1 0h0m1 0h0m1 0h0m1 0h0m1 0h0m1 0h0m1 0h0m1 0h0m1 0h0m1 0h0m2 0h0m1 0h0m2 0h0m1 0h0m2 0h0m1 0h0m16 0h0m15 0h0m-77 1h0m3 0h0m1 0h0m2 0h0m1 0h0m1 0h0m2 0h0m2 0h0m1 0h0m1 0h0m1 0h0m1 0h0m1 0h0m1 0h0m1 0h0m1 0h0m1 0h0m1 0h0m1 0h0m1 0h0m2 0h0m1 0h0m1 0h0m1 0h0m1 0h0m1 0h0m1 0h0m1 0h0m1 0h0m2 0h0m1 0h0m1 0h0m3 0h0m3 0h0m42 0h0m-87 1h0m5 0h0m1 0h0m1 0h0m2 0h0m1 0h0m2 0h0m2 0h0m1 0h0m2 0h0m1 0h0m1 0h0m1 0h0m1 0h0m1 0h0m1 0h0m1 0h0m1 0h0m1 0h0m1 0h0m1 0h0m1 0h0m1 0h0m1 0h0m1 0h0m1 0h0m1 0h0m2 0h0m1 0h0m1 0h0m2 0h0m7 0h0m2 0h0m1 0h0m5 0h0m44 0h0m-95 1h0m3 0h0m1 0h0m1 0h0m2 0h0m1 0h0m1 0h0m1 0h0m1 0h0m2 0h0m1 0h0m1 0h0m2 0h0m3 0h0m1 0h0m1 0h0m1 0h0m1 0h0m1 0h0m1 0h0m1 0h0m1 0h0m1 0h0m2 0h0m2 0h0m1 0h0m3 0h0m7 0h0m31 0h0m-78 1h0m3 0h0m3 0h0m3 0h0m1 0h0m1 0h0m1 0h0m1 0h0m1 0h0m1 0h0m3 0h0m1 0h0m1 0h0m1 0h0m1 0h0m1 0h0m1 0h0m1 0h0m1 0h0m2 0h0m1 0h0m2 0h0m1 0h0m1 0h0m1 0h0m1 0h0m1 0h0m2 0h0m2 0h0m6 0h0m2 0h0m-47 1h0m6 0h0m1 0h0m1 0h0m1 0h0m3 0h0m1 0h0m1 0h0m1 0h0m1 0h0m2 0h0m1 0h0m1 0h0m2 0h0m1 0h0m3 0h0m1 0h0m1 0h0m2 0h0m3 0h0m2 0h0m1 0h0m1 0h0m3 0h0m2 0h0m3 0h0m2 0h0m-50 1h0m10 0h0m2 0h0m8 0h0m1 0h0m1 0h0m1 0h0m2 0h0m2 0h0m1 0h0m1 0h0m1 0h0m1 0h0m1 0h0m2 0h0m2 0h0m1 0h0m3 0h0m1 0h0m2 0h0m6 0h0m22 0h0m14 0h0m-79 1h0m2 0h0m2 0h0m2 0h0m10 0h0m2 0h0m1 0h0m3 0h0m1 0h0m1 0h0m2 0h0m1 0h0m2 0h0m1 0h0m1 0h0m1 0h0m2 0h0m3 0h0m-43 1h0m7 0h0m1 0h0m1 0h0m2 0h0m4 0h0m1 0h0m1 0h0m4 0h0m1 0h0m2 0h0m2 0h0m1 0h0m1 0h0m2 0h0m1 0h0m1 0h0m1 0h0m1 0h0m3 0h0m2 0h0m1 0h0m2 0h0m2 0h0m1 0h0m10 0h0m-52 1h0m3 0h0m10 0h0m5 0h0m1 0h0m1 0h0m1 0h0m1 0h0m1 0h0m2 0h0m1 0h0m1 0h0m1 0h0m1 0h0m2 0h0m2 0h0m1 0h0m1 0h0m1 0h0m4 0h0m2 0h0m8 0h0m-37 1h0m1 0h0m8 0h0m1 0h0m1 0h0m2 0h0m1 0h0m1 0h0m2 0h0m1 0h0m4 0h0m1 0h0m2 0h0m1 0h0m13 0h0m8 0h0m-54 1h0m7 0h0m1 0h0m4 0h0m4 0h0m1 0h0m4 0h0m1 0h0m5 0h0m4 0h0m8 0h0m43 0h0m21 0h0m1 0h0m-100 1h0m6 0h0m2 0h0m6 0h0m1 0h0m4 0h0m1 0h0m9 0h0m2 0h0m1 0h0m12 0h0m60 0h0m4 0h0m-111 1h0m3 0h0m9 0h0m5 0h0m2 0h0m1 0h0m6 0h0m2 0h0m2 0h0m8 0h0m24 0h0m8 0h0m28 0h0m5 0h0m2 0h0m-104 1h0m8 0h0m2 0h0m2 0h0m3 0h0m5 0h0m1 0h0m1 0h0m1 0h0m4 0h0m3 0h0m5 0h0m2 0h0m1 0h0m66 0h0m-104 1h0m9 0h0m7 0h0m1 0h0m3 0h0m5 0h0m1 0h0m6 0h0m4 0h0m-41 1h0m21 0h0m2 0h0m1 0h0m1 0h0m4 0h0m1 0h0m1 0h0m4 0h0m4 0h0m29 0h0m30 0h0m-86 1h0m3 0h0m1 0h0m4 0h0m3 0h0m3 0h0m3 0h0m1 0h0m1 0h0m1 0h0m2 0h0m7 0h0m31 0h0m3 0h0m13 0h0m3 0h0m-87 1h0m19 0h0m1 0h0m1 0h0m1 0h0m1 0h0m1 0h0m1 0h0m3 0h0m1 0h0m3 0h0m2 0h0m6 0h0m-21 1h0m1 0h0m1 0h0m2 0h0m1 0h0m2 0h0m1 0h0m1 0h0m1 0h0m2 0h0m5 0h0m8 0h0m15 0h0m-47 1h0m5 0h0m2 0h0m5 0h0m5 0h0m2 0h0m-16 1h0m2 0h0m2 0h0m2 0h0m2 0h0m3 0h0m4 0h0m3 0h0m-22 1h0m4 0h0m4 0h0m1 0h0m5 0h0m1 0h0m1 0h0m1 0h0m6 0h0m5 0h0m66 0h0m-83 1h0m3 0h0m1 0h0m1 0h0m9 0h0m-14 1h0m3 0h0m1 0h0m5 0h0m4 0h0m3 0h0m8 0h0m46 0h0m-76 1h0m4 0h0m2 0h0m7 0h0m1 0h0m4 0h0m26 0h0m22 0h0m4 0h0m-62 1h0m3 0h0m8 0h0m5 0h0m-21 1h0m3 0h0m1 0h0m5 0h0m69 0h0m-80 1h0m5 0h0m1 0h0m6 0h0m9 0h0m-20 1h0m12 0h0m4 0h0m25 0h0m-37 1h0m3 0h0m-12 1h0m5 0h0m9 0h0m2 0h0m1 0h0m11 0h0m-15 1h0m-12 1h0m6 0h0m3 0h0m53 0h0m-48 1h0m-4 1h0m6 0h0m4 0h0m-10 1h0m47 2h0m9 0h0m-57 1h0m38 0h0m30 0h0m-2 1h0m-2 1h0m1 1h0m5 0h0m-44 1h0m12 0h0m30 0h0m-97 1h0m46 0h0m12 0h0m2 0h0m6 0h0m20 0h0m-87 1h0m58 0h0m17 0h0m9 0h0m15 0h0m-55 1h0m21 0h0m7 0h0m22 0h0m-50 1h0m18 0h0m1 0h0m5 0h0m7 0h0m15 0h0m-42 1h0m7 0h0m14 0h0m28 0h0m8 0h0m-67 1h0m10 0h0m14 0h0m9 0h0m12 0h0m12 0h0m13 0h0m6 0h0m-61 1h0m29 0h0m7 0h0m3 0h0m8 0h0m12 0h0m-63 1h0m18 0h0m17 0h0m1 0h0m1 0h0m1 0h0m3 0h0m1 0h0m8 0h0m11 0h0m1 0h0m-70 1h0m11 0h0m1 0h0m1 0h0m9 0h0m1 0h0m15 0h0m11 0h0m1 0h0m1 0h0m9 0h0m3 0h0m-64 1h0m3 0h0m3 0h0m8 0h0m3 0h0m3 0h0m6 0h0m17 0h0m1 0h0m2 0h0m1 0h0m1 0h0m5 0h0m7 0h0m3 0h0m-65 1h0m8 0h0m1 0h0m6 0h0m4 0h0m18 0h0m9 0h0m1 0h0m1 0h0m9 0h0m6 0h0m5 0h0m-69 1h0m6 0h0m10 0h0m23 0h0m6 0h0m1 0h0m1 0h0m2 0h0m1 0h0m1 0h0m2 0h0m1 0h0m4 0h0m2 0h0m16 0h0m-66 1h0m1 0h0m7 0h0m10 0h0m7 0h0m13 0h0m2 0h0m6 0h0m4 0h0m1 0h0m9 0h0m-73 1h0m4 0h0m1 0h0m7 0h0m1 0h0m2 0h0m3 0h0m4 0h0m3 0h0m3 0h0m13 0h0m10 0h0m1 0h0m1 0h0m1 0h0m1 0h0m3 0h0m3 0h0m2 0h0m-59 1h0m2 0h0m1 0h0m5 0h0m3 0h0m11 0h0m10 0h0m5 0h0m9 0h0m3 0h0m1 0h0m3 0h0m1 0h0m1 0h0m1 0h0m2 0h0m1 0h0m5 0h0m1 0h0m-89 1h0m27 0h0m8 0h0m4 0h0m1 0h0m23 0h0m3 0h0m2 0h0m4 0h0m1 0h0m2 0h0m1 0h0m1 0h0m5 0h0m10 0h0m1 0h0m-79 1h0m14 0h0m9 0h0m17 0h0m1 0h0m10 0h0m3 0h0m3 0h0m3 0h0m2 0h0m2 0h0m7 0h0m4 0h0m6 0h0m-75 1h0m6 0h0m3 0h0m9 0h0m5 0h0m13 0h0m5 0h0m3 0h0m1 0h0m1 0h0m3 0h0m3 0h0m1 0h0m6 0h0m1 0h0m1 0h0m5 0h0m3 0h0m2 0h0m-73 1h0m25 0h0m3 0h0m2 0h0m2 0h0m7 0h0m6 0h0m3 0h0m2 0h0m2 0h0m1 0h0m2 0h0m1 0h0m1 0h0m1 0h0m2 0h0m1 0h0m2 0h0m2 0h0m14 0h0m-85 1h0m13 0h0m7 0h0m2 0h0m1 0h0m3 0h0m1 0h0m18 0h0m6 0h0m3 0h0m2 0h0m2 0h0m1 0h0m2 0h0m2 0h0m3 0h0m1 0h0m1 0h0m3 0h0m11 0h0m-85 1h0m24 0h0m4 0h0m1 0h0m17 0h0m8 0h0m6 0h0m1 0h0m1 0h0m1 0h0m1 0h0m1 0h0m3 0h0m1 0h0m5 0h0m1 0h0m1 0h0m1 0h0m11 0h0m-81 1h0m1 0h0m6 0h0m2 0h0m2 0h0m1 0h0m2 0h0m1 0h0m15 0h0m1 0h0m7 0h0m1 0h0m1 0h0m4 0h0m4 0h0m2 0h0m1 0h0m1 0h0m1 0h0m3 0h0m2 0h0m2 0h0m1 0h0m1 0h0m2 0h0m1 0h0m2 0h0m2 0h0m5 0h0m4 0h0m-82 1h0m3 0h0m5 0h0m1 0h0m2 0h0m11 0h0m5 0h0m5 0h0m7 0h0m9 0h0m1 0h0m3 0h0m1 0h0m2 0h0m1 0h0m1 0h0m4 0h0m1 0h0m1 0h0m2 0h0m1 0h0m1 0h0m2 0h0m2 0h0m2 0h0m2 0h0m1 0h0m5 0h0m-84 1h0m2 0h0m15 0h0m9 0h0m9 0h0m15 0h0m2 0h0m1 0h0m2 0h0m2 0h0m2 0h0m2 0h0m3 0h0m1 0h0m1 0h0m1 0h0m2 0h0m1 0h0m1 0h0m1 0h0m3 0h0m2 0h0m2 0h0m-86 1h0m10 0h0m1 0h0m14 0h0m4 0h0m1 0h0m24 0h0m6 0h0m1 0h0m1 0h0m2 0h0m1 0h0m1 0h0m2 0h0m1 0h0m1 0h0m3 0h0m2 0h0m1 0h0m2 0h0m1 0h0m3 0h0m3 0h0m5 0h0m2 0h0m6 0h0m1 0h0m4 0h0m-95 1h0m6 0h0m6 0h0m2 0h0m3 0h0m5 0h0m5 0h0m5 0h0m2 0h0m11 0h0m7 0h0m1 0h0m2 0h0m1 0h0m2 0h0m1 0h0m1 0h0m1 0h0m1 0h0m1 0h0m1 0h0m2 0h0m2 0h0m1 0h0m1 0h0m1 0h0m6 0h0m7 0h0m2 0h0m-85 1h0m1 0h0m3 0h0m2 0h0m2 0h0m2 0h0m5 0h0m5 0h0m11 0h0m3 0h0m2 0h0m5 0h0m4 0h0m5 0h0m1 0h0m1 0h0m3 0h0m1 0h0m2 0h0m1 0h0m1 0h0m2 0h0m1 0h0m1 0h0m1 0h0m1 0h0m1 0h0m1 0h0m1 0h0m3 0h0m2 0h0m1 0h0m5 0h0m5 0h0m3 0h0m-91 1h0m2 0h0m7 0h0m1 0h0m4 0h0m3 0h0m1 0h0m8 0h0m2 0h0m20 0h0m1 0h0m4 0h0m3 0h0m1 0h0m2 0h0m1 0h0m1 0h0m1 0h0m1 0h0m1 0h0m1 0h0m1 0h0m2 0h0m2 0h0m1 0h0m1 0h0m1 0h0m1 0h0m1 0h0m1 0h0m1 0h0m6 0h0m1 0h0m2 0h0m3 0h0m5 0h0m-90 1h0m1 0h0m1 0h0m2 0h0m4 0h0m7 0h0m2 0h0m3 0h0m7 0h0m4 0h0m14 0h0m3 0h0m2 0h0m2 0h0m1 0h0m1 0h0m2 0h0m1 0h0m2 0h0m1 0h0m1 0h0m1 0h0m1 0h0m1 0h0m1 0h0m1 0h0m1 0h0m1 0h0m1 0h0m2 0h0m5 0h0m4 0h0m1 0h0m6 0h0m-101 1h0m8 0h0m2 0h0m5 0h0m5 0h0m3 0h0m1 0h0m4 0h0m4 0h0m2 0h0m6 0h0m2 0h0m6 0h0m17 0h0m2 0h0m1 0h0m1 0h0m1 0h0m1 0h0m2 0h0m1 0h0m1 0h0m1 0h0m1 0h0m1 0h0m1 0h0m1 0h0m2 0h0m3 0h0m2 0h0m1 0h0m2 0h0m1 0h0m5 0h0m1 0h0m1 0h0m-108 1h0m20 0h0m8 0h0m5 0h0m1 0h0m3 0h0m1 0h0m1 0h0m11 0h0m12 0h0m6 0h0m5 0h0m2 0h0m2 0h0m1 0h0m1 0h0m1 0h0m1 0h0m1 0h0m1 0h0m1 0h0m1 0h0m1 0h0m1 0h0m1 0h0m1 0h0m1 0h0m1 0h0m2 0h0m1 0h0m1 0h0m1 0h0m1 0h0m1 0h0m2 0h0m1 0h0m1 0h0m2 0h0m3 0h0m2 0h0m-85 1h0m6 0h0m4 0h0m7 0h0m29 0h0m3 0h0m1 0h0m1 0h0m1 0h0m2 0h0m1 0h0m1 0h0m1 0h0m1 0h0m1 0h0m1 0h0m1 0h0m1 0h0m2 0h0m1 0h0m1 0h0m1 0h0m1 0h0m1 0h0m1 0h0m1 0h0m5 0h0m4 0h0m-79 1h0m2 0h0m3 0h0m3 0h0m3 0h0m1 0h0m30 0h0m5 0h0m1 0h0m3 0h0m1 0h0m1 0h0m1 0h0m1 0h0m1 0h0m2 0h0m1 0h0m3 0h0m1 0h0m1 0h0m2 0h0m1 0h0m1 0h0m1 0h0m2 0h0m1 0h0m1 0h0m2 0h0m-94 1h0m13 0h0m3 0h0m2 0h0m4 0h0m3 0h0m4 0h0m1 0h0m7 0h0m2 0h0m7 0h0m15 0h0m1 0h0m1 0h0m2 0h0m1 0h0m1 0h0m1 0h0m3 0h0m1 0h0m1 0h0m1 0h0m1 0h0m1 0h0m1 0h0m1 0h0m1 0h0m1 0h0m1 0h0m1 0h0m1 0h0m1 0h0m1 0h0m2 0h0m3 0h0m12 0h0m4 0h0m-102 1h0m7 0h0m9 0h0m7 0h0m3 0h0m3 0h0m29 0h0m2 0h0m7 0h0m2 0h0m1 0h0m1 0h0m1 0h0m1 0h0m2 0h0m1 0h0m2 0h0m1 0h0m1 0h0m1 0h0m2 0h0m1 0h0m1 0h0m1 0h0m7 0h0m4 0h0m4 0h0m-86 1h0m13 0h0m23 0h0m7 0h0m4 0h0m1 0h0m2 0h0m2 0h0m1 0h0m2 0h0m1 0h0m1 0h0m1 0h0m1 0h0m1 0h0m1 0h0m1 0h0m1 0h0m1 0h0m1 0h0m1 0h0m1 0h0m3 0h0m2 0h0m3 0h0m7 0h0m-92 1h0m2 0h0m2 0h0m12 0h0m5 0h0m6 0h0m32 0h0m1 0h0m1 0h0m2 0h0m1 0h0m2 0h0m1 0h0m1 0h0m1 0h0m1 0h0m1 0h0m1 0h0m2 0h0m1 0h0m1 0h0m1 0h0m1 0h0m2 0h0m2 0h0m2 0h0m6 0h0m4 0h0m-103 1h0m22 0h0m3 0h0m5 0h0m8 0h0m3 0h0m24 0h0m2 0h0m1 0h0m1 0h0m1 0h0m1 0h0m1 0h0m2 0h0m1 0h0m1 0h0m1 0h0m1 0h0m1 0h0m2 0h0m1 0h0m1 0h0m1 0h0m2 0h0m1 0h0m1 0h0m1 0h0m1 0h0m2 0h0m4 0h0m1 0h0m-96 1h0m3 0h0m4 0h0m1 0h0m2 0h0m2 0h0m3 0h0m2 0h0m11 0h0m6 0h0m14 0h0m4 0h0m6 0h0m1 0h0m3 0h0m1 0h0m2 0h0m1 0h0m1 0h0m2 0h0m1 0h0m1 0h0m1 0h0m1 0h0m1 0h0m1 0h0m1 0h0m1 0h0m1 0h0m1 0h0m1 0h0m1 0h0m2 0h0m1 0h0m1 0h0m1 0h0m1 0h0m1 0h0m4 0h0m2 0h0m-77 1h0m9 0h0m6 0h0m1 0h0m1 0h0m29 0h0m4 0h0m3 0h0m1 0h0m1 0h0m3 0h0m1 0h0m1 0h0m1 0h0m1 0h0m1 0h0m1 0h0m2 0h0m1 0h0m1 0h0m1 0h0m2 0h0m4 0h0m-84 1h0m3 0h0m5 0h0m8 0h0m33 0h0m4 0h0m4 0h0m1 0h0m4 0h0m5 0h0m2 0h0m1 0h0m1 0h0m2 0h0m1 0h0m2 0h0m3 0h0m2 0h0m3 0h0m1 0h0m3 0h0m2 0h0m7 0h0m-105 1h0m2 0h0m5 0h0m3 0h0m6 0h0m5 0h0m5 0h0m31 0h0m2 0h0m8 0h0m1 0h0m2 0h0m1 0h0m1 0h0m1 0h0m1 0h0m1 0h0m2 0h0m1 0h0m2 0h0m1 0h0m2 0h0m2 0h0m1 0h0m1 0h0m2 0h0m6 0h0m-100 1h0m9 0h0m2 0h0m2 0h0m4 0h0m1 0h0m2 0h0m7 0h0m39 0h0m3 0h0m2 0h0m4 0h0m1 0h0m1 0h0m1 0h0m1 0h0m1 0h0m2 0h0m1 0h0m1 0h0m1 0h0m2 0h0m1 0h0m1 0h0m2 0h0m7 0h0m4 0h0m12 0h0m11 0h0m-120 1h0m7 0h0m3 0h0m3 0h0m10 0h0m3 0h0m9 0h0m17 0h0m13 0h0m3 0h0m1 0h0m1 0h0m2 0h0m1 0h0m3 0h0m1 0h0m2 0h0m1 0h0m2 0h0m2 0h0m1 0h0m1 0h0m4 0h0m3 0h0m2 0h0m1 0h0m1 0h0m-95 1h0m8 0h0m3 0h0m6 0h0m38 0h0m10 0h0m1 0h0m1 0h0m1 0h0m5 0h0m2 0h0m1 0h0m1 0h0m1 0h0m1 0h0m1 0h0m2 0h0m2 0h0m1 0h0m2 0h0m-92 1h0m1 0h0m7 0h0m11 0h0m3 0h0m5 0h0m40 0h0m1 0h0m5 0h0m1 0h0m1 0h0m3 0h0m1 0h0m2 0h0m1 0h0m1 0h0m1 0h0m1 0h0m1 0h0m3 0h0m1 0h0m3 0h0m1 0h0m18 0h0m-108 1h0m3 0h0m8 0h0m6 0h0m13 0h0m33 0h0m5 0h0m2 0h0m2 0h0m2 0h0m3 0h0m1 0h0m2 0h0m1 0h0m1 0h0m1 0h0m3 0h0m4 0h0m3 0h0m7 0h0m-91 1h0m3 0h0m4 0h0m5 0h0m9 0h0m31 0h0m4 0h0m2 0h0m1 0h0m2 0h0m1 0h0m3 0h0m3 0h0m1 0h0m1 0h0m2 0h0m2 0h0m1 0h0m1 0h0m1 0h0m1 0h0m5 0h0m-87 1h0m5 0h0m10 0h0m13 0h0m23 0h0m2 0h0m3 0h0m8 0h0m1 0h0m1 0h0m1 0h0m1 0h0m2 0h0m1 0h0m1 0h0m1 0h0m1 0h0m3 0h0m8 0h0m1 0h0m4 0h0m3 0h0m15 0h0m-102 1h0m1 0h0m3 0h0m2 0h0m42 0h0m6 0h0m4 0h0m6 0h0m1 0h0m4 0h0m1 0h0m1 0h0m2 0h0m-84 1h0m8 0h0m21 0h0m35 0h0m3 0h0m3 0h0m2 0h0m1 0h0m2 0h0m1 0h0m2 0h0m1 0h0m2 0h0m1 0h0m5 0h0m1 0h0m2 0h0m7 0h0m-101 1h0m5 0h0m14 0h0m17 0h0m35 0h0m1 0h0m2 0h0m1 0h0m4 0h0m1 0h0m2 0h0m1 0h0m1 0h0m3 0h0m-88 1h0m21 0h0m44 0h0m14 0h0m2 0h0m1 0h0m5 0h0m1 0h0m5 0h0m-79 1h0m3 0h0m55 0h0m1 0h0m2 0h0m8 0h0m3 0h0m1 0h0m24 0h0m-93 1h0m4 0h0m3 0h0m27 0h0m16 0h0m1 0h0m1 0h0m2 0h0m1 0h0m2 0h0m1 0h0m1 0h0m3 0h0m1 0h0m2 0h0m4 0h0m1 0h0m6 0h0m-19 1h0m1 0h0m1 0h0m3 0h0m4 0h0m1 0h0m4 0h0m1 0h0m1 0h0m7 0h0m10 0h0m2 0h0m-105 1h0m68 0h0m4 0h0m3 0h0m1 0h0m4 0h0m4 0h0m-86 1h0m13 0h0m34 0h0m18 0h0m1 0h0m11 0h0m4 0h0m-72 1h0m1 0h0m55 0h0m9 0h0m1 0h0m8 0h0m4 0h0m9 0h0m-37 1h0m11 0h0m1 0h0m5 0h0m6 0h0m3 0h0m9 0h0m-92 1h0m65 0h0m1 0h0m2 0h0m13 0h0m4 0h0m-80 1h0m56 0h0m6 0h0m2 0h0m2 0h0m6 0h0m1 0h0m-44 1h0m38 0h0m20 0h0m-31 1h0m14 0h0m10 0h0m5 0h0m-30 1h0m12 0h0m-72 1h0m71 0h0" stroke="#000" stroke-width="1.6" stroke-linecap="square" fill="none"/>
<path d="M349 866h0m-27 3h0m27 1h0m12 1h0m-18 1h0m10 0h0m5 0h0m-18 1h0m20 0h0m-31 1h0m5 0h0m21 0h0m-27 1h0m5 0h0m9 0h0m-17 1h0m3 0h0m13 0h0m2 0h0m19 0h0m-28 1h0m10 0h0m4 0h0m1 0h0m10 0h0m-40 1h0m21 0h0m4 0h0m6 0h0m1 0h0m1 0h0m2 0h0m10 0h0m-43 1h0m3 0h0m2 0h0m1 0h0m8 0h0m2 0h0m2 0h0m2 0h0m5 0h0m1 0h0m3 0h0m13 0h0m-39 1h0m1 0h0m3 0h0m9 0h0m1 0h0m1 0h0m2 0h0m2 0h0m1 0h0m1 0h0m1 0h0m2 0h0m7 0h0m12 0h0m-50 1h0m3 0h0m12 0h0m1 0h0m3 0h0m1 0h0m3 0h0m3 0h0m1 0h0m1 0h0m2 0h0m1 0h0m2 0h0m5 0h0m1 0h0m4 0h0m3 0h0m13 0h0m37 0h0m-92 1h0m9 0h0m1 0h0m3 0h0m1 0h0m1 0h0m1 0h0m1 0h0m1 0h0m2 0h0m1 0h0m1 0h0m1 0h0m2 0h0m1 0h0m1 0h0m1 0h0m6 0h0m1 0h0m1 0h0m6 0h0m-43 1h0m7 0h0m1 0h0m4 0h0m1 0h0m2 0h0m1 0h0m1 0h0m1 0h0m2 0h0m1 0h0m1 0h0m2 0h0m1 0h0m1 0h0m2 0h0m1 0h0m1 0h0m4 0h0m2 0h0m11 0h0m58 0h0m1 0h0m-96 1h0m5 0h0m2 0h0m3 0h0m2 0h0m1 0h0m1 0h0m2 0h0m2 0h0m2 0h0m1 0h0m1 0h0m3 0h0m3 0h0m2 0h0m-39 1h0m6 0h0m2 0h0m3 0h0m1 0h0m1 0h0m2 0h0m4 0h0m1 0h0m1 0h0m1 0h0m2 0h0m1 0h0m1 0h0m1 0h0m2 0h0m3 0h0m2 0h0m3 0h0m2 0h0m2 0h0m-39 1h0m3 0h0m1 0h0m2 0h0m1 0h0m1 0h0m2 0h0m2 0h0m1 0h0m5 0h0m1 0h0m2 0h0m1 0h0m1 0h0m1 0h0m1 0h0m1 0h0m1 0h0m2 0h0m2 0h0m2 0h0m1 0h0m1 0h0m6 0h0m3 0h0m-45 1h0m4 0h0m7 0h0m1 0h0m1 0h0m1 0h0m1 0h0m2 0h0m2 0h0m1 0h0m2 0h0m1 0h0m1 0h0m2 0h0m1 0h0m2 0h0m1 0h0m1 0h0m1 0h0m3 0h0m1 0h0m1 0h0m3 0h0m1 0h0m1 0h0m94 0h0m-137 1h0m1 0h0m1 0h0m2 0h0m2 0h0m1 0h0m2 0h0m4 0h0m5 0h0m1 0h0m1 0h0m1 0h0m1 0h0m1 0h0m2 0h0m1 0h0m1 0h0m1 0h0m1 0h0m2 0h0m1 0h0m1 0h0m1 0h0m1 0h0m9 0h0m-37 1h0m1 0h0m3 0h0m2 0h0m1 0h0m1 0h0m2 0h0m3 0h0m1 0h0m1 0h0m1 0h0m1 0h0m1 0h0m2 0h0m1 0h0m1 0h0m1 0h0m1 0h0m1 0h0m1 0h0m2 0h0m1 0h0m2 0h0m1 0h0m2 0h0m5 0h0m-46 1h0m2 0h0m4 0h0m3 0h0m4 0h0m3 0h0m1 0h0m3 0h0m1 0h0m1 0h0m1 0h0m1 0h0m1 0h0m1 0h0m2 0h0m1 0h0m1 0h0m2 0h0m1 0h0m1 0h0m1 0h0m1 0h0m1 0h0m4 0h0m-38 1h0m3 0h0m1 0h0m2 0h0m2 0h0m2 0h0m1 0h0m2 0h0m1 0h0m1 0h0m1 0h0m2 0h0m2 0h0m1 0h0m1 0h0m3 0h0m1 0h0m1 0h0m1 0h0m1 0h0m1 0h0m1 0h0m2 0h0m3 0h0m1 0h0m2 0h0m1 0h0m6 0h0m-45 1h0m4 0h0m7 0h0m2 0h0m1 0h0m2 0h0m2 0h0m2 0h0m1 0h0m1 0h0m1 0h0m1 0h0m3 0h0m1 0h0m1 0h0m3 0h0m1 0h0m3 0h0m3 0h0m2 0h0m3 0h0m-44 1h0m10 0h0m3 0h0m1 0h0m1 0h0m2 0h0m2 0h0m2 0h0m1 0h0m1 0h0m1 0h0m2 0h0m1 0h0m1 0h0m1 0h0m1 0h0m2 0h0m2 0h0m5 0h0m2 0h0m12 0h0m-48 1h0m5 0h0m1 0h0m2 0h0m4 0h0m3 0h0m1 0h0m1 0h0m3 0h0m3 0h0m2 0h0m3 0h0m-36 1h0m5 0h0m12 0h0m2 0h0m1 0h0m2 0h0m2 0h0m1 0h0m1 0h0m2 0h0m1 0h0m4 0h0m1 0h0m1 0h0m2 0h0m4 0h0m1 0h0m-45 1h0m19 0h0m3 0h0m3 0h0m1 0h0m1 0h0m1 0h0m1 0h0m1 0h0m2 0h0m3 0h0m2 0h0m7 0h0m1 0h0m79 0h0m-115 1h0m4 0h0m3 0h0m4 0h0m1 0h0m1 0h0m1 0h0m2 0h0m3 0h0m1 0h0m1 0h0m1 0h0m3 0h0m1 0h0m4 0h0m-27 1h0m1 0h0m3 0h0m5 0h0m3 0h0m4 0h0m1 0h0m3 0h0m2 0h0m1 0h0m3 0h0m2 0h0m-40 1h0m6 0h0m4 0h0m3 0h0m1 0h0m2 0h0m8 0h0m1 0h0m6 0h0m3 0h0m2 0h0m6 0h0m10 0h0m-37 1h0m2 0h0m2 0h0m4 0h0m6 0h0m1 0h0m3 0h0m1 0h0m12 0h0m7 0h0m-38 1h0m3 0h0m3 0h0m4 0h0m2 0h0m8 0h0m1 0h0m1 0h0m3 0h0m7 0h0m-26 1h0m5 0h0m6 0h0m3 0h0m3 0h0m4 0h0m-32 1h0m2 0h0m1 0h0m10 0h0m2 0h0m2 0h0m1 0h0m1 0h0m3 0h0m5 0h0m1 0h0m4 0h0m1 0h0m-19 1h0m2 0h0m3 0h0m3 0h0m3 0h0m4 0h0m1 0h0m-25 1h0m3 0h0m17 0h0m3 0h0m4 0h0m5 0h0m-15 1h0m2 0h0m2 0h0m1 0h0m1 0h0m11 0h0m-25 1h0m7 0h0m2 0h0m8 0h0m2 0h0m5 0h0m-20 1h0m4 0h0m2 0h0m5 0h0m2 0h0m2 0h0m52 0h0m-74 1h0m9 0h0m2 0h0m1 0h0m11 0h0m-27 1h0m1 0h0m7 0h0m5 0h0m8 0h0m13 0h0m29 0h0m14 0h0m-67 1h0m1 0h0m11 0h0m4 0h0m-12 1h0m3 0h0m14 0h0m-16 1h0m7 0h0m65 0h0m-74 1h0m3 0h0m10 0h0m60 0h0m-79 1h0m1 0h0m12 0h0m3 0h0m-16 1h0m7 0h0m5 0h0m1 0h0m4 0h0m71 0h0m-102 1h0m16 0h0m6 0h0m-7 1h0m5 0h0m8 0h0m-8 1h0m13 0h0m-13 1h0m9 0h0m1 0h0m35 0h0m-50 1h0m3 0h0m10 0h0m7 0h0m-20 1h0m7 0h0m11 0h0m3 0h0m-1 3h0m-8 1h0m-2 1h0m3 0h0m-8 1h0m67 0h0m-16 1h0m5 0h0m3 0h0m-52 1h0m4 0h0m-4 2h0m33 0h0m2 0h0m-41 1h0m34 0h0m1 0h0m9 0h0m9 0h0m25 1h0m-54 1h0m7 0h0m26 0h0m-34 1h0m1 0h0m1 0h0m1 0h0m3 0h0m3 0h0m4 0h0m4 0h0m8 0h0m-25 1h0m4 0h0m17 0h0m10 0h0m17 0h0m-56 1h0m19 0h0m1 0h0m2 0h0m17 0h0m-35 1h0m12 0h0m4 0h0m3 0h0m2 0h0m8 0h0m25 0h0m-55 1h0m2 0h0m8 0h0m8 0h0m-11 1h0m8 0h0m12 0h0m5 0h0m1 0h0m6 0h0m-32 1h0m5 0h0m4 0h0m1 0h0m14 0h0m3 0h0m6 0h0m11 0h0m-46 1h0m4 0h0m2 0h0m3 0h0m2 0h0m8 0h0m4 0h0m-33 1h0m4 0h0m8 0h0m3 0h0m3 0h0m2 0h0m1 0h0m3 0h0m1 0h0m26 0h0m-51 1h0m8 0h0m2 0h0m2 0h0m2 0h0m1 0h0m7 0h0m2 0h0m6 0h0m2 0h0m5 0h0m2 0h0m9 0h0m10 0h0m-58 1h0m14 0h0m2 0h0m10 0h0m3 0h0m11 0h0m-31 1h0m1 0h0m5 0h0m4 0h0m15 0h0m14 0h0m-48 1h0m3 0h0m3 0h0m2 0h0m4 0h0m1 0h0m2 0h0m3 0h0m7 0h0m8 0h0m4 0h0m1 0h0m7 0h0m-61 1h0m22 0h0m5 0h0m2 0h0m3 0h0m2 0h0m18 0h0m3 0h0m11 0h0m2 0h0m5 0h0m-61 1h0m1 0h0m2 0h0m4 0h0m2 0h0m3 0h0m2 0h0m8 0h0m2 0h0m4 0h0m10 0h0m4 0h0m6 0h0m11 0h0m-57 1h0m1 0h0m5 0h0m2 0h0m3 0h0m7 0h0m2 0h0m2 0h0m1 0h0m3 0h0m6 0h0m7 0h0m5 0h0m2 0h0m-46 1h0m1 0h0m3 0h0m4 0h0m2 0h0m6 0h0m1 0h0m1 0h0m10 0h0m10 0h0m9 0h0m6 0h0m1 0h0m2 0h0m-61 1h0m4 0h0m2 0h0m5 0h0m4 0h0m2 0h0m14 0h0m1 0h0m11 0h0m4 0h0m-48 1h0m1 0h0m1 0h0m5 0h0m3 0h0m1 0h0m3 0h0m2 0h0m2 0h0m2 0h0m1 0h0m1 0h0m4 0h0m7 0h0m6 0h0m4 0h0m1 0h0m3 0h0m6 0h0m1 0h0m11 0h0m-62 1h0m5 0h0m2 0h0m2 0h0m3 0h0m1 0h0m3 0h0m2 0h0m4 0h0m6 0h0m2 0h0m1 0h0m3 0h0m7 0h0m16 0h0m3 0h0m-73 1h0m7 0h0m1 0h0m2 0h0m2 0h0m5 0h0m1 0h0m1 0h0m1 0h0m6 0h0m2 0h0m1 0h0m1 0h0m6 0h0m2 0h0m4 0h0m3 0h0m6 0h0m1 0h0m4 0h0m18 0h0m1 0h0m5 0h0m-74 1h0m1 0h0m6 0h0m6 0h0m2 0h0m1 0h0m1 0h0m1 0h0m3 0h0m1 0h0m1 0h0m4 0h0m7 0h0m4 0h0m8 0h0m3 0h0m3 0h0m3 0h0m4 0h0m-69 1h0m14 0h0m3 0h0m1 0h0m1 0h0m2 0h0m1 0h0m1 0h0m1 0h0m1 0h0m1 0h0m1 0h0m1 0h0m3 0h0m3 0h0m1 0h0m2 0h0m6 0h0m1 0h0m3 0h0m1 0h0m3 0h0m4 0h0m1 0h0m27 0h0m-93 1h0m5 0h0m13 0h0m9 0h0m2 0h0m5 0h0m3 0h0m1 0h0m1 0h0m7 0h0m3 0h0m1 0h0m3 0h0m1 0h0m6 0h0m4 0h0m21 0h0m-78 1h0m1 0h0m6 0h0m1 0h0m1 0h0m5 0h0m2 0h0m4 0h0m7 0h0m1 0h0m2 0h0m7 0h0m1 0h0m2 0h0m1 0h0m2 0h0m1 0h0m3 0h0m1 0h0m8 0h0m1 0h0m9 0h0m3 0h0m5 0h0m1 0h0m2 0h0m-82 1h0m8 0h0m6 0h0m3 0h0m2 0h0m1 0h0m2 0h0m4 0h0m2 0h0m1 0h0m1 0h0m4 0h0m1 0h0m1 0h0m3 0h0m4 0h0m2 0h0m11 0h0m1 0h0m12 0h0m7 0h0m6 0h0m-83 1h0m8 0h0m4 0h0m4 0h0m1 0h0m6 0h0m1 0h0m1 0h0m2 0h0m1 0h0m1 0h0m1 0h0m1 0h0m1 0h0m1 0h0m1 0h0m1 0h0m1 0h0m2 0h0m2 0h0m3 0h0m1 0h0m14 0h0m1 0h0m5 0h0m4 0h0m8 0h0m2 0h0m15 0h0m-90 1h0m9 0h0m1 0h0m1 0h0m1 0h0m2 0h0m1 0h0m1 0h0m2 0h0m1 0h0m2 0h0m2 0h0m1 0h0m2 0h0m1 0h0m3 0h0m1 0h0m2 0h0m1 0h0m2 0h0m2 0h0m1 0h0m1 0h0m2 0h0m9 0h0m7 0h0m3 0h0m6 0h0m7 0h0m18 0h0m-93 1h0m5 0h0m3 0h0m1 0h0m1 0h0m1 0h0m1 0h0m2 0h0m2 0h0m2 0h0m3 0h0m2 0h0m1 0h0m1 0h0m2 0h0m1 0h0m2 0h0m1 0h0m5 0h0m1 0h0m2 0h0m8 0h0m4 0h0m2 0h0m5 0h0m9 0h0m5 0h0m6 0h0m-73 1h0m2 0h0m1 0h0m2 0h0m1 0h0m1 0h0m1 0h0m4 0h0m3 0h0m1 0h0m2 0h0m1 0h0m1 0h0m1 0h0m1 0h0m1 0h0m2 0h0m2 0h0m9 0h0m2 0h0m20 0h0m-62 1h0m1 0h0m1 0h0m2 0h0m1 0h0m11 0h0m1 0h0m1 0h0m1 0h0m1 0h0m1 0h0m1 0h0m1 0h0m1 0h0m1 0h0m1 0h0m1 0h0m2 0h0m1 0h0m3 0h0m1 0h0m2 0h0m3 0h0m2 0h0m1 0h0m12 0h0m20 0h0m-78 1h0m7 0h0m1 0h0m1 0h0m5 0h0m1 0h0m1 0h0m1 0h0m1 0h0m3 0h0m1 0h0m1 0h0m2 0h0m2 0h0m1 0h0m1 0h0m1 0h0m1 0h0m1 0h0m2 0h0m2 0h0m1 0h0m1 0h0m1 0h0m3 0h0m42 0h0m-82 1h0m1 0h0m2 0h0m2 0h0m2 0h0m3 0h0m1 0h0m1 0h0m1 0h0m1 0h0m1 0h0m1 0h0m1 0h0m1 0h0m1 0h0m1 0h0m1 0h0m1 0h0m2 0h0m3 0h0m1 0h0m3 0h0m2 0h0m28 0h0m3 0h0m5 0h0m-83 1h0m5 0h0m1 0h0m1 0h0m6 0h0m2 0h0m5 0h0m1 0h0m2 0h0m1 0h0m1 0h0m2 0h0m1 0h0m1 0h0m1 0h0m1 0h0m1 0h0m2 0h0m1 0h0m1 0h0m1 0h0m2 0h0m1 0h0m2 0h0m1 0h0m1 0h0m1 0h0m1 0h0m2 0h0m6 0h0m15 0h0m1 0h0m2 0h0m3 0h0m8 0h0m-72 1h0m2 0h0m1 0h0m1 0h0m1 0h0m3 0h0m2 0h0m1 0h0m1 0h0m1 0h0m1 0h0m1 0h0m1 0h0m1 0h0m1 0h0m1 0h0m1 0h0m1 0h0m1 0h0m1 0h0m1 0h0m1 0h0m1 0h0m1 0h0m1 0h0m1 0h0m2 0h0m2 0h0m1 0h0m1 0h0m3 0h0m1 0h0m1 0h0m1 0h0m1 0h0m1 0h0m1 0h0m7 0h0m4 0h0m2 0h0m-55 1h0m1 0h0m1 0h0m2 0h0m3 0h0m2 0h0m1 0h0m1 0h0m1 0h0m1 0h0m1 0h0m1 0h0m1 0h0m1 0h0m1 0h0m1 0h0m1 0h0m1 0h0m2 0h0m1 0h0m1 0h0m1 0h0m1 0h0m1 0h0m1 0h0m1 0h0m1 0h0m4 0h0m2 0h0m2 0h0m14 0h0m12 0h0m4 0h0m9 0h0m10 0h0m-87 1h0m2 0h0m1 0h0m1 0h0m1 0h0m1 0h0m2 0h0m2 0h0m1 0h0m1 0h0m1 0h0m1 0h0m1 0h0m1 0h0m1 0h0m1 0h0m1 0h0m1 0h0m1 0h0m1 0h0m1 0h0m1 0h0m2 0h0m1 0h0m1 0h0m2 0h0m3 0h0m2 0h0m2 0h0m5 0h0m11 0h0m15 0h0m22 0h0m-94 1h0m2 0h0m1 0h0m2 0h0m3 0h0m1 0h0m1 0h0m3 0h0m1 0h0m1 0h0m1 0h0m2 0h0m1 0h0m1 0h0m1 0h0m2 0h0m1 0h0m1 0h0m1 0h0m1 0h0m1 0h0m1 0h0m2 0h0m2 0h0m1 0h0m3 0h0m1 0h0m4 0h0m2 0h0m1 0h0m10 0h0m14 0h0m3 0h0m2 0h0m6 0h0m21 0h0m-100 1h0m3 0h0m1 0h0m1 0h0m3 0h0m2 0h0m1 0h0m2 0h0m1 0h0m1 0h0m1 0h0m1 0h0m1 0h0m1 0h0m2 0h0m1 0h0m1 0h0m1 0h0m1 0h0m1 0h0m2 0h0m1 0h0m1 0h0m1 0h0m1 0h0m1 0h0m2 0h0m1 0h0m3 0h0m1 0h0m2 0h0m23 0h0m3 0h0m7 0h0m5 0h0m-79 1h0m3 0h0m4 0h0m1 0h0m2 0h0m1 0h0m1 0h0m1 0h0m1 0h0m1 0h0m1 0h0m1 0h0m1 0h0m1 0h0m1 0h0m1 0h0m1 0h0m2 0h0m1 0h0m1 0h0m1 0h0m1 0h0m1 0h0m1 0h0m4 0h0m3 0h0m3 0h0m2 0h0m20 0h0m2 0h0m9 0h0m19 0h0m-102 1h0m2 0h0m5 0h0m3 0h0m2 0h0m2 0h0m1 0h0m2 0h0m1 0h0m1 0h0m1 0h0m1 0h0m1 0h0m1 0h0m2 0h0m1 0h0m1 0h0m1 0h0m1 0h0m1 0h0m1 0h0m1 0h0m1 0h0m2 0h0m1 0h0m1 0h0m1 0h0m1 0h0m1 0h0m2 0h0m1 0h0m1 0h0m1 0h0m1 0h0m1 0h0m13 0h0m1 0h0m16 0h0m1 0h0m-72 1h0m1 0h0m1 0h0m2 0h0m1 0h0m1 0h0m2 0h0m1 0h0m1 0h0m1 0h0m1 0h0m1 0h0m1 0h0m1 0h0m1 0h0m1 0h0m1 0h0m1 0h0m1 0h0m1 0h0m1 0h0m1 0h0m1 0h0m1 0h0m1 0h0m1 0h0m1 0h0m1 0h0m1 0h0m1 0h0m5 0h0m2 0h0m1 0h0m1 0h0m50 0h0m4 0h0m-98 1h0m2 0h0m4 0h0m4 0h0m1 0h0m1 0h0m2 0h0m1 0h0m2 0h0m1 0h0m2 0h0m1 0h0m1 0h0m1 0h0m1 0h0m1 0h0m1 0h0m1 0h0m1 0h0m1 0h0m1 0h0m1 0h0m1 0h0m1 0h0m1 0h0m1 0h0m1 0h0m1 0h0m1 0h0m2 0h0m1 0h0m1 0h0m3 0h0m2 0h0m2 0h0m4 0h0m5 0h0m23 0h0m11 0h0m-94 1h0m5 0h0m3 0h0m5 0h0m1 0h0m1 0h0m1 0h0m1 0h0m1 0h0m1 0h0m1 0h0m1 0h0m1 0h0m1 0h0m1 0h0m1 0h0m1 0h0m1 0h0m1 0h0m1 0h0m1 0h0m1 0h0m1 0h0m1 0h0m1 0h0m1 0h0m1 0h0m1 0h0m1 0h0m1 0h0m1 0h0m1 0h0m2 0h0m3 0h0m-41 1h0m4 0h0m2 0h0m1 0h0m1 0h0m1 0h0m1 0h0m2 0h0m1 0h0m1 0h0m1 0h0m1 0h0m1 0h0m2 0h0m1 0h0m1 0h0m1 0h0m1 0h0m1 0h0m1 0h0m1 0h0m1 0h0m1 0h0m1 0h0m1 0h0m1 0h0m1 0h0m1 0h0m1 0h0m1 0h0m6 0h0m4 0h0m28 0h0m6 0h0m6 0h0m-84 1h0m1 0h0m1 0h0m3 0h0m1 0h0m1 0h0m1 0h0m1 0h0m1 0h0m1 0h0m2 0h0m2 0h0m1 0h0m1 0h0m1 0h0m1 0h0m1 0h0m1 0h0m1 0h0m1 0h0m1 0h0m1 0h0m1 0h0m1 0h0m1 0h0m4 0h0m2 0h0m1 0h0m1 0h0m3 0h0m1 0h0m2 0h0m2 0h0m3 0h0m23 0h0m5 0h0m-79 1h0m2 0h0m1 0h0m1 0h0m2 0h0m1 0h0m1 0h0m2 0h0m2 0h0m1 0h0m1 0h0m1 0h0m1 0h0m2 0h0m1 0h0m1 0h0m1 0h0m1 0h0m1 0h0m1 0h0m1 0h0m1 0h0m2 0h0m1 0h0m1 0h0m1 0h0m1 0h0m1 0h0m1 0h0m1 0h0m1 0h0m1 0h0m1 0h0m1 0h0m2 0h0m7 0h0m27 0h0m11 0h0m11 0h0m1 0h0m-96 1h0m1 0h0m4 0h0m3 0h0m2 0h0m1 0h0m1 0h0m1 0h0m1 0h0m1 0h0m1 0h0m1 0h0m1 0h0m1 0h0m1 0h0m1 0h0m2 0h0m1 0h0m1 0h0m2 0h0m1 0h0m1 0h0m1 0h0m1 0h0m1 0h0m1 0h0m2 0h0m3 0h0m1 0h0m2 0h0m3 0h0m28 0h0m20 0h0m-90 1h0m1 0h0m1 0h0m5 0h0m1 0h0m2 0h0m1 0h0m1 0h0m1 0h0m2 0h0m1 0h0m1 0h0m1 0h0m1 0h0m1 0h0m1 0h0m1 0h0m1 0h0m1 0h0m1 0h0m2 0h0m1 0h0m1 0h0m1 0h0m1 0h0m4 0h0m2 0h0m43 0h0m-83 1h0m4 0h0m2 0h0m2 0h0m1 0h0m1 0h0m1 0h0m1 0h0m1 0h0m2 0h0m1 0h0m1 0h0m1 0h0m1 0h0m1 0h0m1 0h0m1 0h0m1 0h0m1 0h0m1 0h0m1 0h0m1 0h0m1 0h0m1 0h0m1 0h0m1 0h0m1 0h0m1 0h0m1 0h0m3 0h0m2 0h0m2 0h0m4 0h0m1 0h0m-48 1h0m5 0h0m1 0h0m3 0h0m3 0h0m1 0h0m1 0h0m1 0h0m2 0h0m1 0h0m1 0h0m1 0h0m1 0h0m1 0h0m1 0h0m1 0h0m1 0h0m1 0h0m1 0h0m1 0h0m2 0h0m1 0h0m1 0h0m1 0h0m1 0h0m6 0h0m2 0h0m22 0h0m3 0h0m7 0h0m8 0h0m7 0h0m-93 1h0m5 0h0m1 0h0m1 0h0m3 0h0m1 0h0m2 0h0m1 0h0m2 0h0m2 0h0m1 0h0m1 0h0m1 0h0m1 0h0m1 0h0m1 0h0m2 0h0m1 0h0m1 0h0m2 0h0m1 0h0m1 0h0m2 0h0m1 0h0m1 0h0m2 0h0m1 0h0m1 0h0m1 0h0m5 0h0m25 0h0m28 0h0m-95 1h0m1 0h0m2 0h0m2 0h0m4 0h0m1 0h0m2 0h0m1 0h0m1 0h0m1 0h0m1 0h0m2 0h0m1 0h0m1 0h0m1 0h0m1 0h0m1 0h0m1 0h0m1 0h0m1 0h0m1 0h0m1 0h0m1 0h0m1 0h0m2 0h0m1 0h0m2 0h0m4 0h0m1 0h0m5 0h0m19 0h0m15 0h0m-82 1h0m7 0h0m1 0h0m2 0h0m1 0h0m3 0h0m1 0h0m1 0h0m1 0h0m1 0h0m1 0h0m1 0h0m1 0h0m1 0h0m2 0h0m1 0h0m1 0h0m1 0h0m1 0h0m2 0h0m1 0h0m1 0h0m2 0h0m1 0h0m1 0h0m2 0h0m1 0h0m1 0h0m1 0h0m2 0h0m4 0h0m8 0h0m-47 1h0m2 0h0m1 0h0m1 0h0m1 0h0m3 0h0m2 0h0m1 0h0m1 0h0m1 0h0m1 0h0m2 0h0m2 0h0m1 0h0m2 0h0m1 0h0m1 0h0m1 0h0m1 0h0m1 0h0m1 0h0m2 0h0m1 0h0m3 0h0m1 0h0m1 0h0m2 0h0m3 0h0m3 0h0m-47 1h0m1 0h0m4 0h0m1 0h0m3 0h0m1 0h0m4 0h0m1 0h0m1 0h0m1 0h0m1 0h0m2 0h0m2 0h0m1 0h0m1 0h0m1 0h0m1 0h0m2 0h0m3 0h0m3 0h0m5 0h0m1 0h0m1 0h0m23 0h0m16 0h0m-73 1h0m3 0h0m1 0h0m3 0h0m1 0h0m1 0h0m2 0h0m1 0h0m1 0h0m1 0h0m2 0h0m2 0h0m1 0h0m1 0h0m1 0h0m2 0h0m2 0h0m1 0h0m4 0h0m41 0h0m9 0h0m-86 1h0m5 0h0m4 0h0m4 0h0m1 0h0m1 0h0m1 0h0m2 0h0m3 0h0m1 0h0m1 0h0m3 0h0m1 0h0m5 0h0m2 0h0m2 0h0m1 0h0m4 0h0m3 0h0m1 0h0m4 0h0m26 0h0m-74 1h0m9 0h0m3 0h0m1 0h0m1 0h0m2 0h0m1 0h0m1 0h0m1 0h0m2 0h0m3 0h0m3 0h0m1 0h0m1 0h0m2 0h0m9 0h0m29 0h0m-76 1h0m6 0h0m2 0h0m3 0h0m1 0h0m1 0h0m2 0h0m2 0h0m2 0h0m1 0h0m4 0h0m1 0h0m2 0h0m1 0h0m1 0h0m1 0h0m1 0h0m1 0h0m6 0h0m5 0h0m1 0h0m18 0h0m36 0h0m-94 1h0m3 0h0m2 0h0m1 0h0m1 0h0m2 0h0m4 0h0m4 0h0m1 0h0m1 0h0m1 0h0m1 0h0m1 0h0m1 0h0m1 0h0m3 0h0m1 0h0m3 0h0m29 0h0m-63 1h0m6 0h0m5 0h0m1 0h0m1 0h0m2 0h0m1 0h0m1 0h0m3 0h0m1 0h0m2 0h0m2 0h0m2 0h0m4 0h0m4 0h0m1 0h0m1 0h0m1 0h0m6 0h0m7 0h0m-51 1h0m2 0h0m7 0h0m1 0h0m3 0h0m3 0h0m5 0h0m5 0h0m1 0h0m2 0h0m2 0h0m2 0h0m5 0h0m1 0h0m-31 1h0m3 0h0m2 0h0m2 0h0m2 0h0m2 0h0m4 0h0m2 0h0m2 0h0" stroke="#000" stroke-width="1.6" stroke-linecap="square" fill="none"/>
<rect x="49.5" y="43.5" width="184.50" height="179.00" fill="none" stroke="#222" stroke-width="1.5"/>
<path d="M49.50 222.50v3.2M63.39 222.50v1.6M71.51 222.50v1.6M77.27 222.50v1.6M81.74 222.50v1.6M85.39 222.50v1.6M88.48 222.50v1.6M91.16 222.50v1.6M93.51 222.50v1.6M95.62 222.50v3.2M109.51 222.50v1.6M117.63 222.50v1.6M123.40 222.50v1.6M127.86 222.50v1.6M131.52 222.50v1.6M134.61 222.50v1.6M137.28 222.50v1.6M139.64 222.50v1.6M141.75 222.50v3.2M155.64 222.50v1.6M163.76 222.50v1.6M169.52 222.50v1.6M173.99 222.50v1.6M177.64 222.50v1.6M180.73 222.50v1.6M183.41 222.50v1.6M185.76 222.50v1.6M187.88 222.50v3.2M201.76 222.50v1.6M209.88 222.50v1.6M215.65 222.50v1.6M220.11 222.50v1.6M223.77 222.50v1.6M226.86 222.50v1.6M229.53 222.50v1.6M231.89 222.50v1.6M234.00 222.50v3.2" stroke="#111" stroke-width="1.1" fill="none"/>
<g transform="translate(48.70,237.40) scale(0.9600,1)" stroke="#111" stroke-width="0.35"><text x="7.23" y="0" font-size="13">0</text><path d="M3.27 0.00L3.27 -7.85L1.25 -6.41L1.25 -7.49L3.36 -8.94L4.42 -8.94L4.42 0.00Z"/></g>
<g transform="translate(63.50,232.90)"><text x="0.00" y="0" font-size="7.6" font-weight="bold">0</text></g>
<g transform="translate(94.83,237.40) scale(0.9600,1)" stroke="#111" stroke-width="0.35"><text x="7.23" y="0" font-size="13">0</text><path d="M3.27 0.00L3.27 -7.85L1.25 -6.41L1.25 -7.49L3.36 -8.94L4.42 -8.94L4.42 0.00Z"/></g>
<g transform="translate(109.62,232.90)"><path d="M1.77 0.00L1.77 -4.34L0.52 -3.56L0.52 -4.38L1.83 -5.23L2.82 -5.23L2.82 0.00Z"/></g>
<g transform="translate(140.95,237.40) scale(0.9600,1)" stroke="#111" stroke-width="0.35"><text x="7.23" y="0" font-size="13">0</text><path d="M3.27 0.00L3.27 -7.85L1.25 -6.41L1.25 -7.49L3.36 -8.94L4.42 -8.94L4.42 0.00Z"/></g>
<g transform="translate(155.75,232.90)"><text x="0.00" y="0" font-size="7.6" font-weight="bold">2</text></g>
<g transform="translate(187.07,237.40) scale(0.9600,1)" stroke="#111" stroke-width="0.35"><text x="7.23" y="0" font-size="13">0</text><path d="M3.27 0.00L3.27 -7.85L1.25 -6.41L1.25 -7.49L3.36 -8.94L4.42 -8.94L4.42 0.00Z"/></g>
<g transform="translate(201.88,232.90)"><text x="0.00" y="0" font-size="7.6" font-weight="bold">3</text></g>
<g transform="translate(233.20,237.40) scale(0.9600,1)" stroke="#111" stroke-width="0.35"><text x="7.23" y="0" font-size="13">0</text><path d="M3.27 0.00L3.27 -7.85L1.25 -6.41L1.25 -7.49L3.36 -8.94L4.42 -8.94L4.42 0.00Z"/></g>
<path d="M249.90 227.40L250.90 231.10" stroke="#111" stroke-width="1.7" stroke-linecap="round"/>
<path d="M49.50 222.50h-2.3M49.50 215.52h-2.3M49.50 208.55h-2.3M49.50 201.57h-2.3M49.50 194.60h-2.3M49.50 187.62h-2.3M49.50 180.64h-2.3M49.50 173.67h-2.3M49.50 166.69h-2.3M49.50 159.72h-2.3M49.50 152.74h-2.3M49.50 145.76h-2.3M49.50 138.79h-2.3M49.50 131.81h-2.3M49.50 124.84h-2.3M49.50 117.86h-2.3M49.50 110.88h-2.3M49.50 103.91h-2.3M49.50 96.93h-2.3M49.50 89.96h-2.3M49.50 82.98h-2.3M49.50 76.00h-2.3M49.50 69.03h-2.3M49.50 62.05h-2.3M49.50 55.08h-2.3M49.50 48.10h-2.3" stroke="#111" stroke-width="1.2" fill="none"/>
<g transform="translate(43.70,224.10) rotate(-90)" stroke="#111" stroke-width="0.35"><text x="0.00" y="0" font-size="12.4">0</text></g>
<g transform="translate(43.70,79.10) rotate(-90) scale(1.0582,1)" stroke="#111" stroke-width="0.35"><text x="7.01 14.02 21.02" y="0" font-size="12.6">023</text><path d="M3.17 0.00L3.17 -7.61L1.21 -6.21L1.21 -7.26L3.26 -8.67L4.28 -8.67L4.28 0.00Z"/></g>
<rect x="135.5" y="60.2" width="84.90" height="156.60" fill="none" stroke="#111" stroke-width="1.2"/>
<rect x="314.5" y="43.5" width="185.50" height="179.00" fill="none" stroke="#222" stroke-width="1.5"/>
<path d="M314.50 222.50v3.2M328.46 222.50v1.6M336.63 222.50v1.6M342.42 222.50v1.6M346.91 222.50v1.6M350.59 222.50v1.6M353.69 222.50v1.6M356.38 222.50v1.6M358.75 222.50v1.6M360.88 222.50v3.2M374.84 222.50v1.6M383.00 222.50v1.6M388.80 222.50v1.6M393.29 222.50v1.6M396.96 222.50v1.6M400.07 222.50v1.6M402.76 222.50v1.6M405.13 222.50v1.6M407.25 222.50v3.2M421.21 222.50v1.6M429.38 222.50v1.6M435.17 222.50v1.6M439.66 222.50v1.6M443.34 222.50v1.6M446.44 222.50v1.6M449.13 222.50v1.6M451.50 222.50v1.6M453.62 222.50v3.2M467.59 222.50v1.6M475.75 222.50v1.6M481.55 222.50v1.6M486.04 222.50v1.6M489.71 222.50v1.6M492.82 222.50v1.6M495.51 222.50v1.6M497.88 222.50v1.6M500.00 222.50v3.2" stroke="#111" stroke-width="1.1" fill="none"/>
<g transform="translate(313.70,237.40) scale(0.9600,1)" stroke="#111" stroke-width="0.35"><text x="7.23" y="0" font-size="13">0</text><path d="M3.27 0.00L3.27 -7.85L1.25 -6.41L1.25 -7.49L3.36 -8.94L4.42 -8.94L4.42 0.00Z"/></g>
<g transform="translate(328.50,232.90)"><text x="0.00" y="0" font-size="7.6" font-weight="bold">0</text></g>
<g transform="translate(360.07,237.40) scale(0.9600,1)" stroke="#111" stroke-width="0.35"><text x="7.23" y="0" font-size="13">0</text><path d="M3.27 0.00L3.27 -7.85L1.25 -6.41L1.25 -7.49L3.36 -8.94L4.42 -8.94L4.42 0.00Z"/></g>
<g transform="translate(374.88,232.90)"><path d="M1.77 0.00L1.77 -4.34L0.52 -3.56L0.52 -4.38L1.83 -5.23L2.82 -5.23L2.82 0.00Z"/></g>
<g transform="translate(406.45,237.40) scale(0.9600,1)" stroke="#111" stroke-width="0.35"><text x="7.23" y="0" font-size="13">0</text><path d="M3.27 0.00L3.27 -7.85L1.25 -6.41L1.25 -7.49L3.36 -8.94L4.42 -8.94L4.42 0.00Z"/></g>
<g transform="translate(421.25,232.90)"><text x="0.00" y="0" font-size="7.6" font-weight="bold">2</text></g>
<g transform="translate(452.82,237.40) scale(0.9600,1)" stroke="#111" stroke-width="0.35"><text x="7.23" y="0" font-size="13">0</text><path d="M3.27 0.00L3.27 -7.85L1.25 -6.41L1.25 -7.49L3.36 -8.94L4.42 -8.94L4.42 0.00Z"/></g>
<g transform="translate(467.62,232.90)"><text x="0.00" y="0" font-size="7.6" font-weight="bold">3</text></g>
<g transform="translate(499.20,237.40) scale(0.9600,1)" stroke="#111" stroke-width="0.35"><text x="7.23" y="0" font-size="13">0</text><path d="M3.27 0.00L3.27 -7.85L1.25 -6.41L1.25 -7.49L3.36 -8.94L4.42 -8.94L4.42 0.00Z"/></g>
<path d="M515.90 227.40L516.90 231.10" stroke="#111" stroke-width="1.7" stroke-linecap="round"/>
<path d="M314.50 222.50h-2.3M314.50 215.52h-2.3M314.50 208.55h-2.3M314.50 201.57h-2.3M314.50 194.60h-2.3M314.50 187.62h-2.3M314.50 180.64h-2.3M314.50 173.67h-2.3M314.50 166.69h-2.3M314.50 159.72h-2.3M314.50 152.74h-2.3M314.50 145.76h-2.3M314.50 138.79h-2.3M314.50 131.81h-2.3M314.50 124.84h-2.3M314.50 117.86h-2.3M314.50 110.88h-2.3M314.50 103.91h-2.3M314.50 96.93h-2.3M314.50 89.96h-2.3M314.50 82.98h-2.3M314.50 76.00h-2.3M314.50 69.03h-2.3M314.50 62.05h-2.3M314.50 55.08h-2.3M314.50 48.10h-2.3" stroke="#111" stroke-width="1.2" fill="none"/>
<g transform="translate(308.70,224.10) rotate(-90)" stroke="#111" stroke-width="0.35"><text x="0.00" y="0" font-size="12.4">0</text></g>
<g transform="translate(308.70,79.10) rotate(-90) scale(1.0582,1)" stroke="#111" stroke-width="0.35"><text x="7.01 14.02 21.02" y="0" font-size="12.6">023</text><path d="M3.17 0.00L3.17 -7.61L1.21 -6.21L1.21 -7.26L3.26 -8.67L4.28 -8.67L4.28 0.00Z"/></g>
<rect x="400.8" y="59.8" width="85.80" height="156.60" fill="none" stroke="#111" stroke-width="1.2"/>
<rect x="49.5" y="298.5" width="184.50" height="179.50" fill="none" stroke="#222" stroke-width="1.5"/>
<path d="M49.50 478.00v3.2M63.39 478.00v1.6M71.51 478.00v1.6M77.27 478.00v1.6M81.74 478.00v1.6M85.39 478.00v1.6M88.48 478.00v1.6M91.16 478.00v1.6M93.51 478.00v1.6M95.62 478.00v3.2M109.51 478.00v1.6M117.63 478.00v1.6M123.40 478.00v1.6M127.86 478.00v1.6M131.52 478.00v1.6M134.61 478.00v1.6M137.28 478.00v1.6M139.64 478.00v1.6M141.75 478.00v3.2M155.64 478.00v1.6M163.76 478.00v1.6M169.52 478.00v1.6M173.99 478.00v1.6M177.64 478.00v1.6M180.73 478.00v1.6M183.41 478.00v1.6M185.76 478.00v1.6M187.88 478.00v3.2M201.76 478.00v1.6M209.88 478.00v1.6M215.65 478.00v1.6M220.11 478.00v1.6M223.77 478.00v1.6M226.86 478.00v1.6M229.53 478.00v1.6M231.89 478.00v1.6M234.00 478.00v3.2" stroke="#111" stroke-width="1.1" fill="none"/>
<g transform="translate(48.70,492.90) scale(0.9600,1)" stroke="#111" stroke-width="0.35"><text x="7.23" y="0" font-size="13">0</text><path d="M3.27 0.00L3.27 -7.85L1.25 -6.41L1.25 -7.49L3.36 -8.94L4.42 -8.94L4.42 0.00Z"/></g>
<g transform="translate(63.50,488.40)"><text x="0.00" y="0" font-size="7.6" font-weight="bold">0</text></g>
<g transform="translate(94.83,492.90) scale(0.9600,1)" stroke="#111" stroke-width="0.35"><text x="7.23" y="0" font-size="13">0</text><path d="M3.27 0.00L3.27 -7.85L1.25 -6.41L1.25 -7.49L3.36 -8.94L4.42 -8.94L4.42 0.00Z"/></g>
<g transform="translate(109.62,488.40)"><path d="M1.77 0.00L1.77 -4.34L0.52 -3.56L0.52 -4.38L1.83 -5.23L2.82 -5.23L2.82 0.00Z"/></g>
<g transform="translate(140.95,492.90) scale(0.9600,1)" stroke="#111" stroke-width="0.35"><text x="7.23" y="0" font-size="13">0</text><path d="M3.27 0.00L3.27 -7.85L1.25 -6.41L1.25 -7.49L3.36 -8.94L4.42 -8.94L4.42 0.00Z"/></g>
<g transform="translate(155.75,488.40)"><text x="0.00" y="0" font-size="7.6" font-weight="bold">2</text></g>
<g transform="translate(187.07,492.90) scale(0.9600,1)" stroke="#111" stroke-width="0.35"><text x="7.23" y="0" font-size="13">0</text><path d="M3.27 0.00L3.27 -7.85L1.25 -6.41L1.25 -7.49L3.36 -8.94L4.42 -8.94L4.42 0.00Z"/></g>
<g transform="translate(201.88,488.40)"><text x="0.00" y="0" font-size="7.6" font-weight="bold">3</text></g>
<g transform="translate(233.20,492.90) scale(0.9600,1)" stroke="#111" stroke-width="0.35"><text x="7.23" y="0" font-size="13">0</text><path d="M3.27 0.00L3.27 -7.85L1.25 -6.41L1.25 -7.49L3.36 -8.94L4.42 -8.94L4.42 0.00Z"/></g>
<path d="M249.90 482.90L250.90 486.60" stroke="#111" stroke-width="1.7" stroke-linecap="round"/>
<path d="M49.50 478.00h-3.0M49.50 464.49h-1.6M49.50 456.59h-1.6M49.50 450.98h-1.6M49.50 446.63h-1.6M49.50 443.08h-1.6M49.50 440.08h-1.6M49.50 437.47h-1.6M49.50 435.18h-1.6M49.50 433.12h-3.0M49.50 419.62h-1.6M49.50 411.71h-1.6M49.50 406.11h-1.6M49.50 401.76h-1.6M49.50 398.21h-1.6M49.50 395.20h-1.6M49.50 392.60h-1.6M49.50 390.30h-1.6M49.50 388.25h-3.0M49.50 374.74h-1.6M49.50 366.84h-1.6M49.50 361.23h-1.6M49.50 356.88h-1.6M49.50 353.33h-1.6M49.50 350.33h-1.6M49.50 347.72h-1.6M49.50 345.43h-1.6M49.50 343.38h-3.0M49.50 329.87h-1.6M49.50 321.96h-1.6M49.50 316.36h-1.6M49.50 312.01h-1.6M49.50 308.46h-1.6M49.50 305.45h-1.6M49.50 302.85h-1.6M49.50 300.55h-1.6M49.50 298.50h-3" stroke="#111" stroke-width="1.1" fill="none"/>
<g transform="translate(43.70,477.50) rotate(-90) scale(0.9600,1)" stroke="#111" stroke-width="0.35"><text x="7.23" y="0" font-size="13">0</text><path d="M3.27 0.00L3.27 -7.85L1.25 -6.41L1.25 -7.49L3.36 -8.94L4.42 -8.94L4.42 0.00Z"/></g>
<g transform="translate(39.30,462.50) rotate(-90)"><text x="0.00" y="0" font-size="7.6" font-weight="bold">0</text></g>
<g transform="translate(43.70,432.62) rotate(-90) scale(0.9600,1)" stroke="#111" stroke-width="0.35"><text x="7.23" y="0" font-size="13">0</text><path d="M3.27 0.00L3.27 -7.85L1.25 -6.41L1.25 -7.49L3.36 -8.94L4.42 -8.94L4.42 0.00Z"/></g>
<g transform="translate(39.30,417.62) rotate(-90)"><path d="M1.77 0.00L1.77 -4.34L0.52 -3.56L0.52 -4.38L1.83 -5.23L2.82 -5.23L2.82 0.00Z"/></g>
<g transform="translate(43.70,387.75) rotate(-90) scale(0.9600,1)" stroke="#111" stroke-width="0.35"><text x="7.23" y="0" font-size="13">0</text><path d="M3.27 0.00L3.27 -7.85L1.25 -6.41L1.25 -7.49L3.36 -8.94L4.42 -8.94L4.42 0.00Z"/></g>
<g transform="translate(39.30,372.75) rotate(-90)"><text x="0.00" y="0" font-size="7.6" font-weight="bold">2</text></g>
<g transform="translate(43.70,342.88) rotate(-90) scale(0.9600,1)" stroke="#111" stroke-width="0.35"><text x="7.23" y="0" font-size="13">0</text><path d="M3.27 0.00L3.27 -7.85L1.25 -6.41L1.25 -7.49L3.36 -8.94L4.42 -8.94L4.42 0.00Z"/></g>
<g transform="translate(39.30,327.88) rotate(-90)"><text x="0.00" y="0" font-size="7.6" font-weight="bold">3</text></g>
<g transform="translate(43.70,298.00) rotate(-90) scale(0.9600,1)" stroke="#111" stroke-width="0.35"><text x="7.23" y="0" font-size="13">0</text><path d="M3.27 0.00L3.27 -7.85L1.25 -6.41L1.25 -7.49L3.36 -8.94L4.42 -8.94L4.42 0.00Z"/></g>
<path d="M38.90 280.40L34.90 279.40" stroke="#111" stroke-width="1.7" stroke-linecap="round"/>
<path d="M120.0 298.5V478.0M49.5 411.5H234.0" stroke="#111" stroke-width="1.5" fill="none"/>
<rect x="314.5" y="298.5" width="185.50" height="179.30" fill="none" stroke="#222" stroke-width="1.5"/>
<path d="M314.50 477.80v3.2M328.46 477.80v1.6M336.63 477.80v1.6M342.42 477.80v1.6M346.91 477.80v1.6M350.59 477.80v1.6M353.69 477.80v1.6M356.38 477.80v1.6M358.75 477.80v1.6M360.88 477.80v3.2M374.84 477.80v1.6M383.00 477.80v1.6M388.80 477.80v1.6M393.29 477.80v1.6M396.96 477.80v1.6M400.07 477.80v1.6M402.76 477.80v1.6M405.13 477.80v1.6M407.25 477.80v3.2M421.21 477.80v1.6M429.38 477.80v1.6M435.17 477.80v1.6M439.66 477.80v1.6M443.34 477.80v1.6M446.44 477.80v1.6M449.13 477.80v1.6M451.50 477.80v1.6M453.62 477.80v3.2M467.59 477.80v1.6M475.75 477.80v1.6M481.55 477.80v1.6M486.04 477.80v1.6M489.71 477.80v1.6M492.82 477.80v1.6M495.51 477.80v1.6M497.88 477.80v1.6M500.00 477.80v3.2" stroke="#111" stroke-width="1.1" fill="none"/>
<g transform="translate(313.70,492.70) scale(0.9600,1)" stroke="#111" stroke-width="0.35"><text x="7.23" y="0" font-size="13">0</text><path d="M3.27 0.00L3.27 -7.85L1.25 -6.41L1.25 -7.49L3.36 -8.94L4.42 -8.94L4.42 0.00Z"/></g>
<g transform="translate(328.50,488.20)"><text x="0.00" y="0" font-size="7.6" font-weight="bold">0</text></g>
<g transform="translate(360.07,492.70) scale(0.9600,1)" stroke="#111" stroke-width="0.35"><text x="7.23" y="0" font-size="13">0</text><path d="M3.27 0.00L3.27 -7.85L1.25 -6.41L1.25 -7.49L3.36 -8.94L4.42 -8.94L4.42 0.00Z"/></g>
<g transform="translate(374.88,488.20)"><path d="M1.77 0.00L1.77 -4.34L0.52 -3.56L0.52 -4.38L1.83 -5.23L2.82 -5.23L2.82 0.00Z"/></g>
<g transform="translate(406.45,492.70) scale(0.9600,1)" stroke="#111" stroke-width="0.35"><text x="7.23" y="0" font-size="13">0</text><path d="M3.27 0.00L3.27 -7.85L1.25 -6.41L1.25 -7.49L3.36 -8.94L4.42 -8.94L4.42 0.00Z"/></g>
<g transform="translate(421.25,488.20)"><text x="0.00" y="0" font-size="7.6" font-weight="bold">2</text></g>
<g transform="translate(452.82,492.70) scale(0.9600,1)" stroke="#111" stroke-width="0.35"><text x="7.23" y="0" font-size="13">0</text><path d="M3.27 0.00L3.27 -7.85L1.25 -6.41L1.25 -7.49L3.36 -8.94L4.42 -8.94L4.42 0.00Z"/></g>
<g transform="translate(467.62,488.20)"><text x="0.00" y="0" font-size="7.6" font-weight="bold">3</text></g>
<g transform="translate(499.20,492.70) scale(0.9600,1)" stroke="#111" stroke-width="0.35"><text x="7.23" y="0" font-size="13">0</text><path d="M3.27 0.00L3.27 -7.85L1.25 -6.41L1.25 -7.49L3.36 -8.94L4.42 -8.94L4.42 0.00Z"/></g>
<path d="M515.90 482.70L516.90 486.40" stroke="#111" stroke-width="1.7" stroke-linecap="round"/>
<path d="M314.50 477.80h-3.0M314.50 464.31h-1.6M314.50 456.41h-1.6M314.50 450.81h-1.6M314.50 446.47h-1.6M314.50 442.92h-1.6M314.50 439.92h-1.6M314.50 437.32h-1.6M314.50 435.03h-1.6M314.50 432.98h-3.0M314.50 419.48h-1.6M314.50 411.59h-1.6M314.50 405.99h-1.6M314.50 401.64h-1.6M314.50 398.09h-1.6M314.50 395.09h-1.6M314.50 392.49h-1.6M314.50 390.20h-1.6M314.50 388.15h-3.0M314.50 374.66h-1.6M314.50 366.76h-1.6M314.50 361.16h-1.6M314.50 356.82h-1.6M314.50 353.27h-1.6M314.50 350.27h-1.6M314.50 347.67h-1.6M314.50 345.38h-1.6M314.50 343.32h-3.0M314.50 329.83h-1.6M314.50 321.94h-1.6M314.50 316.34h-1.6M314.50 311.99h-1.6M314.50 308.44h-1.6M314.50 305.44h-1.6M314.50 302.84h-1.6M314.50 300.55h-1.6M314.50 298.50h-3" stroke="#111" stroke-width="1.1" fill="none"/>
<g transform="translate(308.70,477.30) rotate(-90) scale(0.9600,1)" stroke="#111" stroke-width="0.35"><text x="7.23" y="0" font-size="13">0</text><path d="M3.27 0.00L3.27 -7.85L1.25 -6.41L1.25 -7.49L3.36 -8.94L4.42 -8.94L4.42 0.00Z"/></g>
<g transform="translate(304.30,462.30) rotate(-90)"><text x="0.00" y="0" font-size="7.6" font-weight="bold">0</text></g>
<g transform="translate(308.70,432.48) rotate(-90) scale(0.9600,1)" stroke="#111" stroke-width="0.35"><text x="7.23" y="0" font-size="13">0</text><path d="M3.27 0.00L3.27 -7.85L1.25 -6.41L1.25 -7.49L3.36 -8.94L4.42 -8.94L4.42 0.00Z"/></g>
<g transform="translate(304.30,417.48) rotate(-90)"><path d="M1.77 0.00L1.77 -4.34L0.52 -3.56L0.52 -4.38L1.83 -5.23L2.82 -5.23L2.82 0.00Z"/></g>
<g transform="translate(308.70,387.65) rotate(-90) scale(0.9600,1)" stroke="#111" stroke-width="0.35"><text x="7.23" y="0" font-size="13">0</text><path d="M3.27 0.00L3.27 -7.85L1.25 -6.41L1.25 -7.49L3.36 -8.94L4.42 -8.94L4.42 0.00Z"/></g>
<g transform="translate(304.30,372.65) rotate(-90)"><text x="0.00" y="0" font-size="7.6" font-weight="bold">2</text></g>
<g transform="translate(308.70,342.82) rotate(-90) scale(0.9600,1)" stroke="#111" stroke-width="0.35"><text x="7.23" y="0" font-size="13">0</text><path d="M3.27 0.00L3.27 -7.85L1.25 -6.41L1.25 -7.49L3.36 -8.94L4.42 -8.94L4.42 0.00Z"/></g>
<g transform="translate(304.30,327.82) rotate(-90)"><text x="0.00" y="0" font-size="7.6" font-weight="bold">3</text></g>
<g transform="translate(308.70,298.00) rotate(-90) scale(0.9600,1)" stroke="#111" stroke-width="0.35"><text x="7.23" y="0" font-size="13">0</text><path d="M3.27 0.00L3.27 -7.85L1.25 -6.41L1.25 -7.49L3.36 -8.94L4.42 -8.94L4.42 0.00Z"/></g>
<path d="M303.90 280.40L299.90 279.40" stroke="#111" stroke-width="1.7" stroke-linecap="round"/>
<path d="M385.0 298.5V477.8M314.5 411.5H500.0" stroke="#111" stroke-width="1.5" fill="none"/>
<rect x="49.5" y="560.3" width="184.50" height="179.70" fill="none" stroke="#222" stroke-width="1.5"/>
<path d="M49.50 740.00v3.2M63.39 740.00v1.6M71.51 740.00v1.6M77.27 740.00v1.6M81.74 740.00v1.6M85.39 740.00v1.6M88.48 740.00v1.6M91.16 740.00v1.6M93.51 740.00v1.6M95.62 740.00v3.2M109.51 740.00v1.6M117.63 740.00v1.6M123.40 740.00v1.6M127.86 740.00v1.6M131.52 740.00v1.6M134.61 740.00v1.6M137.28 740.00v1.6M139.64 740.00v1.6M141.75 740.00v3.2M155.64 740.00v1.6M163.76 740.00v1.6M169.52 740.00v1.6M173.99 740.00v1.6M177.64 740.00v1.6M180.73 740.00v1.6M183.41 740.00v1.6M185.76 740.00v1.6M187.88 740.00v3.2M201.76 740.00v1.6M209.88 740.00v1.6M215.65 740.00v1.6M220.11 740.00v1.6M223.77 740.00v1.6M226.86 740.00v1.6M229.53 740.00v1.6M231.89 740.00v1.6M234.00 740.00v3.2" stroke="#111" stroke-width="1.1" fill="none"/>
<g transform="translate(48.70,754.90) scale(0.9600,1)" stroke="#111" stroke-width="0.35"><text x="7.23" y="0" font-size="13">0</text><path d="M3.27 0.00L3.27 -7.85L1.25 -6.41L1.25 -7.49L3.36 -8.94L4.42 -8.94L4.42 0.00Z"/></g>
<g transform="translate(63.50,750.40)"><text x="0.00" y="0" font-size="7.6" font-weight="bold">0</text></g>
<g transform="translate(94.83,754.90) scale(0.9600,1)" stroke="#111" stroke-width="0.35"><text x="7.23" y="0" font-size="13">0</text><path d="M3.27 0.00L3.27 -7.85L1.25 -6.41L1.25 -7.49L3.36 -8.94L4.42 -8.94L4.42 0.00Z"/></g>
<g transform="translate(109.62,750.40)"><path d="M1.77 0.00L1.77 -4.34L0.52 -3.56L0.52 -4.38L1.83 -5.23L2.82 -5.23L2.82 0.00Z"/></g>
<g transform="translate(140.95,754.90) scale(0.9600,1)" stroke="#111" stroke-width="0.35"><text x="7.23" y="0" font-size="13">0</text><path d="M3.27 0.00L3.27 -7.85L1.25 -6.41L1.25 -7.49L3.36 -8.94L4.42 -8.94L4.42 0.00Z"/></g>
<g transform="translate(155.75,750.40)"><text x="0.00" y="0" font-size="7.6" font-weight="bold">2</text></g>
<g transform="translate(187.07,754.90) scale(0.9600,1)" stroke="#111" stroke-width="0.35"><text x="7.23" y="0" font-size="13">0</text><path d="M3.27 0.00L3.27 -7.85L1.25 -6.41L1.25 -7.49L3.36 -8.94L4.42 -8.94L4.42 0.00Z"/></g>
<g transform="translate(201.88,750.40)"><text x="0.00" y="0" font-size="7.6" font-weight="bold">3</text></g>
<g transform="translate(233.20,754.90) scale(0.9600,1)" stroke="#111" stroke-width="0.35"><text x="7.23" y="0" font-size="13">0</text><path d="M3.27 0.00L3.27 -7.85L1.25 -6.41L1.25 -7.49L3.36 -8.94L4.42 -8.94L4.42 0.00Z"/></g>
<path d="M249.90 744.90L250.90 748.60" stroke="#111" stroke-width="1.7" stroke-linecap="round"/>
<path d="M49.50 740.00h-3.0M49.50 726.48h-1.6M49.50 718.57h-1.6M49.50 712.95h-1.6M49.50 708.60h-1.6M49.50 705.04h-1.6M49.50 702.03h-1.6M49.50 699.43h-1.6M49.50 697.13h-1.6M49.50 695.08h-3.0M49.50 681.55h-1.6M49.50 673.64h-1.6M49.50 668.03h-1.6M49.50 663.67h-1.6M49.50 660.12h-1.6M49.50 657.11h-1.6M49.50 654.50h-1.6M49.50 652.21h-1.6M49.50 650.15h-3.0M49.50 636.63h-1.6M49.50 628.72h-1.6M49.50 623.10h-1.6M49.50 618.75h-1.6M49.50 615.19h-1.6M49.50 612.18h-1.6M49.50 609.58h-1.6M49.50 607.28h-1.6M49.50 605.22h-3.0M49.50 591.70h-1.6M49.50 583.79h-1.6M49.50 578.18h-1.6M49.50 573.82h-1.6M49.50 570.27h-1.6M49.50 567.26h-1.6M49.50 564.65h-1.6M49.50 562.36h-1.6M49.50 560.30h-3" stroke="#111" stroke-width="1.1" fill="none"/>
<g transform="translate(43.70,739.50) rotate(-90) scale(0.9600,1)" stroke="#111" stroke-width="0.35"><text x="7.23" y="0" font-size="13">0</text><path d="M3.27 0.00L3.27 -7.85L1.25 -6.41L1.25 -7.49L3.36 -8.94L4.42 -8.94L4.42 0.00Z"/></g>
<g transform="translate(39.30,724.50) rotate(-90)"><text x="0.00" y="0" font-size="7.6" font-weight="bold">0</text></g>
<g transform="translate(43.70,694.58) rotate(-90) scale(0.9600,1)" stroke="#111" stroke-width="0.35"><text x="7.23" y="0" font-size="13">0</text><path d="M3.27 0.00L3.27 -7.85L1.25 -6.41L1.25 -7.49L3.36 -8.94L4.42 -8.94L4.42 0.00Z"/></g>
<g transform="translate(39.30,679.58) rotate(-90)"><path d="M1.77 0.00L1.77 -4.34L0.52 -3.56L0.52 -4.38L1.83 -5.23L2.82 -5.23L2.82 0.00Z"/></g>
<g transform="translate(43.70,649.65) rotate(-90) scale(0.9600,1)" stroke="#111" stroke-width="0.35"><text x="7.23" y="0" font-size="13">0</text><path d="M3.27 0.00L3.27 -7.85L1.25 -6.41L1.25 -7.49L3.36 -8.94L4.42 -8.94L4.42 0.00Z"/></g>
<g transform="translate(39.30,634.65) rotate(-90)"><text x="0.00" y="0" font-size="7.6" font-weight="bold">2</text></g>
<g transform="translate(43.70,604.72) rotate(-90) scale(0.9600,1)" stroke="#111" stroke-width="0.35"><text x="7.23" y="0" font-size="13">0</text><path d="M3.27 0.00L3.27 -7.85L1.25 -6.41L1.25 -7.49L3.36 -8.94L4.42 -8.94L4.42 0.00Z"/></g>
<g transform="translate(39.30,589.72) rotate(-90)"><text x="0.00" y="0" font-size="7.6" font-weight="bold">3</text></g>
<g transform="translate(43.70,559.80) rotate(-90) scale(0.9600,1)" stroke="#111" stroke-width="0.35"><text x="7.23" y="0" font-size="13">0</text><path d="M3.27 0.00L3.27 -7.85L1.25 -6.41L1.25 -7.49L3.36 -8.94L4.42 -8.94L4.42 0.00Z"/></g>
<path d="M38.90 542.20L34.90 541.20" stroke="#111" stroke-width="1.7" stroke-linecap="round"/>
<path d="M128.5 560.3V740.0M49.5 681.5H234.0" stroke="#111" stroke-width="1.5" fill="none"/>
<rect x="315.5" y="560.0" width="185.00" height="179.50" fill="none" stroke="#222" stroke-width="1.5"/>
<path d="M315.50 739.50v3.2M329.42 739.50v1.6M337.57 739.50v1.6M343.35 739.50v1.6M347.83 739.50v1.6M351.49 739.50v1.6M354.59 739.50v1.6M357.27 739.50v1.6M359.63 739.50v1.6M361.75 739.50v3.2M375.67 739.50v1.6M383.82 739.50v1.6M389.60 739.50v1.6M394.08 739.50v1.6M397.74 739.50v1.6M400.84 739.50v1.6M403.52 739.50v1.6M405.88 739.50v1.6M408.00 739.50v3.2M421.92 739.50v1.6M430.07 739.50v1.6M435.85 739.50v1.6M440.33 739.50v1.6M443.99 739.50v1.6M447.09 739.50v1.6M449.77 739.50v1.6M452.13 739.50v1.6M454.25 739.50v3.2M468.17 739.50v1.6M476.32 739.50v1.6M482.10 739.50v1.6M486.58 739.50v1.6M490.24 739.50v1.6M493.34 739.50v1.6M496.02 739.50v1.6M498.38 739.50v1.6M500.50 739.50v3.2" stroke="#111" stroke-width="1.1" fill="none"/>
<g transform="translate(314.70,754.40) scale(0.9600,1)" stroke="#111" stroke-width="0.35"><text x="7.23" y="0" font-size="13">0</text><path d="M3.27 0.00L3.27 -7.85L1.25 -6.41L1.25 -7.49L3.36 -8.94L4.42 -8.94L4.42 0.00Z"/></g>
<g transform="translate(329.50,749.90)"><text x="0.00" y="0" font-size="7.6" font-weight="bold">0</text></g>
<g transform="translate(360.95,754.40) scale(0.9600,1)" stroke="#111" stroke-width="0.35"><text x="7.23" y="0" font-size="13">0</text><path d="M3.27 0.00L3.27 -7.85L1.25 -6.41L1.25 -7.49L3.36 -8.94L4.42 -8.94L4.42 0.00Z"/></g>
<g transform="translate(375.75,749.90)"><path d="M1.77 0.00L1.77 -4.34L0.52 -3.56L0.52 -4.38L1.83 -5.23L2.82 -5.23L2.82 0.00Z"/></g>
<g transform="translate(407.20,754.40) scale(0.9600,1)" stroke="#111" stroke-width="0.35"><text x="7.23" y="0" font-size="13">0</text><path d="M3.27 0.00L3.27 -7.85L1.25 -6.41L1.25 -7.49L3.36 -8.94L4.42 -8.94L4.42 0.00Z"/></g>
<g transform="translate(422.00,749.90)"><text x="0.00" y="0" font-size="7.6" font-weight="bold">2</text></g>
<g transform="translate(453.45,754.40) scale(0.9600,1)" stroke="#111" stroke-width="0.35"><text x="7.23" y="0" font-size="13">0</text><path d="M3.27 0.00L3.27 -7.85L1.25 -6.41L1.25 -7.49L3.36 -8.94L4.42 -8.94L4.42 0.00Z"/></g>
<g transform="translate(468.25,749.90)"><text x="0.00" y="0" font-size="7.6" font-weight="bold">3</text></g>
<g transform="translate(499.70,754.40) scale(0.9600,1)" stroke="#111" stroke-width="0.35"><text x="7.23" y="0" font-size="13">0</text><path d="M3.27 0.00L3.27 -7.85L1.25 -6.41L1.25 -7.49L3.36 -8.94L4.42 -8.94L4.42 0.00Z"/></g>
<path d="M516.40 744.40L517.40 748.10" stroke="#111" stroke-width="1.7" stroke-linecap="round"/>
<path d="M315.50 739.50h-3.0M315.50 725.99h-1.6M315.50 718.09h-1.6M315.50 712.48h-1.6M315.50 708.13h-1.6M315.50 704.58h-1.6M315.50 701.58h-1.6M315.50 698.97h-1.6M315.50 696.68h-1.6M315.50 694.62h-3.0M315.50 681.12h-1.6M315.50 673.21h-1.6M315.50 667.61h-1.6M315.50 663.26h-1.6M315.50 659.71h-1.6M315.50 656.70h-1.6M315.50 654.10h-1.6M315.50 651.80h-1.6M315.50 649.75h-3.0M315.50 636.24h-1.6M315.50 628.34h-1.6M315.50 622.73h-1.6M315.50 618.38h-1.6M315.50 614.83h-1.6M315.50 611.83h-1.6M315.50 609.22h-1.6M315.50 606.93h-1.6M315.50 604.88h-3.0M315.50 591.37h-1.6M315.50 583.46h-1.6M315.50 577.86h-1.6M315.50 573.51h-1.6M315.50 569.96h-1.6M315.50 566.95h-1.6M315.50 564.35h-1.6M315.50 562.05h-1.6M315.50 560.00h-3" stroke="#111" stroke-width="1.1" fill="none"/>
<g transform="translate(309.70,739.00) rotate(-90) scale(0.9600,1)" stroke="#111" stroke-width="0.35"><text x="7.23" y="0" font-size="13">0</text><path d="M3.27 0.00L3.27 -7.85L1.25 -6.41L1.25 -7.49L3.36 -8.94L4.42 -8.94L4.42 0.00Z"/></g>
<g transform="translate(305.30,724.00) rotate(-90)"><text x="0.00" y="0" font-size="7.6" font-weight="bold">0</text></g>
<g transform="translate(309.70,694.12) rotate(-90) scale(0.9600,1)" stroke="#111" stroke-width="0.35"><text x="7.23" y="0" font-size="13">0</text><path d="M3.27 0.00L3.27 -7.85L1.25 -6.41L1.25 -7.49L3.36 -8.94L4.42 -8.94L4.42 0.00Z"/></g>
<g transform="translate(305.30,679.12) rotate(-90)"><path d="M1.77 0.00L1.77 -4.34L0.52 -3.56L0.52 -4.38L1.83 -5.23L2.82 -5.23L2.82 0.00Z"/></g>
<g transform="translate(309.70,649.25) rotate(-90) scale(0.9600,1)" stroke="#111" stroke-width="0.35"><text x="7.23" y="0" font-size="13">0</text><path d="M3.27 0.00L3.27 -7.85L1.25 -6.41L1.25 -7.49L3.36 -8.94L4.42 -8.94L4.42 0.00Z"/></g>
<g transform="translate(305.30,634.25) rotate(-90)"><text x="0.00" y="0" font-size="7.6" font-weight="bold">2</text></g>
<g transform="translate(309.70,604.38) rotate(-90) scale(0.9600,1)" stroke="#111" stroke-width="0.35"><text x="7.23" y="0" font-size="13">0</text><path d="M3.27 0.00L3.27 -7.85L1.25 -6.41L1.25 -7.49L3.36 -8.94L4.42 -8.94L4.42 0.00Z"/></g>
<g transform="translate(305.30,589.38) rotate(-90)"><text x="0.00" y="0" font-size="7.6" font-weight="bold">3</text></g>
<g transform="translate(309.70,559.50) rotate(-90) scale(0.9600,1)" stroke="#111" stroke-width="0.35"><text x="7.23" y="0" font-size="13">0</text><path d="M3.27 0.00L3.27 -7.85L1.25 -6.41L1.25 -7.49L3.36 -8.94L4.42 -8.94L4.42 0.00Z"/></g>
<path d="M304.90 541.90L300.90 540.90" stroke="#111" stroke-width="1.7" stroke-linecap="round"/>
<path d="M394.0 560.0V739.5M315.5 681.5H500.5" stroke="#111" stroke-width="1.5" fill="none"/>
<rect x="49.5" y="823.0" width="184.50" height="179.00" fill="none" stroke="#222" stroke-width="1.5"/>
<path d="M49.50 1002.00v3.2M63.39 1002.00v1.6M71.51 1002.00v1.6M77.27 1002.00v1.6M81.74 1002.00v1.6M85.39 1002.00v1.6M88.48 1002.00v1.6M91.16 1002.00v1.6M93.51 1002.00v1.6M95.62 1002.00v3.2M109.51 1002.00v1.6M117.63 1002.00v1.6M123.40 1002.00v1.6M127.86 1002.00v1.6M131.52 1002.00v1.6M134.61 1002.00v1.6M137.28 1002.00v1.6M139.64 1002.00v1.6M141.75 1002.00v3.2M155.64 1002.00v1.6M163.76 1002.00v1.6M169.52 1002.00v1.6M173.99 1002.00v1.6M177.64 1002.00v1.6M180.73 1002.00v1.6M183.41 1002.00v1.6M185.76 1002.00v1.6M187.88 1002.00v3.2M201.76 1002.00v1.6M209.88 1002.00v1.6M215.65 1002.00v1.6M220.11 1002.00v1.6M223.77 1002.00v1.6M226.86 1002.00v1.6M229.53 1002.00v1.6M231.89 1002.00v1.6M234.00 1002.00v3.2" stroke="#111" stroke-width="1.1" fill="none"/>
<g transform="translate(48.70,1016.90) scale(0.9600,1)" stroke="#111" stroke-width="0.35"><text x="7.23" y="0" font-size="13">0</text><path d="M3.27 0.00L3.27 -7.85L1.25 -6.41L1.25 -7.49L3.36 -8.94L4.42 -8.94L4.42 0.00Z"/></g>
<g transform="translate(63.50,1012.40)"><text x="0.00" y="0" font-size="7.6" font-weight="bold">0</text></g>
<g transform="translate(94.83,1016.90) scale(0.9600,1)" stroke="#111" stroke-width="0.35"><text x="7.23" y="0" font-size="13">0</text><path d="M3.27 0.00L3.27 -7.85L1.25 -6.41L1.25 -7.49L3.36 -8.94L4.42 -8.94L4.42 0.00Z"/></g>
<g transform="translate(109.62,1012.40)"><path d="M1.77 0.00L1.77 -4.34L0.52 -3.56L0.52 -4.38L1.83 -5.23L2.82 -5.23L2.82 0.00Z"/></g>
<g transform="translate(140.95,1016.90) scale(0.9600,1)" stroke="#111" stroke-width="0.35"><text x="7.23" y="0" font-size="13">0</text><path d="M3.27 0.00L3.27 -7.85L1.25 -6.41L1.25 -7.49L3.36 -8.94L4.42 -8.94L4.42 0.00Z"/></g>
<g transform="translate(155.75,1012.40)"><text x="0.00" y="0" font-size="7.6" font-weight="bold">2</text></g>
<g transform="translate(187.07,1016.90) scale(0.9600,1)" stroke="#111" stroke-width="0.35"><text x="7.23" y="0" font-size="13">0</text><path d="M3.27 0.00L3.27 -7.85L1.25 -6.41L1.25 -7.49L3.36 -8.94L4.42 -8.94L4.42 0.00Z"/></g>
<g transform="translate(201.88,1012.40)"><text x="0.00" y="0" font-size="7.6" font-weight="bold">3</text></g>
<g transform="translate(233.20,1016.90) scale(0.9600,1)" stroke="#111" stroke-width="0.35"><text x="7.23" y="0" font-size="13">0</text><path d="M3.27 0.00L3.27 -7.85L1.25 -6.41L1.25 -7.49L3.36 -8.94L4.42 -8.94L4.42 0.00Z"/></g>
<path d="M249.90 1006.90L250.90 1010.60" stroke="#111" stroke-width="1.7" stroke-linecap="round"/>
<path d="M49.50 1002.00h-3.0M49.50 988.53h-1.6M49.50 980.65h-1.6M49.50 975.06h-1.6M49.50 970.72h-1.6M49.50 967.18h-1.6M49.50 964.18h-1.6M49.50 961.59h-1.6M49.50 959.30h-1.6M49.50 957.25h-3.0M49.50 943.78h-1.6M49.50 935.90h-1.6M49.50 930.31h-1.6M49.50 925.97h-1.6M49.50 922.43h-1.6M49.50 919.43h-1.6M49.50 916.84h-1.6M49.50 914.55h-1.6M49.50 912.50h-3.0M49.50 899.03h-1.6M49.50 891.15h-1.6M49.50 885.56h-1.6M49.50 881.22h-1.6M49.50 877.68h-1.6M49.50 874.68h-1.6M49.50 872.09h-1.6M49.50 869.80h-1.6M49.50 867.75h-3.0M49.50 854.28h-1.6M49.50 846.40h-1.6M49.50 840.81h-1.6M49.50 836.47h-1.6M49.50 832.93h-1.6M49.50 829.93h-1.6M49.50 827.34h-1.6M49.50 825.05h-1.6M49.50 823.00h-3" stroke="#111" stroke-width="1.1" fill="none"/>
<g transform="translate(43.70,1001.50) rotate(-90) scale(0.9600,1)" stroke="#111" stroke-width="0.35"><text x="7.23" y="0" font-size="13">0</text><path d="M3.27 0.00L3.27 -7.85L1.25 -6.41L1.25 -7.49L3.36 -8.94L4.42 -8.94L4.42 0.00Z"/></g>
<g transform="translate(39.30,986.50) rotate(-90)"><text x="0.00" y="0" font-size="7.6" font-weight="bold">0</text></g>
<g transform="translate(43.70,956.75) rotate(-90) scale(0.9600,1)" stroke="#111" stroke-width="0.35"><text x="7.23" y="0" font-size="13">0</text><path d="M3.27 0.00L3.27 -7.85L1.25 -6.41L1.25 -7.49L3.36 -8.94L4.42 -8.94L4.42 0.00Z"/></g>
<g transform="translate(39.30,941.75) rotate(-90)"><path d="M1.77 0.00L1.77 -4.34L0.52 -3.56L0.52 -4.38L1.83 -5.23L2.82 -5.23L2.82 0.00Z"/></g>
<g transform="translate(43.70,912.00) rotate(-90) scale(0.9600,1)" stroke="#111" stroke-width="0.35"><text x="7.23" y="0" font-size="13">0</text><path d="M3.27 0.00L3.27 -7.85L1.25 -6.41L1.25 -7.49L3.36 -8.94L4.42 -8.94L4.42 0.00Z"/></g>
<g transform="translate(39.30,897.00) rotate(-90)"><text x="0.00" y="0" font-size="7.6" font-weight="bold">2</text></g>
<g transform="translate(43.70,867.25) rotate(-90) scale(0.9600,1)" stroke="#111" stroke-width="0.35"><text x="7.23" y="0" font-size="13">0</text><path d="M3.27 0.00L3.27 -7.85L1.25 -6.41L1.25 -7.49L3.36 -8.94L4.42 -8.94L4.42 0.00Z"/></g>
<g transform="translate(39.30,852.25) rotate(-90)"><text x="0.00" y="0" font-size="7.6" font-weight="bold">3</text></g>
<g transform="translate(43.70,822.50) rotate(-90) scale(0.9600,1)" stroke="#111" stroke-width="0.35"><text x="7.23" y="0" font-size="13">0</text><path d="M3.27 0.00L3.27 -7.85L1.25 -6.41L1.25 -7.49L3.36 -8.94L4.42 -8.94L4.42 0.00Z"/></g>
<path d="M38.90 804.90L34.90 803.90" stroke="#111" stroke-width="1.7" stroke-linecap="round"/>
<path d="M120.5 823.0V1002.0M49.5 926.5H234.0" stroke="#111" stroke-width="1.5" fill="none"/>
<rect x="315.5" y="823.0" width="185.00" height="178.50" fill="none" stroke="#222" stroke-width="1.5"/>
<path d="M315.50 1001.50v3.2M329.42 1001.50v1.6M337.57 1001.50v1.6M343.35 1001.50v1.6M347.83 1001.50v1.6M351.49 1001.50v1.6M354.59 1001.50v1.6M357.27 1001.50v1.6M359.63 1001.50v1.6M361.75 1001.50v3.2M375.67 1001.50v1.6M383.82 1001.50v1.6M389.60 1001.50v1.6M394.08 1001.50v1.6M397.74 1001.50v1.6M400.84 1001.50v1.6M403.52 1001.50v1.6M405.88 1001.50v1.6M408.00 1001.50v3.2M421.92 1001.50v1.6M430.07 1001.50v1.6M435.85 1001.50v1.6M440.33 1001.50v1.6M443.99 1001.50v1.6M447.09 1001.50v1.6M449.77 1001.50v1.6M452.13 1001.50v1.6M454.25 1001.50v3.2M468.17 1001.50v1.6M476.32 1001.50v1.6M482.10 1001.50v1.6M486.58 1001.50v1.6M490.24 1001.50v1.6M493.34 1001.50v1.6M496.02 1001.50v1.6M498.38 1001.50v1.6M500.50 1001.50v3.2" stroke="#111" stroke-width="1.1" fill="none"/>
<g transform="translate(314.70,1016.40) scale(0.9600,1)" stroke="#111" stroke-width="0.35"><text x="7.23" y="0" font-size="13">0</text><path d="M3.27 0.00L3.27 -7.85L1.25 -6.41L1.25 -7.49L3.36 -8.94L4.42 -8.94L4.42 0.00Z"/></g>
<g transform="translate(329.50,1011.90)"><text x="0.00" y="0" font-size="7.6" font-weight="bold">0</text></g>
<g transform="translate(360.95,1016.40) scale(0.9600,1)" stroke="#111" stroke-width="0.35"><text x="7.23" y="0" font-size="13">0</text><path d="M3.27 0.00L3.27 -7.85L1.25 -6.41L1.25 -7.49L3.36 -8.94L4.42 -8.94L4.42 0.00Z"/></g>
<g transform="translate(375.75,1011.90)"><path d="M1.77 0.00L1.77 -4.34L0.52 -3.56L0.52 -4.38L1.83 -5.23L2.82 -5.23L2.82 0.00Z"/></g>
<g transform="translate(407.20,1016.40) scale(0.9600,1)" stroke="#111" stroke-width="0.35"><text x="7.23" y="0" font-size="13">0</text><path d="M3.27 0.00L3.27 -7.85L1.25 -6.41L1.25 -7.49L3.36 -8.94L4.42 -8.94L4.42 0.00Z"/></g>
<g transform="translate(422.00,1011.90)"><text x="0.00" y="0" font-size="7.6" font-weight="bold">2</text></g>
<g transform="translate(453.45,1016.40) scale(0.9600,1)" stroke="#111" stroke-width="0.35"><text x="7.23" y="0" font-size="13">0</text><path d="M3.27 0.00L3.27 -7.85L1.25 -6.41L1.25 -7.49L3.36 -8.94L4.42 -8.94L4.42 0.00Z"/></g>
<g transform="translate(468.25,1011.90)"><text x="0.00" y="0" font-size="7.6" font-weight="bold">3</text></g>
<g transform="translate(499.70,1016.40) scale(0.9600,1)" stroke="#111" stroke-width="0.35"><text x="7.23" y="0" font-size="13">0</text><path d="M3.27 0.00L3.27 -7.85L1.25 -6.41L1.25 -7.49L3.36 -8.94L4.42 -8.94L4.42 0.00Z"/></g>
<path d="M516.40 1006.40L517.40 1010.10" stroke="#111" stroke-width="1.7" stroke-linecap="round"/>
<path d="M315.50 1001.50h-3.0M315.50 988.07h-1.6M315.50 980.21h-1.6M315.50 974.63h-1.6M315.50 970.31h-1.6M315.50 966.78h-1.6M315.50 963.79h-1.6M315.50 961.20h-1.6M315.50 958.92h-1.6M315.50 956.88h-3.0M315.50 943.44h-1.6M315.50 935.58h-1.6M315.50 930.01h-1.6M315.50 925.68h-1.6M315.50 922.15h-1.6M315.50 919.16h-1.6M315.50 916.57h-1.6M315.50 914.29h-1.6M315.50 912.25h-3.0M315.50 898.82h-1.6M315.50 890.96h-1.6M315.50 885.38h-1.6M315.50 881.06h-1.6M315.50 877.53h-1.6M315.50 874.54h-1.6M315.50 871.95h-1.6M315.50 869.67h-1.6M315.50 867.62h-3.0M315.50 854.19h-1.6M315.50 846.33h-1.6M315.50 840.76h-1.6M315.50 836.43h-1.6M315.50 832.90h-1.6M315.50 829.91h-1.6M315.50 827.32h-1.6M315.50 825.04h-1.6M315.50 823.00h-3" stroke="#111" stroke-width="1.1" fill="none"/>
<g transform="translate(309.70,1001.00) rotate(-90) scale(0.9600,1)" stroke="#111" stroke-width="0.35"><text x="7.23" y="0" font-size="13">0</text><path d="M3.27 0.00L3.27 -7.85L1.25 -6.41L1.25 -7.49L3.36 -8.94L4.42 -8.94L4.42 0.00Z"/></g>
<g transform="translate(305.30,986.00) rotate(-90)"><text x="0.00" y="0" font-size="7.6" font-weight="bold">0</text></g>
<g transform="translate(309.70,956.38) rotate(-90) scale(0.9600,1)" stroke="#111" stroke-width="0.35"><text x="7.23" y="0" font-size="13">0</text><path d="M3.27 0.00L3.27 -7.85L1.25 -6.41L1.25 -7.49L3.36 -8.94L4.42 -8.94L4.42 0.00Z"/></g>
<g transform="translate(305.30,941.38) rotate(-90)"><path d="M1.77 0.00L1.77 -4.34L0.52 -3.56L0.52 -4.38L1.83 -5.23L2.82 -5.23L2.82 0.00Z"/></g>
<g transform="translate(309.70,911.75) rotate(-90) scale(0.9600,1)" stroke="#111" stroke-width="0.35"><text x="7.23" y="0" font-size="13">0</text><path d="M3.27 0.00L3.27 -7.85L1.25 -6.41L1.25 -7.49L3.36 -8.94L4.42 -8.94L4.42 0.00Z"/></g>
<g transform="translate(305.30,896.75) rotate(-90)"><text x="0.00" y="0" font-size="7.6" font-weight="bold">2</text></g>
<g transform="translate(309.70,867.12) rotate(-90) scale(0.9600,1)" stroke="#111" stroke-width="0.35"><text x="7.23" y="0" font-size="13">0</text><path d="M3.27 0.00L3.27 -7.85L1.25 -6.41L1.25 -7.49L3.36 -8.94L4.42 -8.94L4.42 0.00Z"/></g>
<g transform="translate(305.30,852.12) rotate(-90)"><text x="0.00" y="0" font-size="7.6" font-weight="bold">3</text></g>
<g transform="translate(309.70,822.50) rotate(-90) scale(0.9600,1)" stroke="#111" stroke-width="0.35"><text x="7.23" y="0" font-size="13">0</text><path d="M3.27 0.00L3.27 -7.85L1.25 -6.41L1.25 -7.49L3.36 -8.94L4.42 -8.94L4.42 0.00Z"/></g>
<path d="M304.90 804.90L300.90 803.90" stroke="#111" stroke-width="1.7" stroke-linecap="round"/>
<path d="M385.5 823.0V1001.5M315.5 926.5H500.5" stroke="#111" stroke-width="1.5" fill="none"/>
<g transform="translate(171.50,143.20)" stroke="#111" stroke-width="0.35"><text x="0.00 8.67" y="0" font-size="12">R2</text></g>
<g transform="translate(437.20,142.40)" stroke="#111" stroke-width="0.35"><text x="0.00 8.67" y="0" font-size="12">R2</text></g>
<g transform="translate(141.40,15.80) scale(0.9300,1)"><text x="-50.43 -35.70 -19.83 -5.10 7.37 22.10 37.97" y="0" font-size="20.4" font-weight="bold">CONTROL</text></g>
<g transform="translate(406.60,15.00) scale(0.9300,1)"><text x="-37.97 -23.23 -10.77 2.83 9.63 23.23" y="0" font-size="20.4" font-weight="bold">CTX-SC</text></g>
<g transform="translate(49.90,262.60) scale(0.9400,1)"><text x="0.00 14.66 29.32 40.61 51.90 58.66 71.06 76.70 89.10" y="0" font-size="20.3" font-weight="bold">CD45-FITC</text></g>
<path d="M166.5 256.2H493" stroke="#000" stroke-width="2.5"/>
<path d="M491.8 252.0L501.6 256.2L491.8 260.4Z" fill="#000"/>
<g transform="translate(50.40,518.40) scale(0.9400,1)"><text x="0.00 14.66 50.78 63.18 69.94 82.34 87.98 100.38" y="0" font-size="20.3" font-weight="bold">CDb-FITC</text><path d="M34.06 0.00L34.06 -11.60L30.71 -9.51L30.71 -11.70L34.21 -13.97L36.84 -13.97L36.84 0.00ZM44.23 0.00L44.23 -11.60L40.88 -9.51L40.88 -11.70L44.38 -13.97L47.01 -13.97L47.01 0.00Z"/></g>
<path d="M166.5 511.9H493" stroke="#000" stroke-width="2.5"/>
<path d="M491.8 507.7L501.6 511.9L491.8 516.1Z" fill="#000"/>
<g transform="translate(50.40,781.80) scale(0.9450,1)"><text x="0.00 14.66 50.78 63.18 69.94 82.34 87.98 100.38" y="0" font-size="20.3" font-weight="bold">CDb-FITC</text><path d="M34.06 0.00L34.06 -11.60L30.71 -9.51L30.71 -11.70L34.21 -13.97L36.84 -13.97L36.84 0.00ZM44.23 0.00L44.23 -11.60L40.88 -9.51L40.88 -11.70L44.38 -13.97L47.01 -13.97L47.01 0.00Z"/></g>
<path d="M166.5 773.3H493" stroke="#000" stroke-width="2.5"/>
<path d="M491.8 769.0999999999999L501.6 773.3L491.8 777.5Z" fill="#000"/>
<g transform="translate(50.90,1045.60) scale(0.9400,1)"><text x="0.00 14.66 25.95 37.24 48.53 55.29 67.69 73.33 85.73" y="0" font-size="20.3" font-weight="bold">B220-FITC</text></g>
<path d="M166.5 1038.3H493" stroke="#000" stroke-width="2.5"/>
<path d="M491.8 1034.1L501.6 1038.3L491.8 1042.5Z" fill="#000"/>
<g transform="translate(15.20,162.60) rotate(-90) scale(0.9600,1)"><text x="-63.22 -49.75 -30.66 -17.19 -2.60 10.48 22.82 35.16 48.64" y="0" font-size="20.2" font-weight="bold">SSSCATTER</text></g>
<g transform="translate(15.20,404.60) rotate(-90) scale(0.9630,1)"><text x="-75.39 -64.91 -52.55 -45.82 -34.59 -13.27 -6.54 9.17 17.03 34.99 41.72 48.45 61.92" y="0" font-size="20.2" font-weight="bold">LY-6G(Gr-)-PE</text><path d="M28.48 0.00L28.48 -11.54L25.14 -9.46L25.14 -11.64L28.62 -13.90L31.25 -13.90L31.25 0.00Z"/></g>
<g transform="translate(15.20,652.50) rotate(-90) scale(0.9530,1)"><text x="-95.97 -81.38 -66.79 -38.71 -31.99 -18.51 -3.93 2.80 19.63 44.34 55.57 62.30 69.02 82.50" y="0" font-size="20.2" font-weight="bold">CD3(ER-MP2)-PE</text><path d="M-50.85 0.00L-50.85 -11.54L-54.18 -9.46L-54.18 -11.64L-50.70 -13.90L-48.07 -13.90L-48.07 0.00ZM37.82 0.00L37.82 -11.54L34.48 -9.46L34.48 -11.64L37.96 -13.90L40.59 -13.90L40.59 0.00Z"/></g>
<g transform="translate(15.20,967.20) rotate(-90) scale(0.9300,1)"><text x="-37.04 -22.45 -7.87 3.37 10.10 23.57" y="0" font-size="20.2" font-weight="bold">CD3-PE</text></g>
<g transform="translate(63.00,316.60) scale(0.9300,1)"><text x="8.18 12.26 24.52" y="0" font-size="14.7" font-weight="bold">.7%</text><path d="M3.43 0.00L3.43 -8.40L1.00 -6.88L1.00 -8.47L3.54 -10.11L5.45 -10.11L5.45 0.00Z"/></g>
<g transform="translate(229.20,316.60) scale(0.9300,1)"><text x="-37.59 -29.41 -25.33 -13.07" y="0" font-size="14.7" font-weight="bold">4.9%</text></g>
<g transform="translate(229.20,470.20) scale(0.9300,1)"><text x="-29.41 -25.33 -13.07" y="0" font-size="14.7" font-weight="bold">.8%</text><path d="M-34.16 0.00L-34.16 -8.40L-36.58 -6.88L-36.58 -8.47L-34.05 -10.11L-32.14 -10.11L-32.14 0.00Z"/></g>
<g transform="translate(327.80,316.60) scale(0.9300,1)"><text x="0.00 8.18 12.26 24.52" y="0" font-size="14.7" font-weight="bold">3.7%</text></g>
<g transform="translate(495.80,315.80) scale(0.9300,1)"><text x="-45.77 -37.59 -29.41 -25.33 -13.07" y="0" font-size="14.7" font-weight="bold">53.5%</text></g>
<g transform="translate(495.20,469.80) scale(0.9300,1)"><text x="-37.59 -29.41 -25.33 -13.07" y="0" font-size="14.7" font-weight="bold">2.8%</text></g>
<g transform="translate(54.40,577.90) scale(0.9300,1)"><text x="0.00 8.18 16.35 20.44 32.69" y="0" font-size="14.7" font-weight="bold">56.7%</text></g>
<g transform="translate(229.20,577.90) scale(0.9300,1)"><text x="-37.59 -29.41 -13.07" y="0" font-size="14.7" font-weight="bold">5.%</text><path d="M-21.90 0.00L-21.90 -8.40L-24.33 -6.88L-24.33 -8.47L-21.79 -10.11L-19.88 -10.11L-19.88 0.00Z"/></g>
<g transform="translate(229.40,733.60) scale(0.9300,1)"><text x="-37.59 -29.41 -25.33 -13.07" y="0" font-size="14.7" font-weight="bold">0.3%</text></g>
<g transform="translate(319.40,576.80) scale(0.9300,1)"><text x="8.18 16.35 20.44 32.69" y="0" font-size="14.7" font-weight="bold">9.5%</text><path d="M3.43 0.00L3.43 -8.40L1.00 -6.88L1.00 -8.47L3.54 -10.11L5.45 -10.11L5.45 0.00Z"/></g>
<g transform="translate(495.80,576.80) scale(0.9300,1)"><text x="-45.77 -37.59 -29.41 -25.33 -13.07" y="0" font-size="14.7" font-weight="bold">58.4%</text></g>
<g transform="translate(495.60,733.00) scale(0.9300,1)"><text x="-37.59 -29.41 -25.33 -13.07" y="0" font-size="14.7" font-weight="bold">0.7%</text></g>
<g transform="translate(55.50,841.60) scale(0.9300,1)"><text x="0.00 8.18 16.35 20.44 32.69" y="0" font-size="14.7" font-weight="bold">40.7%</text></g>
<g transform="translate(229.80,841.60) scale(0.9300,1)"><text x="-29.41 -25.33 -13.07" y="0" font-size="14.7" font-weight="bold">.6%</text><path d="M-34.16 0.00L-34.16 -8.40L-36.58 -6.88L-36.58 -8.47L-34.05 -10.11L-32.14 -10.11L-32.14 0.00Z"/></g>
<g transform="translate(229.90,994.20) scale(0.9300,1)"><text x="-45.77 -37.59 -29.41 -25.33 -13.07" y="0" font-size="14.7" font-weight="bold">43.6%</text></g>
<g transform="translate(320.50,841.60) scale(0.9300,1)"><text x="8.18 16.35 20.44 32.69" y="0" font-size="14.7" font-weight="bold">8.4%</text><path d="M3.43 0.00L3.43 -8.40L1.00 -6.88L1.00 -8.47L3.54 -10.11L5.45 -10.11L5.45 0.00Z"/></g>
<g transform="translate(494.80,841.60) scale(0.9300,1)"><text x="-37.59 -29.41 -25.33 -13.07" y="0" font-size="14.7" font-weight="bold">0.4%</text></g>
<g transform="translate(492.30,993.60) scale(0.9300,1)"><text x="-25.33 -13.07" y="0" font-size="14.7" font-weight="bold">7%</text></g>
</svg></body></html>
